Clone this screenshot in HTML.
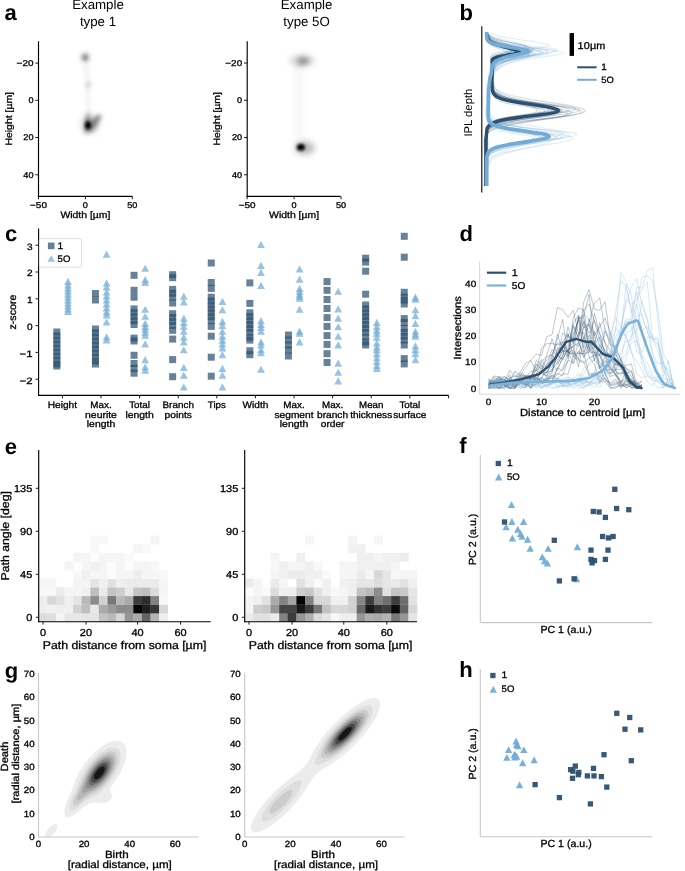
<!DOCTYPE html><html><head><meta charset="utf-8"><title>figure</title><style>html,body{margin:0;padding:0;background:#fff;}svg{display:block;will-change:transform;}text{font-family:"Liberation Sans",sans-serif;text-rendering:geometricPrecision;}</style></head><body>
<svg width="685" height="871" viewBox="0 0 685 871">
<defs><filter id="b1" x="-50%" y="-50%" width="200%" height="200%"><feGaussianBlur stdDeviation="1.4"/></filter><filter id="b2" x="-50%" y="-50%" width="200%" height="200%"><feGaussianBlur stdDeviation="2.0"/></filter><filter id="b3" x="-50%" y="-50%" width="200%" height="200%"><feGaussianBlur stdDeviation="3.0"/></filter></defs>
<rect width="685" height="871" fill="#fff"/>
<text x="4.50" y="20.20" font-size="22.00" text-anchor="start" font-weight="bold" fill="#000">a</text>
<text x="98.00" y="9.30" font-size="13.30" text-anchor="middle" font-weight="normal" fill="#000">Example</text>
<text x="98.00" y="25.80" font-size="13.30" text-anchor="middle" font-weight="normal" fill="#000">type 1</text>
<text x="306.60" y="9.30" font-size="13.30" text-anchor="middle" font-weight="normal" fill="#000">Example</text>
<text x="306.60" y="25.80" font-size="13.30" text-anchor="middle" font-weight="normal" fill="#000">type 5O</text>
<line x1="38.50" y1="41.20" x2="38.50" y2="196.90" stroke="#000" stroke-width="1.15"/>
<line x1="37.93" y1="196.30" x2="132.40" y2="196.30" stroke="#000" stroke-width="1.15"/>
<line x1="35.30" y1="63.06" x2="38.50" y2="63.06" stroke="#000" stroke-width="0.9"/>
<text x="33.50" y="65.96" font-size="8.40" text-anchor="end" fill="#000" textLength="16.88" lengthAdjust="spacingAndGlyphs" stroke="#000" stroke-width="0.3">−20</text>
<line x1="35.30" y1="100.30" x2="38.50" y2="100.30" stroke="#000" stroke-width="0.9"/>
<text x="33.50" y="103.20" font-size="8.40" text-anchor="end" fill="#000" textLength="5.09" lengthAdjust="spacingAndGlyphs" stroke="#000" stroke-width="0.3">0</text>
<line x1="35.30" y1="137.54" x2="38.50" y2="137.54" stroke="#000" stroke-width="0.9"/>
<text x="33.50" y="140.44" font-size="8.40" text-anchor="end" fill="#000" textLength="10.18" lengthAdjust="spacingAndGlyphs" stroke="#000" stroke-width="0.3">20</text>
<line x1="35.30" y1="174.78" x2="38.50" y2="174.78" stroke="#000" stroke-width="0.9"/>
<text x="33.50" y="177.68" font-size="8.40" text-anchor="end" fill="#000" textLength="10.18" lengthAdjust="spacingAndGlyphs" stroke="#000" stroke-width="0.3">40</text>
<line x1="38.50" y1="196.30" x2="38.50" y2="199.20" stroke="#000" stroke-width="0.9"/>
<text x="38.50" y="207.70" font-size="8.40" text-anchor="middle" fill="#000" textLength="16.88" lengthAdjust="spacingAndGlyphs" stroke="#000" stroke-width="0.3">−50</text>
<line x1="85.40" y1="196.30" x2="85.40" y2="199.20" stroke="#000" stroke-width="0.9"/>
<text x="85.40" y="207.70" font-size="8.40" text-anchor="middle" fill="#000" textLength="5.09" lengthAdjust="spacingAndGlyphs" stroke="#000" stroke-width="0.3">0</text>
<line x1="132.30" y1="196.30" x2="132.30" y2="199.20" stroke="#000" stroke-width="0.9"/>
<text x="132.30" y="207.70" font-size="8.40" text-anchor="middle" fill="#000" textLength="10.18" lengthAdjust="spacingAndGlyphs" stroke="#000" stroke-width="0.3">50</text>
<text x="85.40" y="218.00" font-size="9.35" text-anchor="middle" fill="#000" textLength="49.96" lengthAdjust="spacingAndGlyphs" stroke="#000" stroke-width="0.3">Width [µm]</text>
<text x="11.60" y="118.80" font-size="9.35" text-anchor="middle" fill="#000" textLength="53.53" lengthAdjust="spacingAndGlyphs" transform="rotate(-90 11.60 118.80)" stroke="#000" stroke-width="0.3">Height [µm]</text>
<line x1="247.20" y1="41.20" x2="247.20" y2="196.90" stroke="#000" stroke-width="1.15"/>
<line x1="246.63" y1="196.30" x2="340.60" y2="196.30" stroke="#000" stroke-width="1.15"/>
<line x1="244.00" y1="63.06" x2="247.20" y2="63.06" stroke="#000" stroke-width="0.9"/>
<text x="242.20" y="65.96" font-size="8.40" text-anchor="end" fill="#000" textLength="16.88" lengthAdjust="spacingAndGlyphs" stroke="#000" stroke-width="0.3">−20</text>
<line x1="244.00" y1="100.30" x2="247.20" y2="100.30" stroke="#000" stroke-width="0.9"/>
<text x="242.20" y="103.20" font-size="8.40" text-anchor="end" fill="#000" textLength="5.09" lengthAdjust="spacingAndGlyphs" stroke="#000" stroke-width="0.3">0</text>
<line x1="244.00" y1="137.54" x2="247.20" y2="137.54" stroke="#000" stroke-width="0.9"/>
<text x="242.20" y="140.44" font-size="8.40" text-anchor="end" fill="#000" textLength="10.18" lengthAdjust="spacingAndGlyphs" stroke="#000" stroke-width="0.3">20</text>
<line x1="244.00" y1="174.78" x2="247.20" y2="174.78" stroke="#000" stroke-width="0.9"/>
<text x="242.20" y="177.68" font-size="8.40" text-anchor="end" fill="#000" textLength="10.18" lengthAdjust="spacingAndGlyphs" stroke="#000" stroke-width="0.3">40</text>
<line x1="247.20" y1="196.30" x2="247.20" y2="199.20" stroke="#000" stroke-width="0.9"/>
<text x="247.20" y="207.70" font-size="8.40" text-anchor="middle" fill="#000" textLength="16.88" lengthAdjust="spacingAndGlyphs" stroke="#000" stroke-width="0.3">−50</text>
<line x1="294.10" y1="196.30" x2="294.10" y2="199.20" stroke="#000" stroke-width="0.9"/>
<text x="294.10" y="207.70" font-size="8.40" text-anchor="middle" fill="#000" textLength="5.09" lengthAdjust="spacingAndGlyphs" stroke="#000" stroke-width="0.3">0</text>
<line x1="341.00" y1="196.30" x2="341.00" y2="199.20" stroke="#000" stroke-width="0.9"/>
<text x="341.00" y="207.70" font-size="8.40" text-anchor="middle" fill="#000" textLength="10.18" lengthAdjust="spacingAndGlyphs" stroke="#000" stroke-width="0.3">50</text>
<text x="294.10" y="218.00" font-size="9.35" text-anchor="middle" fill="#000" textLength="49.96" lengthAdjust="spacingAndGlyphs" stroke="#000" stroke-width="0.3">Width [µm]</text>
<text x="220.30" y="118.80" font-size="9.35" text-anchor="middle" fill="#000" textLength="53.53" lengthAdjust="spacingAndGlyphs" transform="rotate(-90 220.30 118.80)" stroke="#000" stroke-width="0.3">Height [µm]</text>
<g filter="url(#b2)">
<path d="M85.5,58 L87,80 L88,100 L88.5,120" stroke="#000" stroke-opacity="0.08" stroke-width="3" fill="none"/>
<ellipse cx="85.2" cy="57.3" rx="3.0" ry="3.0" fill="#000" fill-opacity="0.55"/>
<ellipse cx="88.4" cy="84.4" rx="2.4" ry="2.6" fill="#000" fill-opacity="0.2"/>
<path d="M84,132 L85,120 L88,112 L90.5,121 L98.5,114 L102,116.5 L95,128.5 L89.5,133 Z" fill="#000" fill-opacity="0.42"/>
</g>
<g filter="url(#b3)">
<ellipse cx="90" cy="124" rx="9" ry="10" fill="#000" fill-opacity="0.14"/>
<ellipse cx="85.5" cy="57.5" rx="5" ry="5" fill="#000" fill-opacity="0.1"/>
</g>
<g filter="url(#b1)">
<ellipse cx="88.0" cy="125.3" rx="3.0" ry="4.0" fill="#000" fill-opacity="1"/>
</g>
<g filter="url(#b3)">
<ellipse cx="302" cy="60.5" rx="13" ry="5.5" fill="#000" fill-opacity="0.14"/>
<path d="M298.5,64 L298.5,142" stroke="#000" stroke-opacity="0.05" stroke-width="5" fill="none"/>
<ellipse cx="303" cy="61" rx="6" ry="3" fill="#000" fill-opacity="0.55"/>
<ellipse cx="305" cy="148" rx="10" ry="6.5" fill="#000" fill-opacity="0.28"/>
</g>
<g filter="url(#b1)">
<ellipse cx="300.9" cy="147.3" rx="4.1" ry="3.5" fill="#000" fill-opacity="1"/>
</g>
<text x="459.50" y="19.80" font-size="22.00" text-anchor="start" font-weight="bold" fill="#000">b</text>
<line x1="481.80" y1="26.20" x2="481.80" y2="192.40" stroke="#000" stroke-width="1.1"/>
<text x="472.00" y="112.60" font-size="11.30" text-anchor="middle" font-weight="normal" fill="#000" transform="rotate(-90 472.00 112.60)">IPL depth</text>
<path d="M488.4,35.0L488.9,36.0L489.6,37.0L490.4,38.0L491.6,39.1L493.0,40.1L494.8,41.1L496.9,42.1L499.2,43.1L501.7,44.1L504.4,45.1L506.9,46.1L509.1,47.2L510.9,48.2L511.9,49.2L512.2,50.2L510.4,51.2L506.9,52.2L502.6,53.2L498.6,54.3L495.6,55.3L493.7,56.3L492.6,57.3L492.1,58.3L491.8,59.3L491.6,60.3L491.5,61.3L491.5,62.4L491.4,63.4L491.3,64.4L491.3,65.4L491.3,66.4L491.3,67.4L491.3,68.4L491.3,69.5L491.3,70.5L491.3,71.5L491.2,72.5L491.2,73.5L491.2,74.5L491.4,75.5L491.6,76.6L491.9,77.6L492.1,78.6L492.3,79.6L492.6,80.6L492.8,81.6L493.1,82.6L493.3,83.6L493.4,84.7L493.3,85.7L493.3,86.7L493.2,87.7L493.2,88.7L493.3,89.7L493.3,90.7L493.5,91.8L493.8,92.8L494.2,93.8L494.8,94.8L495.7,95.8L496.8,96.8L498.4,97.8L500.4,98.8L502.9,99.9L506.0,100.9L509.5,101.9L513.4,102.9L517.7,103.9L522.0,104.9L526.2,105.9L530.1,107.0L533.3,108.0L535.8,109.0L537.2,110.0L537.5,111.0L536.0,112.0L532.6,113.0L527.6,114.0L521.7,115.1L515.4,116.1L509.3,117.1L503.9,118.1L499.3,119.1L495.7,120.1L493.0,121.1L491.1,122.2L489.7,123.2L488.7,124.2L488.1,125.2L487.6,126.2L487.2,127.2L486.9,128.2L486.7,129.2L486.5,130.3L486.4,131.3L486.2,132.3L486.0,133.3L485.8,134.3L485.6,135.3L485.5,136.3L485.3,137.4L485.1,138.4L484.9,139.4L484.8,140.4L484.9,141.4L484.9,142.4L484.9,143.4L484.9,144.4L484.9,145.5L484.9,146.5L484.9,147.5L484.9,148.5L484.9,149.5L485.0,150.5L485.0,151.5L485.0,152.6L485.0,153.6L485.0,154.6L485.0,155.6L485.0,156.6L485.0,157.6L485.1,158.6L485.1,159.7L485.1,160.7L485.1,161.7L485.1,162.7L485.1,163.7L485.1,164.7L485.1,165.7L485.1,166.7L485.2,167.8L485.2,168.8L485.2,169.8L485.2,170.8L485.2,171.8L485.2,172.8L485.2,173.8L485.2,174.9L485.3,175.9L485.3,176.9L485.3,177.9L485.3,178.9L485.3,179.9L485.3,180.9L485.3,181.9L485.3,183.0L485.3,184.0L485.4,185.0L485.4,186.0" fill="none" stroke="#2c5070" stroke-width="1.1" stroke-opacity="0.2" stroke-linejoin="round" stroke-linecap="butt"/>
<path d="M486.8,35.0L486.9,36.0L487.1,37.0L487.3,38.0L487.7,39.1L488.3,40.1L489.3,41.1L490.6,42.1L492.5,43.1L494.9,44.1L497.8,45.1L500.9,46.1L504.0,47.2L506.9,48.2L509.3,49.2L510.8,50.2L511.4,51.2L510.8,52.2L508.9,53.2L506.3,54.3L503.3,55.3L500.4,56.3L497.8,57.3L495.7,58.3L494.0,59.3L492.9,60.3L492.1,61.3L491.7,62.4L491.5,63.4L491.3,64.4L491.3,65.4L491.4,66.4L491.5,67.4L491.6,68.4L491.7,69.5L491.8,70.5L491.9,71.5L492.0,72.5L492.1,73.5L492.2,74.5L492.2,75.5L492.1,76.6L492.1,77.6L492.0,78.6L492.0,79.6L492.0,80.6L491.9,81.6L491.9,82.6L491.9,83.6L492.0,84.7L492.1,85.7L492.3,86.7L492.5,87.7L492.8,88.7L493.2,89.7L493.8,90.7L494.5,91.8L495.4,92.8L496.5,93.8L497.9,94.8L499.5,95.8L501.4,96.8L503.7,97.8L506.3,98.8L509.2,99.9L512.5,100.9L516.0,101.9L519.7,102.9L523.5,103.9L527.2,104.9L530.7,105.9L533.8,107.0L536.5,108.0L538.6,109.0L540.0,110.0L540.6,111.0L540.3,112.0L538.3,113.0L534.8,114.0L530.0,115.1L524.5,116.1L518.7,117.1L512.9,118.1L507.6,119.1L502.9,120.1L499.0,121.1L495.9,122.2L493.2,123.2L491.2,124.2L489.6,125.2L488.5,126.2L487.6,127.2L487.0,128.2L486.6,129.2L486.4,130.3L486.2,131.3L486.0,132.3L485.9,133.3L485.7,134.3L485.6,135.3L485.4,136.3L485.3,137.4L485.1,138.4L485.0,139.4L484.9,140.4L484.9,141.4L484.9,142.4L484.9,143.4L484.9,144.4L484.9,145.5L484.9,146.5L484.9,147.5L484.9,148.5L484.9,149.5L484.8,150.5L484.8,151.5L484.8,152.6L484.8,153.6L484.8,154.6L484.8,155.6L484.8,156.6L484.8,157.6L484.8,158.6L484.8,159.7L484.8,160.7L484.8,161.7L484.8,162.7L484.8,163.7L484.8,164.7L484.8,165.7L484.8,166.7L484.7,167.8L484.7,168.8L484.7,169.8L484.7,170.8L484.7,171.8L484.7,172.8L484.7,173.8L484.7,174.9L484.7,175.9L484.7,176.9L484.7,177.9L484.7,178.9L484.7,179.9L484.7,180.9L484.7,181.9L484.7,183.0L484.7,184.0L484.7,185.0L484.6,186.0" fill="none" stroke="#2c5070" stroke-width="1.1" stroke-opacity="0.2" stroke-linejoin="round" stroke-linecap="butt"/>
<path d="M487.2,35.0L487.3,36.0L487.5,37.0L487.9,38.0L488.5,39.1L489.5,40.1L490.8,41.1L492.6,42.1L495.2,43.1L498.1,44.1L501.2,45.1L504.4,46.1L507.3,47.2L509.7,48.2L511.4,49.2L512.3,50.2L512.0,51.2L510.3,52.2L507.5,53.2L504.2,54.3L501.0,55.3L498.1,56.3L495.9,57.3L494.2,58.3L493.1,59.3L492.5,60.3L492.2,61.3L492.1,62.4L492.1,63.4L492.2,64.4L492.3,65.4L492.4,66.4L492.5,67.4L492.6,68.4L492.7,69.5L492.7,70.5L492.8,71.5L492.9,72.5L493.0,73.5L493.1,74.5L493.0,75.5L492.7,76.6L492.4,77.6L492.2,78.6L491.9,79.6L491.6,80.6L491.3,81.6L491.1,82.6L490.8,83.6L490.9,84.7L491.3,85.7L491.6,86.7L492.0,87.7L492.5,88.7L493.1,89.7L493.9,90.7L494.8,91.8L495.9,92.8L497.3,93.8L499.0,94.8L500.6,95.8L502.6,96.8L505.0,97.8L507.8,98.8L511.0,99.9L514.5,100.9L518.4,101.9L522.4,102.9L526.5,103.9L530.6,104.9L534.4,105.9L537.8,107.0L540.6,108.0L542.8,109.0L544.1,110.0L544.6,111.0L544.0,112.0L542.1,113.0L539.0,114.0L534.9,115.1L530.1,116.1L524.9,117.1L519.6,118.1L514.4,119.1L509.5,120.1L505.1,121.1L501.2,122.2L497.8,123.2L494.9,124.2L492.6,125.2L490.7,126.2L489.3,127.2L488.2,128.2L487.5,129.2L487.0,130.3L486.6,131.3L486.4,132.3L486.1,133.3L486.0,134.3L485.8,135.3L485.6,136.3L485.5,137.4L485.4,138.4L485.2,139.4L485.2,140.4L485.2,141.4L485.3,142.4L485.3,143.4L485.4,144.4L485.4,145.5L485.5,146.5L485.5,147.5L485.6,148.5L485.6,149.5L485.7,150.5L485.7,151.5L485.8,152.6L485.8,153.6L485.9,154.6L485.9,155.6L486.0,156.6L486.0,157.6L486.1,158.6L486.1,159.7L486.2,160.7L486.2,161.7L486.3,162.7L486.3,163.7L486.4,164.7L486.4,165.7L486.5,166.7L486.5,167.8L486.6,168.8L486.6,169.8L486.7,170.8L486.7,171.8L486.8,172.8L486.8,173.8L486.9,174.9L486.9,175.9L487.0,176.9L487.0,177.9L487.1,178.9L487.1,179.9L487.2,180.9L487.2,181.9L487.3,183.0L487.3,184.0L487.4,185.0L487.4,186.0" fill="none" stroke="#2c5070" stroke-width="1.1" stroke-opacity="0.2" stroke-linejoin="round" stroke-linecap="butt"/>
<path d="M486.8,35.0L487.0,36.0L487.3,37.0L487.5,38.0L487.8,39.1L488.2,40.1L488.6,41.1L489.2,42.1L489.9,43.1L490.9,44.1L492.1,45.1L493.6,46.1L495.5,47.2L497.8,48.2L500.3,49.2L503.1,50.2L506.1,51.2L508.9,52.2L511.6,53.2L513.8,54.3L515.4,55.3L516.4,56.3L516.3,57.3L514.5,58.3L511.4,59.3L507.6,60.3L503.7,61.3L500.3,62.4L497.7,63.4L495.9,64.4L494.6,65.4L493.7,66.4L493.2,67.4L492.8,68.4L492.6,69.5L492.4,70.5L492.3,71.5L492.2,72.5L492.0,73.5L491.9,74.5L491.8,75.5L491.8,76.6L491.8,77.6L491.8,78.6L491.7,79.6L491.7,80.6L491.7,81.6L491.7,82.6L491.7,83.6L491.9,84.7L492.1,85.7L492.3,86.7L492.6,87.7L493.0,88.7L493.5,89.7L494.2,90.7L495.1,91.8L496.3,92.8L497.9,93.8L499.8,94.8L502.0,95.8L504.6,96.8L507.7,97.8L511.4,98.8L515.5,99.9L519.9,100.9L524.6,101.9L529.4,102.9L534.1,103.9L538.5,104.9L542.3,105.9L545.4,107.0L547.6,108.0L548.8,109.0L548.7,110.0L546.6,111.0L542.3,112.0L536.4,113.0L529.5,114.0L522.3,115.1L515.4,116.1L509.1,117.1L503.8,118.1L499.6,119.1L496.4,120.1L494.1,121.1L492.4,122.2L490.7,123.2L489.4,124.2L488.4,125.2L487.5,126.2L486.8,127.2L486.2,128.2L486.2,129.2L486.3,130.3L486.3,131.3L486.4,132.3L486.5,133.3L486.5,134.3L486.6,135.3L486.7,136.3L486.7,137.4L486.8,138.4L486.9,139.4L486.9,140.4L486.8,141.4L486.8,142.4L486.7,143.4L486.7,144.4L486.6,145.5L486.6,146.5L486.5,147.5L486.5,148.5L486.4,149.5L486.4,150.5L486.3,151.5L486.3,152.6L486.2,153.6L486.2,154.6L486.2,155.6L486.1,156.6L486.1,157.6L486.0,158.6L486.0,159.7L485.9,160.7L485.9,161.7L485.8,162.7L485.8,163.7L485.7,164.7L485.7,165.7L485.6,166.7L485.6,167.8L485.5,168.8L485.5,169.8L485.4,170.8L485.4,171.8L485.3,172.8L485.3,173.8L485.2,174.9L485.2,175.9L485.1,176.9L485.1,177.9L485.0,178.9L485.0,179.9L484.9,180.9L484.9,181.9L484.8,183.0L484.8,184.0L484.7,185.0L484.7,186.0" fill="none" stroke="#2c5070" stroke-width="1.1" stroke-opacity="0.2" stroke-linejoin="round" stroke-linecap="butt"/>
<path d="M487.4,35.0L488.4,36.0L489.6,37.0L491.1,38.0L493.0,39.1L495.2,40.1L497.7,41.1L500.5,42.1L503.4,43.1L506.3,44.1L509.2,45.1L511.9,46.1L514.2,47.2L516.0,48.2L517.1,49.2L517.4,50.2L514.9,51.2L509.6,52.2L503.4,53.2L498.0,54.3L494.2,55.3L492.0,56.3L491.0,57.3L490.6,58.3L490.7,59.3L490.9,60.3L491.2,61.3L491.5,62.4L491.7,63.4L492.0,64.4L492.2,65.4L492.2,66.4L492.2,67.4L492.2,68.4L492.2,69.5L492.2,70.5L492.2,71.5L492.2,72.5L492.2,73.5L492.2,74.5L492.1,75.5L492.0,76.6L492.0,77.6L491.9,78.6L491.8,79.6L491.7,80.6L491.6,81.6L491.5,82.6L491.4,83.6L491.5,84.7L491.6,85.7L491.8,86.7L492.0,87.7L492.3,88.7L492.7,89.7L493.3,90.7L494.1,91.8L495.1,92.8L496.6,93.8L498.5,94.8L500.8,95.8L503.7,96.8L507.2,97.8L511.5,98.8L516.4,99.9L521.7,100.9L527.5,101.9L533.3,102.9L538.9,103.9L543.9,104.9L548.1,105.9L551.2,107.0L552.9,108.0L553.2,109.0L551.9,110.0L549.3,111.0L545.5,112.0L540.8,113.0L535.4,114.0L529.7,115.1L523.9,116.1L518.4,117.1L513.2,118.1L508.6,119.1L504.7,120.1L501.4,121.1L498.6,122.2L495.7,123.2L493.3,124.2L491.3,125.2L489.6,126.2L488.2,127.2L487.2,128.2L486.7,129.2L486.4,130.3L486.2,131.3L486.0,132.3L485.8,133.3L485.6,134.3L485.4,135.3L485.3,136.3L485.1,137.4L485.0,138.4L484.8,139.4L484.7,140.4L484.7,141.4L484.7,142.4L484.7,143.4L484.7,144.4L484.7,145.5L484.7,146.5L484.6,147.5L484.6,148.5L484.6,149.5L484.6,150.5L484.6,151.5L484.6,152.6L484.6,153.6L484.6,154.6L484.5,155.6L484.5,156.6L484.5,157.6L484.5,158.6L484.5,159.7L484.5,160.7L484.5,161.7L484.5,162.7L484.4,163.7L484.4,164.7L484.4,165.7L484.4,166.7L484.4,167.8L484.4,168.8L484.4,169.8L484.4,170.8L484.3,171.8L484.3,172.8L484.3,173.8L484.3,174.9L484.3,175.9L484.3,176.9L484.3,177.9L484.3,178.9L484.2,179.9L484.2,180.9L484.2,181.9L484.2,183.0L484.2,184.0L484.2,185.0L484.2,186.0" fill="none" stroke="#2c5070" stroke-width="1.1" stroke-opacity="0.2" stroke-linejoin="round" stroke-linecap="butt"/>
<path d="M486.8,35.0L487.0,36.0L487.3,37.0L487.6,38.0L488.0,39.1L488.6,40.1L489.4,41.1L490.7,42.1L492.6,43.1L495.2,44.1L498.4,45.1L502.2,46.1L506.4,47.2L510.7,48.2L514.6,49.2L517.6,50.2L519.3,51.2L519.3,52.2L516.8,53.2L512.5,54.3L507.4,55.3L502.7,56.3L499.1,57.3L496.6,58.3L494.9,59.3L493.9,60.3L493.5,61.3L493.2,62.4L493.1,63.4L493.0,64.4L492.9,65.4L492.6,66.4L492.4,67.4L492.2,68.4L491.9,69.5L491.7,70.5L491.5,71.5L491.2,72.5L491.0,73.5L490.7,74.5L490.8,75.5L491.1,76.6L491.5,77.6L491.8,78.6L492.2,79.6L492.5,80.6L492.9,81.6L493.3,82.6L493.7,83.6L493.9,84.7L494.1,85.7L494.3,86.7L494.7,87.7L495.2,88.7L495.9,89.7L496.8,90.7L498.0,91.8L499.6,92.8L501.5,93.8L503.9,94.8L506.7,95.8L509.9,96.8L513.5,97.8L517.6,98.8L522.0,99.9L526.6,100.9L531.4,101.9L536.0,102.9L540.5,103.9L544.5,104.9L548.0,105.9L550.7,107.0L552.4,108.0L553.2,109.0L552.8,110.0L550.0,111.0L545.1,112.0L538.7,113.0L531.3,114.0L523.6,115.1L516.3,116.1L509.6,117.1L504.0,118.1L499.5,119.1L496.0,120.1L493.5,121.1L491.7,122.2L490.4,123.2L489.5,124.2L488.9,125.2L488.5,126.2L488.2,127.2L487.9,128.2L487.7,129.2L487.6,130.3L487.4,131.3L487.2,132.3L487.1,133.3L486.9,134.3L486.8,135.3L486.6,136.3L486.4,137.4L486.3,138.4L486.1,139.4L486.0,140.4L486.0,141.4L486.0,142.4L486.0,143.4L486.0,144.4L485.9,145.5L485.9,146.5L485.9,147.5L485.9,148.5L485.9,149.5L485.9,150.5L485.9,151.5L485.8,152.6L485.8,153.6L485.8,154.6L485.8,155.6L485.8,156.6L485.8,157.6L485.8,158.6L485.7,159.7L485.7,160.7L485.7,161.7L485.7,162.7L485.7,163.7L485.7,164.7L485.7,165.7L485.6,166.7L485.6,167.8L485.6,168.8L485.6,169.8L485.6,170.8L485.6,171.8L485.6,172.8L485.6,173.8L485.5,174.9L485.5,175.9L485.5,176.9L485.5,177.9L485.5,178.9L485.5,179.9L485.5,180.9L485.4,181.9L485.4,183.0L485.4,184.0L485.4,185.0L485.4,186.0" fill="none" stroke="#2c5070" stroke-width="1.1" stroke-opacity="0.2" stroke-linejoin="round" stroke-linecap="butt"/>
<path d="M488.7,35.0L489.4,36.0L490.4,37.0L491.6,38.0L493.1,39.1L495.0,40.1L497.3,41.1L499.9,42.1L502.8,43.1L505.9,44.1L509.0,45.1L512.0,46.1L514.6,47.2L516.8,48.2L518.3,49.2L519.1,50.2L518.7,51.2L515.8,52.2L511.1,53.2L505.7,54.3L500.8,55.3L496.8,56.3L494.1,57.3L492.4,58.3L491.5,59.3L491.2,60.3L491.1,61.3L491.1,62.4L491.3,63.4L491.4,64.4L491.5,65.4L491.6,66.4L491.6,67.4L491.7,68.4L491.8,69.5L491.9,70.5L491.9,71.5L492.0,72.5L492.1,73.5L492.2,74.5L492.2,75.5L492.2,76.6L492.2,77.6L492.2,78.6L492.2,79.6L492.3,80.6L492.3,81.6L492.3,82.6L492.4,83.6L492.4,84.7L492.5,85.7L492.7,86.7L492.9,87.7L493.2,88.7L493.7,89.7L494.3,90.7L495.1,91.8L496.2,92.8L497.6,93.8L499.4,94.8L501.5,95.8L504.0,96.8L507.1,97.8L510.6,98.8L514.6,99.9L519.0,100.9L523.7,101.9L528.7,102.9L533.8,103.9L538.8,104.9L543.5,105.9L547.8,107.0L551.5,108.0L554.4,109.0L556.4,110.0L557.3,111.0L557.0,112.0L554.8,113.0L550.9,114.0L545.4,115.1L538.9,116.1L531.9,117.1L524.8,118.1L518.0,119.1L511.8,120.1L506.5,121.1L502.0,122.2L498.2,123.2L495.1,124.2L492.8,125.2L491.0,126.2L489.6,127.2L488.7,128.2L488.2,129.2L487.8,130.3L487.5,131.3L487.3,132.3L487.1,133.3L487.0,134.3L486.9,135.3L486.7,136.3L486.6,137.4L486.5,138.4L486.4,139.4L486.3,140.4L486.3,141.4L486.3,142.4L486.3,143.4L486.4,144.4L486.4,145.5L486.4,146.5L486.4,147.5L486.4,148.5L486.4,149.5L486.4,150.5L486.4,151.5L486.5,152.6L486.5,153.6L486.5,154.6L486.5,155.6L486.5,156.6L486.5,157.6L486.5,158.6L486.5,159.7L486.6,160.7L486.6,161.7L486.6,162.7L486.6,163.7L486.6,164.7L486.6,165.7L486.6,166.7L486.6,167.8L486.7,168.8L486.7,169.8L486.7,170.8L486.7,171.8L486.7,172.8L486.7,173.8L486.7,174.9L486.7,175.9L486.8,176.9L486.8,177.9L486.8,178.9L486.8,179.9L486.8,180.9L486.8,181.9L486.8,183.0L486.8,184.0L486.9,185.0L486.9,186.0" fill="none" stroke="#2c5070" stroke-width="1.1" stroke-opacity="0.2" stroke-linejoin="round" stroke-linecap="butt"/>
<path d="M487.9,35.0L488.0,36.0L488.2,37.0L488.3,38.0L488.6,39.1L488.9,40.1L489.4,41.1L490.2,42.1L491.6,43.1L493.4,44.1L496.0,45.1L499.2,46.1L503.0,47.2L507.4,48.2L511.9,49.2L516.2,50.2L519.8,51.2L522.2,52.2L523.1,53.2L522.0,54.3L518.7,55.3L514.0,56.3L508.9,57.3L504.1,58.3L500.0,59.3L497.0,60.3L495.0,61.3L493.8,62.4L493.1,63.4L492.8,64.4L492.5,65.4L492.3,66.4L492.1,67.4L491.9,68.4L491.7,69.5L491.5,70.5L491.4,71.5L491.2,72.5L491.0,73.5L490.8,74.5L490.9,75.5L491.3,76.6L491.6,77.6L491.9,78.6L492.3,79.6L492.6,80.6L493.0,81.6L493.3,82.6L493.6,83.6L493.7,84.7L493.7,85.7L493.7,86.7L493.7,87.7L493.8,88.7L493.8,89.7L493.9,90.7L494.1,91.8L494.3,92.8L494.7,93.8L495.4,94.8L496.1,95.8L497.3,96.8L498.9,97.8L501.1,98.8L504.0,99.9L507.7,100.9L512.2,101.9L517.5,102.9L523.5,103.9L529.9,104.9L536.6,105.9L543.2,107.0L549.3,108.0L554.5,109.0L558.5,110.0L560.9,111.0L561.5,112.0L560.3,113.0L557.2,114.0L552.4,115.1L546.4,116.1L539.5,117.1L532.2,118.1L524.9,119.1L518.0,120.1L511.7,121.1L506.3,122.2L501.8,123.2L498.1,124.2L495.2,125.2L493.1,126.2L491.5,127.2L490.3,128.2L489.4,129.2L488.7,130.3L488.2,131.3L487.8,132.3L487.5,133.3L487.2,134.3L487.0,135.3L486.8,136.3L486.6,137.4L486.4,138.4L486.2,139.4L486.0,140.4L486.0,141.4L485.9,142.4L485.9,143.4L485.9,144.4L485.8,145.5L485.8,146.5L485.7,147.5L485.7,148.5L485.7,149.5L485.6,150.5L485.6,151.5L485.5,152.6L485.5,153.6L485.4,154.6L485.4,155.6L485.4,156.6L485.3,157.6L485.3,158.6L485.2,159.7L485.2,160.7L485.2,161.7L485.1,162.7L485.1,163.7L485.0,164.7L485.0,165.7L485.0,166.7L484.9,167.8L484.9,168.8L484.8,169.8L484.8,170.8L484.8,171.8L484.7,172.8L484.7,173.8L484.6,174.9L484.6,175.9L484.6,176.9L484.5,177.9L484.5,178.9L484.4,179.9L484.4,180.9L484.3,181.9L484.3,183.0L484.3,184.0L484.2,185.0L484.2,186.0" fill="none" stroke="#2c5070" stroke-width="1.1" stroke-opacity="0.2" stroke-linejoin="round" stroke-linecap="butt"/>
<path d="M487.7,35.0L488.1,36.0L488.7,37.0L489.5,38.0L490.5,39.1L491.9,40.1L493.7,41.1L496.0,42.1L498.9,43.1L502.3,44.1L506.1,45.1L510.2,46.1L514.2,47.2L518.0,48.2L521.1,49.2L523.2,50.2L524.3,51.2L522.6,52.2L516.7,53.2L508.8,54.3L501.7,55.3L496.8,56.3L494.1,57.3L492.9,58.3L492.2,59.3L492.0,60.3L491.9,61.3L491.8,62.4L491.7,63.4L491.6,64.4L491.6,65.4L491.5,66.4L491.4,67.4L491.4,68.4L491.3,69.5L491.3,70.5L491.2,71.5L491.2,72.5L491.1,73.5L491.1,74.5L491.1,75.5L491.2,76.6L491.3,77.6L491.4,78.6L491.5,79.6L491.6,80.6L491.7,81.6L491.8,82.6L491.9,83.6L492.0,84.7L492.0,85.7L492.0,86.7L492.1,87.7L492.3,88.7L492.5,89.7L492.9,90.7L493.4,91.8L494.2,92.8L495.3,93.8L496.8,94.8L498.7,95.8L501.3,96.8L504.4,97.8L508.3,98.8L512.9,99.9L518.2,100.9L524.1,101.9L530.4,102.9L536.8,103.9L543.2,104.9L549.0,105.9L554.1,107.0L558.1,108.0L560.7,109.0L561.8,110.0L561.3,111.0L559.6,112.0L556.7,113.0L552.8,114.0L548.0,115.1L542.6,116.1L536.9,117.1L531.0,118.1L525.2,119.1L519.6,120.1L514.4,121.1L509.6,122.2L504.9,123.2L500.8,124.2L497.2,125.2L494.1,126.2L491.5,127.2L489.5,128.2L488.6,129.2L487.9,130.3L487.5,131.3L487.3,132.3L487.1,133.3L487.1,134.3L487.2,135.3L487.3,136.3L487.5,137.4L487.7,138.4L487.9,139.4L488.0,140.4L487.9,141.4L487.9,142.4L487.9,143.4L487.9,144.4L487.8,145.5L487.8,146.5L487.8,147.5L487.8,148.5L487.7,149.5L487.7,150.5L487.7,151.5L487.7,152.6L487.6,153.6L487.6,154.6L487.6,155.6L487.6,156.6L487.6,157.6L487.5,158.6L487.5,159.7L487.5,160.7L487.5,161.7L487.4,162.7L487.4,163.7L487.4,164.7L487.4,165.7L487.3,166.7L487.3,167.8L487.3,168.8L487.3,169.8L487.3,170.8L487.2,171.8L487.2,172.8L487.2,173.8L487.2,174.9L487.1,175.9L487.1,176.9L487.1,177.9L487.1,178.9L487.1,179.9L487.0,180.9L487.0,181.9L487.0,183.0L487.0,184.0L486.9,185.0L486.9,186.0" fill="none" stroke="#2c5070" stroke-width="1.1" stroke-opacity="0.2" stroke-linejoin="round" stroke-linecap="butt"/>
<path d="M487.4,35.0L487.9,36.0L488.4,37.0L489.1,38.0L490.1,39.1L491.3,40.1L492.8,41.1L494.7,42.1L497.1,43.1L500.0,44.1L503.1,45.1L506.6,46.1L510.2,47.2L513.8,48.2L517.4,49.2L520.6,50.2L523.3,51.2L525.4,52.2L526.7,53.2L527.2,54.3L525.6,55.3L521.9,56.3L517.0,57.3L511.7,58.3L506.6,59.3L502.5,60.3L499.3,61.3L497.3,62.4L496.0,63.4L495.4,64.4L494.9,65.4L494.4,66.4L494.0,67.4L493.7,68.4L493.3,69.5L493.0,70.5L492.7,71.5L492.4,72.5L492.1,73.5L491.8,74.5L491.6,75.5L491.5,76.6L491.4,77.6L491.4,78.6L491.3,79.6L491.2,80.6L491.1,81.6L491.0,82.6L490.9,83.6L491.2,84.7L491.6,85.7L492.1,86.7L492.6,87.7L493.1,88.7L493.8,89.7L494.6,90.7L495.6,91.8L496.8,92.8L498.4,93.8L500.4,94.8L502.5,95.8L505.1,96.8L508.4,97.8L512.6,98.8L517.5,99.9L523.2,100.9L529.6,101.9L536.4,102.9L543.3,103.9L550.1,104.9L556.4,105.9L561.7,107.0L565.7,108.0L568.1,109.0L568.8,110.0L567.3,111.0L563.4,112.0L557.3,113.0L549.7,114.0L541.2,115.1L532.4,116.1L523.9,117.1L516.1,118.1L509.3,119.1L503.7,120.1L499.2,121.1L495.7,122.2L493.0,123.2L490.9,124.2L489.4,125.2L488.2,126.2L487.4,127.2L486.7,128.2L486.6,129.2L486.4,130.3L486.4,131.3L486.3,132.3L486.3,133.3L486.2,134.3L486.2,135.3L486.2,136.3L486.1,137.4L486.1,138.4L486.1,139.4L486.0,140.4L486.1,141.4L486.1,142.4L486.1,143.4L486.1,144.4L486.1,145.5L486.1,146.5L486.1,147.5L486.1,148.5L486.1,149.5L486.1,150.5L486.1,151.5L486.2,152.6L486.2,153.6L486.2,154.6L486.2,155.6L486.2,156.6L486.2,157.6L486.2,158.6L486.2,159.7L486.2,160.7L486.2,161.7L486.3,162.7L486.3,163.7L486.3,164.7L486.3,165.7L486.3,166.7L486.3,167.8L486.3,168.8L486.3,169.8L486.3,170.8L486.3,171.8L486.4,172.8L486.4,173.8L486.4,174.9L486.4,175.9L486.4,176.9L486.4,177.9L486.4,178.9L486.4,179.9L486.4,180.9L486.4,181.9L486.5,183.0L486.5,184.0L486.5,185.0L486.5,186.0" fill="none" stroke="#2c5070" stroke-width="1.1" stroke-opacity="0.2" stroke-linejoin="round" stroke-linecap="butt"/>
<path d="M486.5,35.0L487.0,36.0L487.6,37.0L488.3,38.0L489.2,39.1L490.3,40.1L491.7,41.1L493.6,42.1L495.6,43.1L498.2,44.1L501.4,45.1L505.2,46.1L509.4,47.2L513.8,48.2L518.0,49.2L521.7,50.2L524.6,51.2L526.4,52.2L526.9,53.2L525.4,54.3L522.1,55.3L517.5,56.3L512.2,57.3L507.0,58.3L502.3,59.3L498.4,60.3L495.5,61.3L493.5,62.4L492.1,63.4L491.3,64.4L490.9,65.4L490.8,66.4L490.8,67.4L490.9,68.4L491.0,69.5L491.1,70.5L491.2,71.5L491.3,72.5L491.4,73.5L491.6,74.5L491.6,75.5L491.7,76.6L491.7,77.6L491.7,78.6L491.7,79.6L491.7,80.6L491.8,81.6L491.8,82.6L491.8,83.6L491.9,84.7L492.1,85.7L492.3,86.7L492.4,87.7L492.6,88.7L492.8,89.7L493.0,90.7L493.2,91.8L493.4,92.8L493.7,93.8L494.1,94.8L494.2,95.8L494.5,96.8L495.0,97.8L495.9,98.8L497.3,99.9L499.2,100.9L501.9,101.9L505.5,102.9L510.1,103.9L515.7,104.9L522.2,105.9L529.5,107.0L537.2,108.0L545.1,109.0L552.5,110.0L559.0,111.0L564.0,112.0L567.2,113.0L568.2,114.0L566.7,115.1L562.4,116.1L556.0,117.1L547.8,118.1L538.8,119.1L529.6,120.1L520.8,121.1L513.0,122.2L506.3,123.2L500.9,124.2L496.7,125.2L493.6,126.2L491.3,127.2L489.8,128.2L488.8,129.2L488.2,130.3L487.8,131.3L487.6,132.3L487.4,133.3L487.3,134.3L487.2,135.3L487.1,136.3L487.0,137.4L486.9,138.4L486.8,139.4L486.8,140.4L486.7,141.4L486.7,142.4L486.7,143.4L486.7,144.4L486.6,145.5L486.6,146.5L486.6,147.5L486.5,148.5L486.5,149.5L486.5,150.5L486.4,151.5L486.4,152.6L486.4,153.6L486.3,154.6L486.3,155.6L486.3,156.6L486.2,157.6L486.2,158.6L486.2,159.7L486.1,160.7L486.1,161.7L486.1,162.7L486.0,163.7L486.0,164.7L486.0,165.7L485.9,166.7L485.9,167.8L485.9,168.8L485.8,169.8L485.8,170.8L485.8,171.8L485.7,172.8L485.7,173.8L485.7,174.9L485.6,175.9L485.6,176.9L485.6,177.9L485.5,178.9L485.5,179.9L485.5,180.9L485.4,181.9L485.4,183.0L485.4,184.0L485.3,185.0L485.3,186.0" fill="none" stroke="#2c5070" stroke-width="1.1" stroke-opacity="0.2" stroke-linejoin="round" stroke-linecap="butt"/>
<path d="M486.4,35.0L486.7,36.0L487.0,37.0L487.4,38.0L487.8,39.1L488.4,40.1L489.1,41.1L490.1,42.1L491.4,43.1L493.2,44.1L495.4,45.1L498.2,46.1L501.6,47.2L505.5,48.2L509.8,49.2L514.2,50.2L518.7,51.2L522.7,52.2L526.0,53.2L528.3,54.3L529.4,55.3L529.0,56.3L526.4,57.3L522.2,58.3L517.3,59.3L512.2,60.3L507.5,61.3L503.6,62.4L500.7,63.4L498.8,64.4L497.4,65.4L496.0,66.4L495.1,67.4L494.4,68.4L494.0,69.5L493.5,70.5L493.2,71.5L492.8,72.5L492.5,73.5L492.2,74.5L492.1,75.5L492.2,76.6L492.3,77.6L492.4,78.6L492.5,79.6L492.7,80.6L492.8,81.6L492.9,82.6L493.0,83.6L493.1,84.7L493.2,85.7L493.3,86.7L493.4,87.7L493.5,88.7L493.6,89.7L493.8,90.7L494.0,91.8L494.3,92.8L494.8,93.8L495.4,94.8L496.2,95.8L497.2,96.8L498.8,97.8L501.0,98.8L503.8,99.9L507.5,100.9L512.0,101.9L517.4,102.9L523.7,103.9L530.6,104.9L538.1,105.9L545.6,107.0L552.9,108.0L559.5,109.0L565.0,110.0L569.0,111.0L571.3,112.0L571.6,113.0L570.3,114.0L567.5,115.1L563.4,116.1L558.2,117.1L552.2,118.1L545.7,119.1L538.8,120.1L532.0,121.1L525.4,122.2L519.1,123.2L513.4,124.2L508.3,125.2L503.8,126.2L500.1,127.2L496.9,128.2L494.3,129.2L492.1,130.3L490.4,131.3L489.0,132.3L487.9,133.3L487.0,134.3L486.3,135.3L485.6,136.3L485.1,137.4L484.6,138.4L484.2,139.4L483.9,140.4L483.9,141.4L484.0,142.4L484.0,143.4L484.1,144.4L484.1,145.5L484.1,146.5L484.2,147.5L484.2,148.5L484.3,149.5L484.3,150.5L484.4,151.5L484.4,152.6L484.5,153.6L484.5,154.6L484.6,155.6L484.6,156.6L484.7,157.6L484.7,158.6L484.8,159.7L484.8,160.7L484.9,161.7L484.9,162.7L485.0,163.7L485.0,164.7L485.1,165.7L485.1,166.7L485.2,167.8L485.2,168.8L485.3,169.8L485.3,170.8L485.4,171.8L485.4,172.8L485.5,173.8L485.5,174.9L485.6,175.9L485.6,176.9L485.7,177.9L485.7,178.9L485.8,179.9L485.8,180.9L485.9,181.9L485.9,183.0L486.0,184.0L486.0,185.0L486.1,186.0" fill="none" stroke="#2c5070" stroke-width="1.1" stroke-opacity="0.2" stroke-linejoin="round" stroke-linecap="butt"/>
<path d="M489.0,35.0L489.9,36.0L491.2,37.0L493.1,38.0L495.6,39.1L498.9,40.1L503.0,41.1L507.6,42.1L512.7,43.1L517.7,44.1L522.3,45.1L525.9,46.1L528.2,47.2L528.8,48.2L524.9,49.2L516.7,50.2L507.5,51.2L499.9,52.2L495.0,53.2L492.4,54.3L491.4,55.3L491.1,56.3L491.1,57.3L491.3,58.3L491.3,59.3L491.4,60.3L491.5,61.3L491.6,62.4L491.7,63.4L491.8,64.4L491.8,65.4L491.9,66.4L491.9,67.4L491.9,68.4L492.0,69.5L492.0,70.5L492.0,71.5L492.1,72.5L492.1,73.5L492.1,74.5L492.2,75.5L492.3,76.6L492.4,77.6L492.5,78.6L492.6,79.6L492.8,80.6L492.9,81.6L493.0,82.6L493.1,83.6L493.1,84.7L493.1,85.7L493.1,86.7L493.1,87.7L493.1,88.7L493.1,89.7L493.2,90.7L493.4,91.8L493.8,92.8L494.5,93.8L495.6,94.8L497.2,95.8L499.5,96.8L502.9,97.8L507.5,98.8L513.4,99.9L520.6,100.9L529.0,101.9L538.3,102.9L547.9,103.9L557.1,104.9L565.2,105.9L571.4,107.0L575.0,108.0L575.7,109.0L574.1,110.0L570.6,111.0L565.4,112.0L558.9,113.0L551.4,114.0L543.5,115.1L535.6,116.1L527.9,117.1L520.8,118.1L514.4,119.1L508.9,120.1L504.3,121.1L500.6,122.2L497.1,123.2L494.3,124.2L492.1,125.2L490.3,126.2L488.8,127.2L487.8,128.2L487.2,129.2L486.8,130.3L486.5,131.3L486.2,132.3L486.0,133.3L485.8,134.3L485.6,135.3L485.4,136.3L485.2,137.4L485.0,138.4L484.8,139.4L484.7,140.4L484.7,141.4L484.7,142.4L484.8,143.4L484.8,144.4L484.8,145.5L484.8,146.5L484.8,147.5L484.8,148.5L484.8,149.5L484.8,150.5L484.9,151.5L484.9,152.6L484.9,153.6L484.9,154.6L484.9,155.6L484.9,156.6L484.9,157.6L484.9,158.6L485.0,159.7L485.0,160.7L485.0,161.7L485.0,162.7L485.0,163.7L485.0,164.7L485.0,165.7L485.0,166.7L485.1,167.8L485.1,168.8L485.1,169.8L485.1,170.8L485.1,171.8L485.1,172.8L485.1,173.8L485.1,174.9L485.2,175.9L485.2,176.9L485.2,177.9L485.2,178.9L485.2,179.9L485.2,180.9L485.2,181.9L485.3,183.0L485.3,184.0L485.3,185.0L485.3,186.0" fill="none" stroke="#2c5070" stroke-width="1.1" stroke-opacity="0.2" stroke-linejoin="round" stroke-linecap="butt"/>
<path d="M487.6,35.0L487.8,36.0L488.2,37.0L488.7,38.0L489.4,39.1L490.4,40.1L491.9,41.1L493.9,42.1L496.7,43.1L500.2,44.1L504.3,45.1L509.1,46.1L514.1,47.2L519.2,48.2L524.0,49.2L528.0,50.2L530.9,51.2L532.3,52.2L531.2,53.2L525.8,54.3L517.8,55.3L509.4,56.3L502.6,57.3L497.9,58.3L495.1,59.3L493.8,60.3L493.3,61.3L493.2,62.4L493.2,63.4L493.4,64.4L493.4,65.4L493.4,66.4L493.5,67.4L493.5,68.4L493.5,69.5L493.5,70.5L493.5,71.5L493.5,72.5L493.5,73.5L493.5,74.5L493.5,75.5L493.4,76.6L493.3,77.6L493.2,78.6L493.1,79.6L493.0,80.6L492.9,81.6L492.7,82.6L492.6,83.6L492.6,84.7L492.5,85.7L492.5,86.7L492.5,87.7L492.4,88.7L492.4,89.7L492.5,90.7L492.5,91.8L492.7,92.8L493.1,93.8L493.6,94.8L494.6,95.8L496.1,96.8L498.3,97.8L501.6,98.8L506.0,99.9L511.8,100.9L519.0,101.9L527.5,102.9L537.0,103.9L547.1,104.9L557.0,105.9L566.0,107.0L573.2,108.0L578.0,109.0L579.8,110.0L578.8,111.0L575.7,112.0L570.7,113.0L564.2,114.0L556.5,115.1L548.2,116.1L539.7,117.1L531.3,118.1L523.6,119.1L516.6,120.1L510.5,121.1L505.3,122.2L500.8,123.2L497.2,124.2L494.4,125.2L492.1,126.2L490.4,127.2L489.2,128.2L488.4,129.2L487.8,130.3L487.4,131.3L487.1,132.3L486.8,133.3L486.6,134.3L486.4,135.3L486.3,136.3L486.1,137.4L485.9,138.4L485.8,139.4L485.7,140.4L485.7,141.4L485.7,142.4L485.8,143.4L485.8,144.4L485.8,145.5L485.8,146.5L485.8,147.5L485.8,148.5L485.9,149.5L485.9,150.5L485.9,151.5L485.9,152.6L485.9,153.6L486.0,154.6L486.0,155.6L486.0,156.6L486.0,157.6L486.0,158.6L486.1,159.7L486.1,160.7L486.1,161.7L486.1,162.7L486.1,163.7L486.2,164.7L486.2,165.7L486.2,166.7L486.2,167.8L486.2,168.8L486.2,169.8L486.3,170.8L486.3,171.8L486.3,172.8L486.3,173.8L486.3,174.9L486.4,175.9L486.4,176.9L486.4,177.9L486.4,178.9L486.4,179.9L486.5,180.9L486.5,181.9L486.5,183.0L486.5,184.0L486.5,185.0L486.5,186.0" fill="none" stroke="#2c5070" stroke-width="1.1" stroke-opacity="0.2" stroke-linejoin="round" stroke-linecap="butt"/>
<path d="M488.0,35.0L488.2,36.0L488.6,37.0L489.2,38.0L490.2,39.1L491.6,40.1L493.7,41.1L496.5,42.1L500.3,43.1L504.9,44.1L510.1,45.1L515.6,46.1L521.0,47.2L525.8,48.2L529.5,49.2L531.7,50.2L532.2,51.2L530.3,52.2L526.4,53.2L521.1,54.3L515.1,55.3L509.3,56.3L504.1,57.3L500.0,58.3L497.0,59.3L495.0,60.3L493.7,61.3L493.1,62.4L492.8,63.4L492.7,64.4L492.7,65.4L492.6,66.4L492.5,67.4L492.4,68.4L492.4,69.5L492.3,70.5L492.2,71.5L492.2,72.5L492.1,73.5L492.1,74.5L492.0,75.5L491.9,76.6L491.9,77.6L491.8,78.6L491.8,79.6L491.7,80.6L491.7,81.6L491.6,82.6L491.6,83.6L491.6,84.7L491.6,85.7L491.6,86.7L491.7,87.7L491.9,88.7L492.1,89.7L492.5,90.7L493.0,91.8L493.8,92.8L494.8,93.8L496.3,94.8L498.2,95.8L500.7,96.8L503.9,97.8L507.9,98.8L512.6,99.9L518.2,100.9L524.5,101.9L531.5,102.9L539.0,103.9L546.8,104.9L554.6,105.9L562.0,107.0L568.7,108.0L574.3,109.0L578.5,110.0L581.2,111.0L582.0,112.0L580.8,113.0L577.6,114.0L572.6,115.1L566.1,116.1L558.5,117.1L550.3,118.1L541.8,119.1L533.6,120.1L525.9,121.1L518.8,122.2L512.0,123.2L506.1,124.2L501.2,125.2L497.1,126.2L493.8,127.2L491.3,128.2L489.8,129.2L488.8,130.3L488.0,131.3L487.4,132.3L487.1,133.3L486.8,134.3L486.6,135.3L486.4,136.3L486.3,137.4L486.2,138.4L486.1,139.4L486.1,140.4L486.1,141.4L486.1,142.4L486.1,143.4L486.1,144.4L486.1,145.5L486.1,146.5L486.1,147.5L486.1,148.5L486.1,149.5L486.1,150.5L486.1,151.5L486.1,152.6L486.1,153.6L486.1,154.6L486.1,155.6L486.1,156.6L486.1,157.6L486.1,158.6L486.1,159.7L486.1,160.7L486.1,161.7L486.1,162.7L486.1,163.7L486.1,164.7L486.1,165.7L486.1,166.7L486.1,167.8L486.1,168.8L486.1,169.8L486.1,170.8L486.1,171.8L486.1,172.8L486.1,173.8L486.1,174.9L486.1,175.9L486.1,176.9L486.1,177.9L486.1,178.9L486.1,179.9L486.1,180.9L486.1,181.9L486.1,183.0L486.1,184.0L486.1,185.0L486.1,186.0" fill="none" stroke="#2c5070" stroke-width="1.1" stroke-opacity="0.2" stroke-linejoin="round" stroke-linecap="butt"/>
<path d="M488.8,35.0L490.3,36.0L492.2,37.0L494.5,38.0L497.4,39.1L500.8,40.1L504.8,41.1L509.1,42.1L513.6,43.1L518.1,44.1L522.6,45.1L526.5,46.1L529.8,47.2L532.2,48.2L533.4,49.2L532.9,50.2L528.5,51.2L521.3,52.2L513.0,53.2L505.3,54.3L499.4,55.3L495.4,56.3L493.0,57.3L491.9,58.3L491.4,59.3L491.2,60.3L491.2,61.3L491.3,62.4L491.4,63.4L491.5,64.4L491.6,65.4L491.6,66.4L491.5,67.4L491.5,68.4L491.5,69.5L491.5,70.5L491.4,71.5L491.4,72.5L491.4,73.5L491.4,74.5L491.4,75.5L491.5,76.6L491.6,77.6L491.6,78.6L491.8,79.6L491.9,80.6L492.0,81.6L492.2,82.6L492.4,83.6L492.8,84.7L493.2,85.7L493.8,86.7L494.6,87.7L495.5,88.7L496.7,89.7L498.2,90.7L500.1,91.8L502.4,92.8L505.2,93.8L508.6,94.8L512.3,95.8L516.6,96.8L521.5,97.8L527.0,98.8L533.0,99.9L539.4,100.9L546.0,101.9L552.8,102.9L559.4,103.9L565.8,104.9L571.5,105.9L576.6,107.0L580.6,108.0L583.5,109.0L585.2,110.0L585.5,111.0L584.3,112.0L581.7,113.0L577.7,114.0L572.5,115.1L566.4,116.1L559.6,117.1L552.4,118.1L545.0,119.1L537.6,120.1L530.6,121.1L523.9,122.2L517.3,123.2L511.3,124.2L506.1,125.2L501.5,126.2L497.5,127.2L494.3,128.2L492.3,129.2L490.7,130.3L489.5,131.3L488.6,132.3L488.0,133.3L487.6,134.3L487.3,135.3L487.2,136.3L487.1,137.4L487.1,138.4L487.1,139.4L487.1,140.4L487.1,141.4L487.0,142.4L486.9,143.4L486.9,144.4L486.8,145.5L486.8,146.5L486.7,147.5L486.7,148.5L486.6,149.5L486.6,150.5L486.5,151.5L486.5,152.6L486.4,153.6L486.4,154.6L486.3,155.6L486.3,156.6L486.2,157.6L486.2,158.6L486.2,159.7L486.1,160.7L486.1,161.7L486.0,162.7L486.0,163.7L485.9,164.7L485.9,165.7L485.8,166.7L485.8,167.8L485.7,168.8L485.7,169.8L485.6,170.8L485.6,171.8L485.5,172.8L485.5,173.8L485.5,174.9L485.4,175.9L485.4,176.9L485.3,177.9L485.3,178.9L485.2,179.9L485.2,180.9L485.1,181.9L485.1,183.0L485.0,184.0L485.0,185.0L484.9,186.0" fill="none" stroke="#2c5070" stroke-width="1.1" stroke-opacity="0.2" stroke-linejoin="round" stroke-linecap="butt"/>
<path d="M488.4,33.0L488.2,34.0L487.9,35.1L487.6,36.1L487.4,37.1L487.1,38.1L486.9,39.2L486.8,40.2L487.2,41.2L487.8,42.2L488.9,43.3L490.8,44.3L493.6,45.3L497.5,46.3L502.3,47.4L507.6,48.4L512.5,49.4L516.1,50.5L517.7,51.5L515.7,52.5L512.0,53.5L508.2,54.6L504.5,55.6L501.3,56.6L498.5,57.6L496.3,58.7L494.5,59.7L493.1,60.7L492.1,61.8L491.3,62.8L491.0,63.8L490.8,64.8L490.8,65.9L490.9,66.9L491.0,67.9L490.9,68.9L490.8,70.0L490.7,71.0L490.7,72.0L490.6,73.0L490.2,74.1L489.8,75.1L489.4,76.1L489.0,77.2L488.7,78.2L488.7,79.2L488.7,80.2L488.8,81.3L488.8,82.3L488.8,83.3L488.9,84.3L488.9,85.4L488.9,86.4L489.0,87.4L489.0,88.4L489.0,89.5L489.0,90.5L488.8,91.5L488.7,92.6L488.5,93.6L488.4,94.6L488.3,95.6L488.1,96.7L488.0,97.7L487.8,98.7L487.7,99.7L487.5,100.8L487.4,101.8L487.3,102.8L487.1,103.9L487.0,104.9L486.8,105.9L486.7,106.9L486.6,108.0L486.4,109.0L486.3,110.0L486.1,111.0L486.0,112.1L485.9,113.1L485.7,114.1L485.6,115.1L485.8,116.2L486.0,117.2L486.2,118.2L486.3,119.3L486.5,120.3L486.7,121.3L487.0,122.3L487.3,123.4L487.6,124.4L488.1,125.4L488.9,126.4L490.2,127.5L492.1,128.5L495.0,129.5L498.8,130.6L503.7,131.6L509.6,132.6L515.9,133.6L522.3,134.7L527.8,135.7L531.8,136.7L533.7,137.7L533.7,138.8L533.0,139.8L531.7,140.8L529.9,141.8L527.6,142.9L525.0,143.9L522.0,144.9L518.9,146.0L515.8,147.0L512.6,148.0L509.6,149.0L506.7,150.1L503.8,151.1L501.1,152.1L498.7,153.1L496.6,154.2L494.8,155.2L493.2,156.2L491.9,157.2L490.8,158.3L490.0,159.3L489.4,160.3L489.0,161.4L488.6,162.4L488.3,163.4L488.1,164.4L487.9,165.5L487.8,166.5L487.7,167.5L487.7,168.5L487.6,169.6L487.6,170.6L487.5,171.6L487.5,172.7L487.4,173.7L487.4,174.7L487.4,175.7L487.4,176.8L487.3,177.8L487.3,178.8L487.3,179.8L487.3,180.9L487.2,181.9L487.2,182.9L487.2,183.9L487.1,185.0L487.1,186.0" fill="none" stroke="#72acd6" stroke-width="1.1" stroke-opacity="0.2" stroke-linejoin="round" stroke-linecap="butt"/>
<path d="M486.0,33.0L486.1,34.0L486.2,35.1L486.4,36.1L486.5,37.1L486.7,38.1L486.9,39.2L487.2,40.2L487.6,41.2L488.3,42.2L489.3,43.3L490.6,44.3L492.5,45.3L495.0,46.3L498.1,47.4L501.7,48.4L505.8,49.4L510.1,50.5L514.3,51.5L518.0,52.5L520.6,53.5L522.1,54.6L521.0,55.6L518.0,56.6L514.5,57.6L510.7,58.7L507.0,59.7L503.6,60.7L500.6,61.8L498.1,62.8L496.4,63.8L495.2,64.8L494.4,65.9L493.8,66.9L493.4,67.9L493.2,68.9L493.2,70.0L493.3,71.0L493.4,72.0L493.6,73.0L492.8,74.1L492.1,75.1L491.4,76.1L490.7,77.2L490.1,78.2L490.1,79.2L490.0,80.2L490.0,81.3L489.9,82.3L489.9,83.3L489.9,84.3L489.8,85.4L489.8,86.4L489.8,87.4L489.7,88.4L489.7,89.5L489.7,90.5L489.7,91.5L489.7,92.6L489.6,93.6L489.6,94.6L489.6,95.6L489.6,96.7L489.6,97.7L489.6,98.7L489.6,99.7L489.5,100.8L489.5,101.8L489.5,102.8L489.5,103.9L489.5,104.9L489.5,105.9L489.5,106.9L489.4,108.0L489.4,109.0L489.4,110.0L489.4,111.0L489.4,112.1L489.4,113.1L489.3,114.1L489.3,115.1L489.4,116.2L489.5,117.2L489.5,118.2L489.6,119.3L489.7,120.3L489.9,121.3L490.2,122.3L490.7,123.4L491.4,124.4L492.5,125.4L494.3,126.4L497.0,127.5L500.6,128.5L505.2,129.5L510.7,130.6L516.9,131.6L523.0,132.6L528.6,133.6L532.8,134.7L535.2,135.7L535.4,136.7L534.5,137.7L532.7,138.8L530.2,139.8L527.1,140.8L523.5,141.8L519.6,142.9L515.6,143.9L511.6,144.9L507.9,146.0L504.4,147.0L501.2,148.0L498.5,149.0L496.1,150.1L493.9,151.1L492.0,152.1L490.4,153.1L489.1,154.2L488.1,155.2L487.2,156.2L486.5,157.2L485.9,158.3L485.8,159.3L485.7,160.3L485.7,161.4L485.6,162.4L485.6,163.4L485.7,164.4L485.7,165.5L485.7,166.5L485.7,167.5L485.8,168.5L485.8,169.6L485.8,170.6L485.9,171.6L485.9,172.7L485.9,173.7L486.0,174.7L486.0,175.7L486.0,176.8L486.1,177.8L486.1,178.8L486.1,179.8L486.2,180.9L486.2,181.9L486.2,182.9L486.3,183.9L486.3,185.0L486.3,186.0" fill="none" stroke="#72acd6" stroke-width="1.1" stroke-opacity="0.2" stroke-linejoin="round" stroke-linecap="butt"/>
<path d="M485.7,33.0L485.8,34.0L485.9,35.1L486.0,36.1L486.2,37.1L486.6,38.1L487.2,39.2L488.3,40.2L490.3,41.2L493.3,42.2L497.5,43.3L502.9,44.3L508.9,45.3L514.9,46.3L519.8,47.4L522.6,48.4L522.0,49.4L518.6,50.5L514.6,51.5L510.6,52.5L506.8,53.5L503.5,54.6L500.6,55.6L498.2,56.6L496.3,57.6L494.8,58.7L493.8,59.7L493.0,60.7L492.4,61.8L492.1,62.8L491.8,63.8L491.5,64.8L491.3,65.9L491.2,66.9L491.2,67.9L491.2,68.9L491.3,70.0L491.5,71.0L491.6,72.0L491.7,73.0L491.5,74.1L491.2,75.1L491.0,76.1L490.7,77.2L490.5,78.2L490.4,79.2L490.2,80.2L490.1,81.3L489.9,82.3L489.8,83.3L489.6,84.3L489.5,85.4L489.4,86.4L489.2,87.4L489.1,88.4L488.9,89.5L488.8,90.5L488.8,91.5L488.7,92.6L488.7,93.6L488.6,94.6L488.6,95.6L488.5,96.7L488.5,97.7L488.4,98.7L488.3,99.7L488.3,100.8L488.2,101.8L488.2,102.8L488.1,103.9L488.1,104.9L488.0,105.9L488.0,106.9L487.9,108.0L487.9,109.0L487.8,110.0L487.7,111.0L487.7,112.1L487.6,113.1L487.6,114.1L487.5,115.1L487.6,116.2L487.7,117.2L487.7,118.2L487.8,119.3L488.0,120.3L488.3,121.3L488.8,122.3L489.5,123.4L490.6,124.4L492.2,125.4L494.5,126.4L497.7,127.5L501.7,128.5L506.6,129.5L512.3,130.6L518.4,131.6L524.6,132.6L530.3,133.6L534.9,134.7L538.0,135.7L539.1,136.7L538.3,137.7L535.7,138.8L531.5,139.8L526.3,140.8L520.4,141.8L514.4,142.9L508.8,143.9L503.7,144.9L499.4,146.0L496.0,147.0L493.4,148.0L491.5,149.0L490.2,150.1L489.1,151.1L488.4,152.1L487.9,153.1L487.5,154.2L487.2,155.2L487.0,156.2L486.8,157.2L486.6,158.3L486.6,159.3L486.6,160.3L486.6,161.4L486.6,162.4L486.6,163.4L486.6,164.4L486.6,165.5L486.6,166.5L486.6,167.5L486.6,168.5L486.6,169.6L486.6,170.6L486.6,171.6L486.6,172.7L486.6,173.7L486.6,174.7L486.6,175.7L486.6,176.8L486.6,177.8L486.6,178.8L486.6,179.8L486.6,180.9L486.6,181.9L486.6,182.9L486.6,183.9L486.6,185.0L486.6,186.0" fill="none" stroke="#72acd6" stroke-width="1.1" stroke-opacity="0.2" stroke-linejoin="round" stroke-linecap="butt"/>
<path d="M487.1,33.0L488.4,34.0L490.1,35.1L492.2,36.1L494.9,37.1L498.2,38.1L502.1,39.2L506.4,40.2L510.7,41.2L515.0,42.2L519.1,43.3L522.5,44.3L525.0,45.3L526.3,46.3L525.4,47.4L522.2,48.4L518.4,49.4L514.6,50.5L511.1,51.5L507.8,52.5L504.9,53.5L502.3,54.6L500.2,55.6L498.4,56.6L496.9,57.6L495.7,58.7L494.6,59.7L493.8,60.7L493.2,61.8L492.7,62.8L492.4,63.8L492.2,64.8L492.1,65.9L492.0,66.9L492.1,67.9L492.1,68.9L492.1,70.0L492.1,71.0L492.2,72.0L492.3,73.0L491.7,74.1L491.1,75.1L490.6,76.1L490.0,77.2L489.5,78.2L489.4,79.2L489.3,80.2L489.1,81.3L489.0,82.3L488.9,83.3L488.8,84.3L488.7,85.4L488.5,86.4L488.4,87.4L488.3,88.4L488.2,89.5L488.1,90.5L488.1,91.5L488.0,92.6L488.0,93.6L488.0,94.6L487.9,95.6L487.9,96.7L487.9,97.7L487.8,98.7L487.8,99.7L487.8,100.8L487.8,101.8L487.7,102.8L487.7,103.9L487.7,104.9L487.6,105.9L487.6,106.9L487.6,108.0L487.5,109.0L487.5,110.0L487.5,111.0L487.5,112.1L487.5,113.1L487.5,114.1L487.6,115.1L487.8,116.2L488.2,117.2L488.6,118.2L489.2,119.3L489.9,120.3L491.0,121.3L492.3,122.3L494.1,123.4L496.2,124.4L498.8,125.4L501.9,126.4L505.6,127.5L509.6,128.5L514.1,129.5L518.8,130.6L523.5,131.6L528.0,132.6L532.2,133.6L535.7,134.7L538.4,135.7L540.1,136.7L540.6,137.7L539.7,138.8L537.1,139.8L533.1,140.8L528.0,141.8L522.4,142.9L516.6,143.9L511.0,144.9L506.0,146.0L501.7,147.0L498.2,148.0L495.5,149.0L493.4,150.1L491.5,151.1L490.2,152.1L489.1,153.1L488.4,154.2L487.7,155.2L487.2,156.2L486.8,157.2L486.5,158.3L486.5,159.3L486.6,160.3L486.6,161.4L486.7,162.4L486.7,163.4L486.7,164.4L486.8,165.5L486.8,166.5L486.9,167.5L486.9,168.5L487.0,169.6L487.0,170.6L487.1,171.6L487.1,172.7L487.2,173.7L487.2,174.7L487.3,175.7L487.3,176.8L487.4,177.8L487.4,178.8L487.5,179.8L487.5,180.9L487.6,181.9L487.6,182.9L487.7,183.9L487.7,185.0L487.8,186.0" fill="none" stroke="#72acd6" stroke-width="1.1" stroke-opacity="0.2" stroke-linejoin="round" stroke-linecap="butt"/>
<path d="M486.0,33.0L486.1,34.0L486.2,35.1L486.3,36.1L486.5,37.1L486.6,38.1L486.7,39.2L486.9,40.2L487.2,41.2L487.7,42.2L488.5,43.3L490.0,44.3L492.5,45.3L496.1,46.3L501.2,47.4L507.4,48.4L514.4,49.4L521.3,50.5L526.9,51.5L530.1,52.5L529.7,53.5L526.2,54.6L521.9,55.6L517.6,56.6L513.5,57.6L509.5,58.7L505.9,59.7L502.7,60.7L500.0,61.8L497.7,62.8L496.4,63.8L495.7,64.8L495.3,65.9L495.1,66.9L495.1,67.9L494.2,68.9L493.4,70.0L492.6,71.0L492.0,72.0L491.4,73.0L490.7,74.1L490.1,75.1L489.6,76.1L489.0,77.2L488.6,78.2L488.7,79.2L488.8,80.2L489.0,81.3L489.1,82.3L489.3,83.3L489.4,84.3L489.6,85.4L489.7,86.4L489.9,87.4L490.1,88.4L490.2,89.5L490.3,90.5L490.2,91.5L490.2,92.6L490.1,93.6L490.1,94.6L490.0,95.6L490.0,96.7L489.9,97.7L489.9,98.7L489.9,99.7L489.8,100.8L489.8,101.8L489.7,102.8L489.7,103.9L489.6,104.9L489.6,105.9L489.5,106.9L489.5,108.0L489.4,109.0L489.4,110.0L489.3,111.0L489.3,112.1L489.3,113.1L489.2,114.1L489.2,115.1L489.2,116.2L489.2,117.2L489.3,118.2L489.5,119.3L489.8,120.3L490.4,121.3L491.4,122.3L492.9,123.4L495.2,124.4L498.4,125.4L502.6,126.4L507.9,127.5L514.2,128.5L521.0,129.5L527.9,130.6L534.3,131.6L539.4,132.6L542.7,133.6L543.7,134.7L543.1,135.7L541.6,136.7L539.2,137.7L536.1,138.8L532.4,139.8L528.3,140.8L524.0,141.8L519.5,142.9L515.2,143.9L511.0,144.9L507.1,146.0L503.6,147.0L500.6,148.0L497.9,149.0L495.7,150.1L493.6,151.1L492.0,152.1L490.6,153.1L489.5,154.2L488.7,155.2L488.0,156.2L487.4,157.2L487.0,158.3L486.8,159.3L486.7,160.3L486.6,161.4L486.5,162.4L486.5,163.4L486.5,164.4L486.4,165.5L486.4,166.5L486.4,167.5L486.4,168.5L486.4,169.6L486.4,170.6L486.4,171.6L486.4,172.7L486.4,173.7L486.4,174.7L486.4,175.7L486.4,176.8L486.4,177.8L486.4,178.8L486.4,179.8L486.4,180.9L486.4,181.9L486.4,182.9L486.4,183.9L486.4,185.0L486.4,186.0" fill="none" stroke="#72acd6" stroke-width="1.1" stroke-opacity="0.2" stroke-linejoin="round" stroke-linecap="butt"/>
<path d="M486.3,33.0L486.3,34.0L486.4,35.1L486.5,36.1L486.8,37.1L487.1,38.1L487.7,39.2L488.6,40.2L490.2,41.2L492.3,42.2L495.1,43.3L498.6,44.3L502.8,45.3L507.6,46.3L513.0,47.4L518.5,48.4L523.9,49.4L528.6,50.5L532.1,51.5L534.3,52.5L534.7,53.5L531.4,54.6L527.0,55.6L522.3,56.6L517.8,57.6L513.6,58.7L509.8,59.7L506.6,60.7L503.8,61.8L501.4,62.8L499.2,63.8L497.2,64.8L495.5,65.9L494.1,66.9L493.0,67.9L492.4,68.9L492.1,70.0L491.8,71.0L491.7,72.0L491.6,73.0L491.1,74.1L490.7,75.1L490.3,76.1L489.9,77.2L489.6,78.2L489.5,79.2L489.4,80.2L489.3,81.3L489.2,82.3L489.2,83.3L489.1,84.3L489.0,85.4L488.9,86.4L488.9,87.4L488.8,88.4L488.7,89.5L488.7,90.5L488.6,91.5L488.5,92.6L488.4,93.6L488.3,94.6L488.2,95.6L488.1,96.7L488.0,97.7L487.9,98.7L487.9,99.7L487.8,100.8L487.7,101.8L487.6,102.8L487.5,103.9L487.4,104.9L487.3,105.9L487.2,106.9L487.1,108.0L487.0,109.0L487.0,110.0L486.9,111.0L486.8,112.1L486.7,113.1L486.6,114.1L486.6,115.1L487.1,116.2L487.6,117.2L488.1,118.2L488.8,119.3L489.7,120.3L490.9,121.3L492.4,122.3L494.5,123.4L497.0,124.4L500.0,125.4L503.8,126.4L508.5,127.5L513.9,128.5L520.0,129.5L526.4,130.6L532.7,131.6L538.4,132.6L543.1,133.6L546.5,134.7L548.0,135.7L547.6,136.7L545.2,137.7L541.0,138.8L535.4,139.8L528.9,140.8L522.1,141.8L515.4,142.9L509.2,143.9L503.9,144.9L499.4,146.0L495.9,147.0L493.3,148.0L491.3,149.0L490.0,150.1L489.0,151.1L488.4,152.1L488.0,153.1L487.7,154.2L487.6,155.2L487.4,156.2L487.3,157.2L487.2,158.3L487.2,159.3L487.1,160.3L487.0,161.4L487.0,162.4L486.9,163.4L486.8,164.4L486.8,165.5L486.7,166.5L486.6,167.5L486.5,168.5L486.5,169.6L486.4,170.6L486.3,171.6L486.3,172.7L486.2,173.7L486.1,174.7L486.1,175.7L486.0,176.8L485.9,177.8L485.9,178.8L485.8,179.8L485.7,180.9L485.7,181.9L485.6,182.9L485.5,183.9L485.5,185.0L485.4,186.0" fill="none" stroke="#72acd6" stroke-width="1.1" stroke-opacity="0.2" stroke-linejoin="round" stroke-linecap="butt"/>
<path d="M487.8,33.0L487.7,34.0L487.6,35.1L487.6,36.1L487.5,37.1L487.5,38.1L487.4,39.2L487.5,40.2L487.7,41.2L488.2,42.2L488.9,43.3L490.2,44.3L492.2,45.3L495.3,46.3L499.6,47.4L505.2,48.4L512.0,49.4L519.4,50.5L526.5,51.5L532.3,52.5L535.7,53.5L535.7,54.6L532.5,55.6L528.5,56.6L524.3,57.6L519.9,58.7L515.7,59.7L511.8,60.7L508.4,61.8L505.3,62.8L503.0,63.8L501.1,64.8L499.5,65.9L498.2,66.9L497.3,67.9L495.8,68.9L494.5,70.0L493.3,71.0L492.3,72.0L491.4,73.0L490.9,74.1L490.5,75.1L490.2,76.1L489.9,77.2L489.7,78.2L489.6,79.2L489.5,80.2L489.5,81.3L489.4,82.3L489.4,83.3L489.4,84.3L489.4,85.4L489.4,86.4L489.4,87.4L489.4,88.4L489.3,89.5L489.3,90.5L489.3,91.5L489.3,92.6L489.3,93.6L489.3,94.6L489.3,95.6L489.3,96.7L489.3,97.7L489.3,98.7L489.2,99.7L489.2,100.8L489.2,101.8L489.2,102.8L489.2,103.9L489.2,104.9L489.2,105.9L489.2,106.9L489.2,108.0L489.2,109.0L489.2,110.0L489.3,111.0L489.3,112.1L489.4,113.1L489.6,114.1L489.9,115.1L490.3,116.2L490.8,117.2L491.7,118.2L492.8,119.3L494.4,120.3L496.4,121.3L499.1,122.3L502.3,123.4L506.2,124.4L510.8,125.4L515.9,126.4L521.4,127.5L527.1,128.5L532.8,129.5L538.2,130.6L543.0,131.6L546.8,132.6L549.5,133.6L550.9,134.7L550.9,135.7L549.9,136.7L547.9,137.7L545.1,138.8L541.5,139.8L537.3,140.8L532.7,141.8L528.0,142.9L523.1,143.9L518.4,144.9L513.8,146.0L509.7,147.0L505.9,148.0L502.5,149.0L499.6,150.1L496.8,151.1L494.5,152.1L492.5,153.1L490.8,154.2L489.5,155.2L488.4,156.2L487.4,157.2L486.8,158.3L486.5,159.3L486.3,160.3L486.2,161.4L486.1,162.4L486.1,163.4L486.1,164.4L486.1,165.5L486.1,166.5L486.1,167.5L486.2,168.5L486.2,169.6L486.2,170.6L486.3,171.6L486.3,172.7L486.3,173.7L486.4,174.7L486.4,175.7L486.5,176.8L486.5,177.8L486.5,178.8L486.6,179.8L486.6,180.9L486.7,181.9L486.7,182.9L486.7,183.9L486.8,185.0L486.8,186.0" fill="none" stroke="#72acd6" stroke-width="1.1" stroke-opacity="0.2" stroke-linejoin="round" stroke-linecap="butt"/>
<path d="M487.5,33.0L487.3,34.0L487.2,35.1L487.0,36.1L486.8,37.1L486.7,38.1L486.6,39.2L486.6,40.2L487.2,41.2L488.2,42.2L489.7,43.3L492.1,44.3L495.8,45.3L501.3,46.3L508.6,47.4L517.3,48.4L526.4,49.4L534.2,50.5L539.2,51.5L540.2,52.5L536.7,53.5L532.0,54.6L527.1,55.6L522.1,56.6L517.4,57.6L513.2,58.7L509.5,59.7L506.3,60.7L503.6,61.8L501.3,62.8L499.4,63.8L497.9,64.8L496.7,65.9L495.7,66.9L495.0,67.9L494.5,68.9L494.2,70.0L494.0,71.0L493.9,72.0L493.9,73.0L493.2,74.1L492.5,75.1L491.9,76.1L491.3,77.2L490.8,78.2L490.6,79.2L490.5,80.2L490.3,81.3L490.1,82.3L490.0,83.3L489.8,84.3L489.7,85.4L489.5,86.4L489.4,87.4L489.2,88.4L489.1,89.5L489.0,90.5L489.0,91.5L489.0,92.6L488.9,93.6L488.9,94.6L488.9,95.6L488.9,96.7L488.8,97.7L488.8,98.7L488.8,99.7L488.8,100.8L488.8,101.8L488.7,102.8L488.7,103.9L488.7,104.9L488.7,105.9L488.6,106.9L488.6,108.0L488.6,109.0L488.6,110.0L488.5,111.0L488.5,112.1L488.5,113.1L488.5,114.1L488.4,115.1L488.3,116.2L488.1,117.2L488.0,118.2L487.9,119.3L487.8,120.3L487.8,121.3L487.9,122.3L488.2,123.4L488.8,124.4L489.9,125.4L491.5,126.4L493.7,127.5L496.7,128.5L500.5,129.5L505.2,130.6L510.8,131.6L517.2,132.6L524.0,133.6L530.9,134.7L537.5,135.7L543.3,136.7L547.7,137.7L550.5,138.8L551.3,139.8L550.7,140.8L549.3,141.8L547.0,142.9L544.0,143.9L540.5,144.9L536.4,146.0L532.0,147.0L527.5,148.0L522.9,149.0L518.3,150.1L514.2,151.1L510.3,152.1L506.8,153.1L503.7,154.2L500.9,155.2L498.5,156.2L496.6,157.2L494.9,158.3L493.3,159.3L492.1,160.3L491.1,161.4L490.3,162.4L489.7,163.4L489.2,164.4L488.9,165.5L488.6,166.5L488.4,167.5L488.2,168.5L488.1,169.6L488.0,170.6L487.9,171.6L487.9,172.7L487.8,173.7L487.8,174.7L487.8,175.7L487.7,176.8L487.7,177.8L487.6,178.8L487.6,179.8L487.6,180.9L487.5,181.9L487.5,182.9L487.5,183.9L487.5,185.0L487.4,186.0" fill="none" stroke="#72acd6" stroke-width="1.1" stroke-opacity="0.2" stroke-linejoin="round" stroke-linecap="butt"/>
<path d="M487.1,33.0L487.1,34.0L487.2,35.1L487.4,36.1L487.7,37.1L488.3,38.1L489.3,39.2L490.7,40.2L493.0,41.2L496.0,42.2L499.7,43.3L504.2,44.3L509.5,45.3L515.3,46.3L521.4,47.4L527.5,48.4L533.1,49.4L537.7,50.5L540.9,51.5L542.5,52.5L540.7,53.5L536.0,54.6L530.5,55.6L525.0,56.6L519.8,57.6L515.0,58.7L510.8,59.7L507.1,60.7L504.1,61.8L501.5,62.8L499.6,63.8L498.1,64.8L497.0,65.9L496.2,66.9L495.6,67.9L494.4,68.9L493.2,70.0L492.2,71.0L491.3,72.0L490.5,73.0L490.0,74.1L489.6,75.1L489.2,76.1L488.8,77.2L488.6,78.2L488.6,79.2L488.6,80.2L488.6,81.3L488.7,82.3L488.7,83.3L488.8,84.3L488.9,85.4L488.9,86.4L489.0,87.4L489.0,88.4L489.1,89.5L489.1,90.5L489.1,91.5L489.1,92.6L489.1,93.6L489.1,94.6L489.1,95.6L489.1,96.7L489.1,97.7L489.1,98.7L489.1,99.7L489.1,100.8L489.1,101.8L489.1,102.8L489.1,103.9L489.1,104.9L489.1,105.9L489.1,106.9L489.1,108.0L489.1,109.0L489.1,110.0L489.1,111.0L489.1,112.1L489.1,113.1L489.1,114.1L489.2,115.1L489.4,116.2L489.5,117.2L489.8,118.2L490.0,119.3L490.4,120.3L491.0,121.3L491.8,122.3L492.9,123.4L494.5,124.4L496.6,125.4L499.6,126.4L503.6,127.5L508.7,128.5L514.9,129.5L522.0,130.6L529.7,131.6L537.5,132.6L544.7,133.6L550.8,134.7L555.1,135.7L557.2,136.7L556.8,137.7L554.2,138.8L549.7,139.8L543.6,140.8L536.4,141.8L528.8,142.9L521.3,143.9L514.3,144.9L508.1,146.0L502.8,147.0L498.6,148.0L495.3,149.0L492.9,150.1L491.2,151.1L490.0,152.1L489.1,153.1L488.6,154.2L488.2,155.2L488.0,156.2L487.8,157.2L487.7,158.3L487.6,159.3L487.5,160.3L487.4,161.4L487.3,162.4L487.3,163.4L487.2,164.4L487.1,165.5L487.1,166.5L487.0,167.5L486.9,168.5L486.8,169.6L486.8,170.6L486.7,171.6L486.6,172.7L486.6,173.7L486.5,174.7L486.4,175.7L486.3,176.8L486.3,177.8L486.2,178.8L486.1,179.8L486.1,180.9L486.0,181.9L485.9,182.9L485.9,183.9L485.8,185.0L485.7,186.0" fill="none" stroke="#72acd6" stroke-width="1.1" stroke-opacity="0.2" stroke-linejoin="round" stroke-linecap="butt"/>
<path d="M486.8,33.0L486.8,34.0L486.8,35.1L486.7,36.1L486.7,37.1L486.8,38.1L486.9,39.2L487.2,40.2L487.9,41.2L489.1,42.2L491.1,43.3L494.0,44.3L498.1,45.3L503.8,46.3L510.8,47.4L518.8,48.4L527.1,49.4L534.7,50.5L540.4,51.5L543.5,52.5L541.8,53.5L536.2,54.6L529.8,55.6L523.5,56.6L517.6,57.6L512.2,58.7L507.5,59.7L503.6,60.7L500.3,61.8L497.7,62.8L496.0,63.8L494.9,64.8L494.1,65.9L493.7,66.9L493.5,67.9L492.9,68.9L492.4,70.0L492.0,71.0L491.6,72.0L491.3,73.0L490.8,74.1L490.4,75.1L489.9,76.1L489.5,77.2L489.1,78.2L489.0,79.2L489.0,80.2L489.0,81.3L488.9,82.3L488.9,83.3L488.9,84.3L488.8,85.4L488.8,86.4L488.8,87.4L488.8,88.4L488.7,89.5L488.7,90.5L488.8,91.5L488.8,92.6L488.8,93.6L488.9,94.6L488.9,95.6L489.0,96.7L489.0,97.7L489.1,98.7L489.1,99.7L489.1,100.8L489.2,101.8L489.2,102.8L489.3,103.9L489.3,104.9L489.3,105.9L489.4,106.9L489.4,108.0L489.5,109.0L489.5,110.0L489.5,111.0L489.6,112.1L489.6,113.1L489.7,114.1L489.8,115.1L489.6,116.2L489.4,117.2L489.4,118.2L489.5,119.3L489.9,120.3L490.6,121.3L491.6,122.3L493.3,123.4L495.6,124.4L498.9,125.4L503.1,126.4L508.1,127.5L513.9,128.5L520.4,129.5L527.3,130.6L534.3,131.6L540.9,132.6L546.8,133.6L551.5,134.7L554.6,135.7L555.9,136.7L555.4,137.7L553.2,138.8L549.5,139.8L544.6,140.8L538.8,141.8L532.4,142.9L525.8,143.9L519.3,144.9L513.2,146.0L507.6,147.0L502.8,148.0L498.7,149.0L495.3,150.1L492.6,151.1L490.5,152.1L488.9,153.1L487.7,154.2L486.9,155.2L486.3,156.2L485.8,157.2L485.5,158.3L485.5,159.3L485.6,160.3L485.6,161.4L485.7,162.4L485.8,163.4L485.9,164.4L486.1,165.5L486.2,166.5L486.3,167.5L486.4,168.5L486.6,169.6L486.7,170.6L486.8,171.6L486.9,172.7L487.1,173.7L487.2,174.7L487.3,175.7L487.4,176.8L487.6,177.8L487.7,178.8L487.8,179.8L487.9,180.9L488.1,181.9L488.2,182.9L488.3,183.9L488.5,185.0L488.6,186.0" fill="none" stroke="#72acd6" stroke-width="1.1" stroke-opacity="0.2" stroke-linejoin="round" stroke-linecap="butt"/>
<path d="M485.7,33.0L485.9,34.0L486.1,35.1L486.4,36.1L487.0,37.1L487.8,38.1L489.2,39.2L491.1,40.2L494.0,41.2L497.8,42.2L502.7,43.3L508.6,44.3L515.3,45.3L522.6,46.3L530.0,47.4L536.8,48.4L542.4,49.4L546.2,50.5L547.8,51.5L544.8,52.5L539.4,53.5L533.5,54.6L527.5,55.6L521.8,56.6L516.7,57.6L512.3,58.7L508.5,59.7L505.4,60.7L502.8,61.8L500.8,62.8L499.0,63.8L497.6,64.8L496.6,65.9L495.8,66.9L495.2,67.9L494.5,68.9L494.0,70.0L493.6,71.0L493.2,72.0L492.9,73.0L492.6,74.1L492.2,75.1L491.9,76.1L491.7,77.2L491.4,78.2L491.0,79.2L490.7,80.2L490.3,81.3L489.9,82.3L489.6,83.3L489.2,84.3L488.9,85.4L488.5,86.4L488.2,87.4L487.9,88.4L487.5,89.5L487.3,90.5L487.4,91.5L487.4,92.6L487.4,93.6L487.4,94.6L487.4,95.6L487.4,96.7L487.4,97.7L487.4,98.7L487.5,99.7L487.5,100.8L487.5,101.8L487.5,102.8L487.5,103.9L487.5,104.9L487.5,105.9L487.5,106.9L487.6,108.0L487.6,109.0L487.6,110.0L487.6,111.0L487.6,112.1L487.6,113.1L487.6,114.1L487.7,115.1L487.9,116.2L488.1,117.2L488.4,118.2L488.6,119.3L488.9,120.3L489.2,121.3L489.7,122.3L490.3,123.4L491.2,124.4L492.4,125.4L494.5,126.4L497.7,127.5L502.4,128.5L508.8,129.5L516.9,130.6L526.4,131.6L536.4,132.6L546.1,133.6L554.2,134.7L559.6,135.7L561.4,136.7L560.6,137.7L558.2,138.8L554.4,139.8L549.5,140.8L543.7,141.8L537.3,142.9L530.7,143.9L524.2,144.9L518.0,146.0L512.3,147.0L507.3,148.0L502.9,149.0L499.2,150.1L496.2,151.1L493.7,152.1L491.8,153.1L490.4,154.2L489.3,155.2L488.4,156.2L487.8,157.2L487.4,158.3L487.1,159.3L486.9,160.3L486.7,161.4L486.6,162.4L486.4,163.4L486.3,164.4L486.2,165.5L486.2,166.5L486.1,167.5L486.0,168.5L485.9,169.6L485.8,170.6L485.7,171.6L485.7,172.7L485.6,173.7L485.5,174.7L485.4,175.7L485.3,176.8L485.3,177.8L485.2,178.8L485.1,179.8L485.0,180.9L484.9,181.9L484.9,182.9L484.8,183.9L484.7,185.0L484.6,186.0" fill="none" stroke="#72acd6" stroke-width="1.1" stroke-opacity="0.2" stroke-linejoin="round" stroke-linecap="butt"/>
<path d="M488.1,33.0L487.9,34.0L487.8,35.1L487.6,36.1L487.6,37.1L487.6,38.1L487.9,39.2L488.5,40.2L489.8,41.2L491.8,42.2L494.8,43.3L498.8,44.3L504.0,45.3L510.5,46.3L518.0,47.4L526.1,48.4L534.0,49.4L540.9,50.5L546.1,51.5L548.9,52.5L548.1,53.5L544.1,54.6L539.3,55.6L534.1,56.6L528.9,57.6L524.4,58.7L520.3,59.7L516.7,60.7L513.5,61.8L510.7,62.8L508.0,63.8L505.6,64.8L503.5,65.9L501.8,66.9L500.5,67.9L498.7,68.9L497.0,70.0L495.6,71.0L494.3,72.0L493.2,73.0L492.6,74.1L492.1,75.1L491.7,76.1L491.3,77.2L491.0,78.2L490.7,79.2L490.4,80.2L490.2,81.3L490.0,82.3L489.7,83.3L489.6,84.3L489.4,85.4L489.2,86.4L489.0,87.4L488.9,88.4L488.7,89.5L488.6,90.5L488.6,91.5L488.5,92.6L488.5,93.6L488.4,94.6L488.4,95.6L488.3,96.7L488.3,97.7L488.3,98.7L488.2,99.7L488.2,100.8L488.1,101.8L488.1,102.8L488.1,103.9L488.0,104.9L488.0,105.9L488.0,106.9L488.0,108.0L488.1,109.0L488.2,110.0L488.4,111.0L488.7,112.1L489.1,113.1L489.8,114.1L490.7,115.1L491.8,116.2L493.4,117.2L495.4,118.2L498.1,119.3L501.4,120.3L505.3,121.3L510.0,122.3L515.3,123.4L521.3,124.4L527.7,125.4L534.4,126.4L540.9,127.5L547.1,128.5L552.5,129.5L557.0,130.6L560.3,131.6L562.2,132.6L562.5,133.6L561.2,134.7L558.6,135.7L554.6,136.7L549.5,137.7L543.7,138.8L537.4,139.8L530.9,140.8L524.4,141.8L518.3,142.9L512.6,143.9L507.6,144.9L503.2,146.0L499.5,147.0L496.5,148.0L494.1,149.0L492.2,150.1L490.8,151.1L489.7,152.1L489.0,153.1L488.4,154.2L488.1,155.2L487.8,156.2L487.7,157.2L487.6,158.3L487.4,159.3L487.3,160.3L487.2,161.4L487.1,162.4L487.0,163.4L486.9,164.4L486.8,165.5L486.7,166.5L486.6,167.5L486.6,168.5L486.5,169.6L486.4,170.6L486.3,171.6L486.2,172.7L486.1,173.7L486.1,174.7L486.0,175.7L485.9,176.8L485.8,177.8L485.7,178.8L485.7,179.8L485.6,180.9L485.5,181.9L485.4,182.9L485.3,183.9L485.2,185.0L485.2,186.0" fill="none" stroke="#72acd6" stroke-width="1.1" stroke-opacity="0.2" stroke-linejoin="round" stroke-linecap="butt"/>
<path d="M490.1,33.0L492.2,34.0L495.1,35.1L498.9,36.1L503.7,37.1L509.5,38.1L516.1,39.2L523.2,40.2L530.6,41.2L537.5,42.2L543.4,43.3L547.7,44.3L550.0,45.3L547.9,46.3L540.6,47.4L532.2,48.4L524.2,49.4L516.9,50.5L510.7,51.5L505.6,52.5L501.5,53.5L498.4,54.6L496.0,55.6L494.2,56.6L493.0,57.6L492.3,58.7L492.1,59.7L492.1,60.7L492.2,61.8L492.5,62.8L492.0,63.8L491.5,64.8L490.9,65.9L490.4,66.9L489.9,67.9L490.2,68.9L490.5,70.0L490.9,71.0L491.2,72.0L491.5,73.0L491.1,74.1L490.6,75.1L490.2,76.1L489.7,77.2L489.3,78.2L489.2,79.2L489.0,80.2L488.8,81.3L488.7,82.3L488.5,83.3L488.3,84.3L488.1,85.4L488.0,86.4L487.8,87.4L487.6,88.4L487.4,89.5L487.3,90.5L487.3,91.5L487.2,92.6L487.1,93.6L487.1,94.6L487.0,95.6L487.0,96.7L486.9,97.7L486.8,98.7L486.8,99.7L486.7,100.8L486.6,101.8L486.6,102.8L486.5,103.9L486.5,104.9L486.4,105.9L486.3,106.9L486.3,108.0L486.2,109.0L486.2,110.0L486.2,111.0L486.1,112.1L486.2,113.1L486.3,114.1L486.5,115.1L487.3,116.2L488.2,117.2L489.4,118.2L490.9,119.3L492.8,120.3L495.3,121.3L498.4,122.3L502.2,123.4L506.6,124.4L511.6,125.4L517.3,126.4L523.6,127.5L530.5,128.5L537.6,129.5L544.6,130.6L551.1,131.6L556.7,132.6L561.2,133.6L564.1,134.7L565.3,135.7L564.5,136.7L561.6,137.7L556.8,138.8L550.4,139.8L543.0,140.8L535.0,141.8L526.9,142.9L519.3,143.9L512.3,144.9L506.2,146.0L501.1,147.0L497.0,148.0L493.8,149.0L491.4,150.1L489.7,151.1L488.5,152.1L487.6,153.1L487.1,154.2L486.7,155.2L486.4,156.2L486.2,157.2L486.1,158.3L486.1,159.3L486.1,160.3L486.2,161.4L486.2,162.4L486.2,163.4L486.3,164.4L486.3,165.5L486.3,166.5L486.4,167.5L486.4,168.5L486.5,169.6L486.5,170.6L486.5,171.6L486.6,172.7L486.6,173.7L486.6,174.7L486.7,175.7L486.7,176.8L486.8,177.8L486.8,178.8L486.8,179.8L486.9,180.9L486.9,181.9L486.9,182.9L487.0,183.9L487.0,185.0L487.1,186.0" fill="none" stroke="#72acd6" stroke-width="1.1" stroke-opacity="0.2" stroke-linejoin="round" stroke-linecap="butt"/>
<path d="M486.7,33.0L486.7,34.0L486.7,35.1L486.7,36.1L486.7,37.1L486.9,38.1L487.1,39.2L487.8,40.2L489.2,41.2L491.5,42.2L495.0,43.3L500.2,44.3L507.1,45.3L515.9,46.3L526.0,47.4L536.4,48.4L545.8,49.4L552.6,50.5L555.6,51.5L552.8,52.5L546.7,53.5L539.9,54.6L532.9,55.6L526.2,56.6L520.1,57.6L515.0,58.7L510.7,59.7L507.2,60.7L504.2,61.8L501.9,62.8L499.9,63.8L498.3,64.8L497.1,65.9L496.3,66.9L495.6,67.9L494.6,68.9L493.7,70.0L493.0,71.0L492.3,72.0L491.8,73.0L491.8,74.1L491.8,75.1L491.9,76.1L492.1,77.2L492.1,78.2L491.7,79.2L491.3,80.2L490.9,81.3L490.5,82.3L490.2,83.3L489.8,84.3L489.4,85.4L489.0,86.4L488.7,87.4L488.3,88.4L487.9,89.5L487.8,90.5L487.8,91.5L487.8,92.6L487.8,93.6L487.9,94.6L487.9,95.6L487.9,96.7L488.0,97.7L488.0,98.7L488.0,99.7L488.0,100.8L488.1,101.8L488.1,102.8L488.1,103.9L488.1,104.9L488.2,105.9L488.2,106.9L488.2,108.0L488.3,109.0L488.3,110.0L488.3,111.0L488.4,112.1L488.5,113.1L488.6,114.1L488.8,115.1L489.0,116.2L489.4,117.2L490.0,118.2L491.0,119.3L492.4,120.3L494.5,121.3L497.3,122.3L501.1,123.4L505.9,124.4L511.7,125.4L518.6,126.4L526.3,127.5L534.6,128.5L543.1,129.5L551.2,130.6L558.4,131.6L564.1,132.6L567.9,133.6L569.5,134.7L569.0,135.7L567.1,136.7L564.1,137.7L559.9,138.8L554.8,139.8L549.1,140.8L542.9,141.8L536.5,142.9L530.1,143.9L523.9,144.9L518.1,146.0L512.7,147.0L507.9,148.0L503.7,149.0L500.1,150.1L497.0,151.1L494.4,152.1L492.3,153.1L490.6,154.2L489.3,155.2L488.2,156.2L487.4,157.2L486.8,158.3L486.4,159.3L486.2,160.3L486.0,161.4L485.9,162.4L485.9,163.4L485.8,164.4L485.8,165.5L485.8,166.5L485.8,167.5L485.8,168.5L485.8,169.6L485.8,170.6L485.9,171.6L485.9,172.7L485.9,173.7L485.9,174.7L485.9,175.7L485.9,176.8L485.9,177.8L486.0,178.8L486.0,179.8L486.0,180.9L486.0,181.9L486.0,182.9L486.0,183.9L486.0,185.0L486.0,186.0" fill="none" stroke="#72acd6" stroke-width="1.1" stroke-opacity="0.2" stroke-linejoin="round" stroke-linecap="butt"/>
<path d="M488.9,33.0L488.8,34.0L488.7,35.1L488.6,36.1L488.7,37.1L488.9,38.1L489.5,39.2L490.8,40.2L493.3,41.2L497.3,42.2L503.2,43.3L511.0,44.3L520.7,45.3L531.6,46.3L542.2,47.4L551.2,48.4L556.9,49.4L558.0,50.5L554.6,51.5L549.9,52.5L544.7,53.5L539.3,54.6L534.0,55.6L529.0,56.6L524.2,57.6L519.6,58.7L515.2,59.7L511.2,60.7L507.7,61.8L504.5,62.8L502.5,63.8L501.1,64.8L500.0,65.9L499.1,66.9L498.5,67.9L497.2,68.9L495.9,70.0L494.8,71.0L493.8,72.0L492.9,73.0L492.4,74.1L491.9,75.1L491.5,76.1L491.2,77.2L490.9,78.2L490.6,79.2L490.4,80.2L490.1,81.3L489.9,82.3L489.7,83.3L489.5,84.3L489.3,85.4L489.2,86.4L489.0,87.4L488.9,88.4L488.7,89.5L488.6,90.5L488.7,91.5L488.7,92.6L488.7,93.6L488.7,94.6L488.7,95.6L488.8,96.7L488.8,97.7L488.8,98.7L488.8,99.7L488.8,100.8L488.9,101.8L488.9,102.8L488.9,103.9L488.9,104.9L489.0,105.9L489.0,106.9L489.0,108.0L489.0,109.0L489.0,110.0L489.1,111.0L489.1,112.1L489.1,113.1L489.2,114.1L489.2,115.1L489.4,116.2L489.7,117.2L490.0,118.2L490.4,119.3L490.9,120.3L491.7,121.3L492.8,122.3L494.4,123.4L496.5,124.4L499.2,125.4L502.9,126.4L507.6,127.5L513.5,128.5L520.5,129.5L528.4,130.6L537.0,131.6L545.7,132.6L554.2,133.6L561.7,134.7L567.7,135.7L571.6,136.7L573.2,137.7L572.6,138.8L570.7,139.8L567.6,140.8L563.4,141.8L558.2,142.9L552.4,143.9L546.2,144.9L539.7,146.0L533.2,147.0L526.8,148.0L520.9,149.0L515.4,150.1L510.5,151.1L506.1,152.1L502.4,153.1L499.3,154.2L496.7,155.2L494.5,156.2L492.9,157.2L491.5,158.3L490.5,159.3L489.7,160.3L489.1,161.4L488.7,162.4L488.3,163.4L488.1,164.4L487.9,165.5L487.7,166.5L487.6,167.5L487.5,168.5L487.4,169.6L487.3,170.6L487.3,171.6L487.2,172.7L487.1,173.7L487.1,174.7L487.0,175.7L486.9,176.8L486.9,177.8L486.8,178.8L486.7,179.8L486.7,180.9L486.6,181.9L486.6,182.9L486.5,183.9L486.4,185.0L486.4,186.0" fill="none" stroke="#72acd6" stroke-width="1.1" stroke-opacity="0.2" stroke-linejoin="round" stroke-linecap="butt"/>
<path d="M485.9,33.0L486.0,34.0L486.0,35.1L486.1,36.1L486.3,37.1L486.5,38.1L486.9,39.2L487.7,40.2L489.4,41.2L491.9,42.2L495.3,43.3L500.2,44.3L506.5,45.3L514.5,46.3L524.0,47.4L534.3,48.4L544.8,49.4L553.9,50.5L560.4,51.5L564.0,52.5L563.1,53.5L557.9,54.6L551.6,55.6L544.8,56.6L538.0,57.6L531.6,58.7L525.5,59.7L519.9,60.7L514.9,61.8L510.5,62.8L507.1,63.8L504.4,64.8L502.1,65.9L500.3,66.9L498.8,67.9L497.8,68.9L497.0,70.0L496.5,71.0L496.1,72.0L495.9,73.0L494.8,74.1L493.8,75.1L492.9,76.1L492.1,77.2L491.4,78.2L491.1,79.2L490.8,80.2L490.6,81.3L490.4,82.3L490.2,83.3L490.1,84.3L489.9,85.4L489.8,86.4L489.6,87.4L489.5,88.4L489.3,89.5L489.3,90.5L489.3,91.5L489.3,92.6L489.3,93.6L489.3,94.6L489.3,95.6L489.3,96.7L489.3,97.7L489.3,98.7L489.3,99.7L489.3,100.8L489.3,101.8L489.3,102.8L489.3,103.9L489.4,104.9L489.4,105.9L489.4,106.9L489.4,108.0L489.4,109.0L489.4,110.0L489.4,111.0L489.4,112.1L489.4,113.1L489.4,114.1L489.4,115.1L489.5,116.2L489.5,117.2L489.6,118.2L489.9,119.3L490.5,120.3L491.4,121.3L493.1,122.3L495.7,123.4L499.6,124.4L505.1,125.4L512.4,126.4L521.6,127.5L532.3,128.5L543.8,129.5L555.1,130.6L565.1,131.6L572.6,132.6L576.4,133.6L576.4,134.7L573.6,135.7L568.6,136.7L561.6,137.7L553.2,138.8L544.1,139.8L534.8,140.8L525.9,141.8L517.8,142.9L510.6,143.9L504.6,144.9L499.8,146.0L496.0,147.0L493.2,148.0L491.1,149.0L489.6,150.1L488.4,151.1L487.6,152.1L486.9,153.1L486.5,154.2L486.1,155.2L485.7,156.2L485.4,157.2L485.2,158.3L485.3,159.3L485.4,160.3L485.4,161.4L485.5,162.4L485.6,163.4L485.6,164.4L485.7,165.5L485.8,166.5L485.8,167.5L485.9,168.5L486.0,169.6L486.0,170.6L486.1,171.6L486.2,172.7L486.2,173.7L486.3,174.7L486.4,175.7L486.4,176.8L486.5,177.8L486.6,178.8L486.6,179.8L486.7,180.9L486.8,181.9L486.8,182.9L486.9,183.9L487.0,185.0L487.0,186.0" fill="none" stroke="#72acd6" stroke-width="1.1" stroke-opacity="0.2" stroke-linejoin="round" stroke-linecap="butt"/>
<path d="M487.0,34.0L487.2,35.0L487.3,36.0L487.5,37.1L487.8,38.1L488.2,39.1L488.7,40.1L489.6,41.1L490.8,42.2L492.6,43.2L494.9,44.2L497.9,45.2L501.4,46.2L505.3,47.3L509.4,48.3L513.2,49.3L516.3,50.3L518.4,51.3L519.3,52.4L517.2,53.4L512.1,54.4L505.7,55.4L500.0,56.4L496.0,57.5L493.6,58.5L492.5,59.5L492.1,60.5L492.1,61.5L492.2,62.6L492.3,63.6L492.4,64.6L492.5,65.6L492.5,66.6L492.4,67.7L492.4,68.7L492.4,69.7L492.3,70.7L492.3,71.7L492.3,72.8L492.2,73.8L492.2,74.8L492.2,75.8L492.1,76.8L492.1,77.9L492.0,78.9L492.0,79.9L491.9,80.9L491.9,81.9L491.8,83.0L491.8,84.0L491.9,85.0L491.9,86.0L492.0,87.0L492.1,88.1L492.2,89.1L492.4,90.1L492.6,91.1L492.9,92.1L493.3,93.2L494.0,94.2L494.9,95.2L496.1,96.2L497.8,97.2L500.1,98.3L503.2,99.3L507.2,100.3L511.9,101.3L517.5,102.3L523.8,103.4L530.5,104.4L537.4,105.4L543.9,106.4L549.7,107.4L554.3,108.5L557.3,109.5L558.5,110.5L557.6,111.5L554.1,112.6L548.4,113.6L541.1,114.6L533.0,115.6L524.7,116.6L517.0,117.7L510.1,118.7L504.4,119.7L499.9,120.7L496.5,121.7L493.7,122.8L491.6,123.8L490.1,124.8L488.9,125.8L488.0,126.8L487.3,127.9L487.0,128.9L486.9,129.9L486.8,130.9L486.7,131.9L486.6,133.0L486.5,134.0L486.4,135.0L486.3,136.0L486.2,137.0L486.2,138.1L486.1,139.1L486.0,140.1L486.0,141.1L486.0,142.1L486.0,143.2L486.0,144.2L486.0,145.2L486.0,146.2L486.0,147.2L486.0,148.3L486.0,149.3L486.0,150.3L486.0,151.3L486.0,152.3L486.0,153.4L486.0,154.4L486.0,155.4L486.0,156.4L486.0,157.4L486.0,158.5L486.0,159.5L486.0,160.5L486.0,161.5L486.0,162.5L486.0,163.6L486.0,164.6L486.0,165.6L486.0,166.6L486.0,167.6L486.0,168.7L486.0,169.7L486.0,170.7L486.0,171.7L486.0,172.7L486.0,173.8L486.0,174.8L486.0,175.8L486.0,176.8L486.0,177.8L486.0,178.9L486.0,179.9L486.0,180.9L486.0,181.9L486.0,182.9L486.0,184.0L486.0,185.0L486.0,186.0" fill="none" stroke="#2c5070" stroke-width="3.4" stroke-opacity="1.0" stroke-linejoin="round" stroke-linecap="butt"/>
<path d="M486.6,32.0L486.6,33.0L486.7,34.1L486.7,35.1L486.7,36.1L486.8,37.2L486.9,38.2L487.2,39.2L487.7,40.3L488.6,41.3L490.1,42.3L492.4,43.4L495.7,44.4L500.1,45.4L505.5,46.5L511.6,47.5L517.8,48.5L523.2,49.6L527.0,50.6L528.5,51.6L525.7,52.7L521.1,53.7L516.2,54.7L511.5,55.8L507.3,56.8L503.7,57.8L500.8,58.9L498.4,59.9L496.5,60.9L495.1,62.0L494.0,63.0L493.2,64.0L492.7,65.1L492.3,66.1L492.1,67.1L492.0,68.2L491.8,69.2L491.6,70.2L491.5,71.3L491.4,72.3L491.3,73.3L491.0,74.4L490.7,75.4L490.4,76.4L490.2,77.5L489.9,78.5L489.8,79.5L489.7,80.6L489.6,81.6L489.4,82.6L489.3,83.7L489.2,84.7L489.0,85.7L488.9,86.8L488.8,87.8L488.6,88.8L488.5,89.9L488.5,90.9L488.5,91.9L488.5,93.0L488.5,94.0L488.4,95.0L488.4,96.1L488.4,97.1L488.4,98.1L488.4,99.2L488.4,100.2L488.4,101.2L488.4,102.3L488.3,103.3L488.3,104.3L488.3,105.4L488.3,106.4L488.3,107.4L488.3,108.5L488.3,109.5L488.3,110.6L488.2,111.6L488.2,112.6L488.2,113.7L488.2,114.7L488.2,115.7L488.3,116.8L488.4,117.8L488.5,118.8L488.7,119.9L489.1,120.9L489.6,121.9L490.5,123.0L491.9,124.0L493.8,125.0L496.6,126.1L500.4,127.1L505.2,128.1L511.1,129.2L517.8,130.2L525.1,131.2L532.4,132.3L539.0,133.3L544.4,134.3L547.8,135.4L549.0,136.4L548.0,137.4L544.9,138.5L540.3,139.5L534.3,140.5L527.7,141.6L520.8,142.6L514.2,143.6L508.2,144.7L503.0,145.7L498.7,146.7L495.3,147.8L492.8,148.8L490.9,149.8L489.6,150.9L488.6,151.9L488.0,152.9L487.6,154.0L487.3,155.0L487.1,156.0L486.9,157.1L486.8,158.1L486.8,159.1L486.8,160.2L486.8,161.2L486.8,162.2L486.8,163.3L486.8,164.3L486.7,165.3L486.7,166.4L486.7,167.4L486.7,168.4L486.7,169.5L486.7,170.5L486.7,171.5L486.7,172.6L486.7,173.6L486.7,174.6L486.7,175.7L486.7,176.7L486.7,177.7L486.7,178.8L486.6,179.8L486.6,180.8L486.6,181.9L486.6,182.9L486.6,183.9L486.6,185.0L486.6,186.0" fill="none" stroke="#72acd6" stroke-width="3.7" stroke-opacity="1.0" stroke-linejoin="round" stroke-linecap="butt"/>
<rect x="569.6" y="33.1" width="4.4" height="22.8" fill="#000"/>
<text x="577.60" y="48.60" font-size="9.97" text-anchor="start" fill="#000" textLength="12.09" lengthAdjust="spacingAndGlyphs" stroke="#000" stroke-width="0.3">10</text>
<text x="590.00" y="48.60" font-size="9.97" text-anchor="start" fill="#000" textLength="15.30" lengthAdjust="spacingAndGlyphs" stroke="#000" stroke-width="0.3">µm</text>
<line x1="577.20" y1="67.30" x2="596.60" y2="67.30" stroke="#2c5070" stroke-width="2.0"/>
<line x1="577.20" y1="79.80" x2="596.60" y2="79.80" stroke="#72acd6" stroke-width="2.0"/>
<text x="601.30" y="70.00" font-size="9.24" text-anchor="start" fill="#000" textLength="5.60" lengthAdjust="spacingAndGlyphs" stroke="#000" stroke-width="0.3">1</text>
<text x="601.30" y="82.70" font-size="9.24" text-anchor="start" fill="#000" textLength="12.53" lengthAdjust="spacingAndGlyphs" stroke="#000" stroke-width="0.3">5O</text>
<text x="5.00" y="241.00" font-size="22.00" text-anchor="start" font-weight="bold" fill="#000">c</text>
<line x1="38.60" y1="228.50" x2="38.60" y2="396.00" stroke="#000" stroke-width="1.1"/>
<line x1="38.05" y1="395.40" x2="448.60" y2="395.40" stroke="#000" stroke-width="1.1"/>
<line x1="448.60" y1="395.40" x2="448.60" y2="398.30" stroke="#000" stroke-width="0.9"/>
<line x1="35.50" y1="245.20" x2="38.60" y2="245.20" stroke="#000" stroke-width="0.9"/>
<text x="32.50" y="249.50" font-size="9.24" text-anchor="end" fill="#000" textLength="5.60" lengthAdjust="spacingAndGlyphs" stroke="#000" stroke-width="0.3">3</text>
<line x1="35.50" y1="272.00" x2="38.60" y2="272.00" stroke="#000" stroke-width="0.9"/>
<text x="32.50" y="276.30" font-size="9.24" text-anchor="end" fill="#000" textLength="5.60" lengthAdjust="spacingAndGlyphs" stroke="#000" stroke-width="0.3">2</text>
<line x1="35.50" y1="298.80" x2="38.60" y2="298.80" stroke="#000" stroke-width="0.9"/>
<text x="32.50" y="303.10" font-size="9.24" text-anchor="end" fill="#000" textLength="5.60" lengthAdjust="spacingAndGlyphs" stroke="#000" stroke-width="0.3">1</text>
<line x1="35.50" y1="325.60" x2="38.60" y2="325.60" stroke="#000" stroke-width="0.9"/>
<text x="32.50" y="329.90" font-size="9.24" text-anchor="end" fill="#000" textLength="5.60" lengthAdjust="spacingAndGlyphs" stroke="#000" stroke-width="0.3">0</text>
<line x1="35.50" y1="352.40" x2="38.60" y2="352.40" stroke="#000" stroke-width="0.9"/>
<text x="32.50" y="356.70" font-size="9.24" text-anchor="end" fill="#000" textLength="12.97" lengthAdjust="spacingAndGlyphs" stroke="#000" stroke-width="0.3">−1</text>
<line x1="35.50" y1="379.20" x2="38.60" y2="379.20" stroke="#000" stroke-width="0.9"/>
<text x="32.50" y="383.50" font-size="9.24" text-anchor="end" fill="#000" textLength="12.97" lengthAdjust="spacingAndGlyphs" stroke="#000" stroke-width="0.3">−2</text>
<text x="15.90" y="312.10" font-size="10.29" text-anchor="middle" fill="#000" textLength="35.01" lengthAdjust="spacingAndGlyphs" transform="rotate(-90 15.90 312.10)" stroke="#000" stroke-width="0.3">z-score</text>
<line x1="62.40" y1="395.40" x2="62.40" y2="398.30" stroke="#000" stroke-width="0.9"/>
<text x="62.40" y="408.10" font-size="9.35" text-anchor="middle" fill="#000" textLength="29.42" lengthAdjust="spacingAndGlyphs" stroke="#000" stroke-width="0.3">Height</text>
<rect x="53.35" y="328.50" width="7.00" height="7.00" fill="#2c5070" fill-opacity="0.72"/>
<rect x="53.35" y="332.50" width="7.00" height="7.00" fill="#2c5070" fill-opacity="0.72"/>
<rect x="53.35" y="336.50" width="7.00" height="7.00" fill="#2c5070" fill-opacity="0.72"/>
<rect x="53.35" y="340.50" width="7.00" height="7.00" fill="#2c5070" fill-opacity="0.72"/>
<rect x="53.35" y="344.50" width="7.00" height="7.00" fill="#2c5070" fill-opacity="0.72"/>
<rect x="53.35" y="348.50" width="7.00" height="7.00" fill="#2c5070" fill-opacity="0.72"/>
<rect x="53.35" y="352.50" width="7.00" height="7.00" fill="#2c5070" fill-opacity="0.72"/>
<rect x="53.35" y="356.50" width="7.00" height="7.00" fill="#2c5070" fill-opacity="0.72"/>
<rect x="53.35" y="360.50" width="7.00" height="7.00" fill="#2c5070" fill-opacity="0.72"/>
<rect x="53.35" y="362.50" width="7.00" height="7.00" fill="#2c5070" fill-opacity="0.72"/>
<path d="M68.00,277.84 L71.90,285.04 L64.10,285.04 Z" fill="#72acd6" fill-opacity="0.72"/>
<path d="M68.00,281.34 L71.90,288.54 L64.10,288.54 Z" fill="#72acd6" fill-opacity="0.72"/>
<path d="M68.00,284.34 L71.90,291.54 L64.10,291.54 Z" fill="#72acd6" fill-opacity="0.72"/>
<path d="M68.00,287.34 L71.90,294.54 L64.10,294.54 Z" fill="#72acd6" fill-opacity="0.72"/>
<path d="M68.00,290.34 L71.90,297.54 L64.10,297.54 Z" fill="#72acd6" fill-opacity="0.72"/>
<path d="M68.00,293.34 L71.90,300.54 L64.10,300.54 Z" fill="#72acd6" fill-opacity="0.72"/>
<path d="M68.00,296.34 L71.90,303.54 L64.10,303.54 Z" fill="#72acd6" fill-opacity="0.72"/>
<path d="M68.00,299.34 L71.90,306.54 L64.10,306.54 Z" fill="#72acd6" fill-opacity="0.72"/>
<path d="M68.00,302.34 L71.90,309.54 L64.10,309.54 Z" fill="#72acd6" fill-opacity="0.72"/>
<path d="M68.00,305.34 L71.90,312.54 L64.10,312.54 Z" fill="#72acd6" fill-opacity="0.72"/>
<path d="M68.00,307.84 L71.90,315.04 L64.10,315.04 Z" fill="#72acd6" fill-opacity="0.72"/>
<line x1="101.00" y1="395.40" x2="101.00" y2="398.30" stroke="#000" stroke-width="0.9"/>
<text x="101.00" y="408.10" font-size="9.35" text-anchor="middle" fill="#000" textLength="21.23" lengthAdjust="spacingAndGlyphs" stroke="#000" stroke-width="0.3">Max.</text>
<text x="101.00" y="417.60" font-size="9.35" text-anchor="middle" fill="#000" textLength="31.85" lengthAdjust="spacingAndGlyphs" stroke="#000" stroke-width="0.3">neurite</text>
<text x="101.00" y="427.10" font-size="9.35" text-anchor="middle" fill="#000" textLength="28.37" lengthAdjust="spacingAndGlyphs" stroke="#000" stroke-width="0.3">length</text>
<rect x="91.95" y="290.00" width="7.00" height="7.00" fill="#2c5070" fill-opacity="0.72"/>
<rect x="91.95" y="296.50" width="7.00" height="7.00" fill="#2c5070" fill-opacity="0.72"/>
<rect x="91.95" y="325.50" width="7.00" height="7.00" fill="#2c5070" fill-opacity="0.72"/>
<rect x="91.95" y="329.50" width="7.00" height="7.00" fill="#2c5070" fill-opacity="0.72"/>
<rect x="91.95" y="333.50" width="7.00" height="7.00" fill="#2c5070" fill-opacity="0.72"/>
<rect x="91.95" y="337.50" width="7.00" height="7.00" fill="#2c5070" fill-opacity="0.72"/>
<rect x="91.95" y="341.50" width="7.00" height="7.00" fill="#2c5070" fill-opacity="0.72"/>
<rect x="91.95" y="345.50" width="7.00" height="7.00" fill="#2c5070" fill-opacity="0.72"/>
<rect x="91.95" y="349.50" width="7.00" height="7.00" fill="#2c5070" fill-opacity="0.72"/>
<rect x="91.95" y="353.50" width="7.00" height="7.00" fill="#2c5070" fill-opacity="0.72"/>
<rect x="91.95" y="357.50" width="7.00" height="7.00" fill="#2c5070" fill-opacity="0.72"/>
<rect x="91.95" y="360.50" width="7.00" height="7.00" fill="#2c5070" fill-opacity="0.72"/>
<path d="M106.60,250.54 L110.50,257.74 L102.70,257.74 Z" fill="#72acd6" fill-opacity="0.72"/>
<path d="M106.60,279.34 L110.50,286.54 L102.70,286.54 Z" fill="#72acd6" fill-opacity="0.72"/>
<path d="M106.60,283.34 L110.50,290.54 L102.70,290.54 Z" fill="#72acd6" fill-opacity="0.72"/>
<path d="M106.60,288.34 L110.50,295.54 L102.70,295.54 Z" fill="#72acd6" fill-opacity="0.72"/>
<path d="M106.60,292.34 L110.50,299.54 L102.70,299.54 Z" fill="#72acd6" fill-opacity="0.72"/>
<path d="M106.60,296.34 L110.50,303.54 L102.70,303.54 Z" fill="#72acd6" fill-opacity="0.72"/>
<path d="M106.60,300.34 L110.50,307.54 L102.70,307.54 Z" fill="#72acd6" fill-opacity="0.72"/>
<path d="M106.60,304.34 L110.50,311.54 L102.70,311.54 Z" fill="#72acd6" fill-opacity="0.72"/>
<path d="M106.60,308.34 L110.50,315.54 L102.70,315.54 Z" fill="#72acd6" fill-opacity="0.72"/>
<path d="M106.60,311.34 L110.50,318.54 L102.70,318.54 Z" fill="#72acd6" fill-opacity="0.72"/>
<path d="M106.60,318.34 L110.50,325.54 L102.70,325.54 Z" fill="#72acd6" fill-opacity="0.72"/>
<path d="M106.60,333.34 L110.50,340.54 L102.70,340.54 Z" fill="#72acd6" fill-opacity="0.72"/>
<path d="M106.60,336.34 L110.50,343.54 L102.70,343.54 Z" fill="#72acd6" fill-opacity="0.72"/>
<line x1="139.60" y1="395.40" x2="139.60" y2="398.30" stroke="#000" stroke-width="0.9"/>
<text x="139.60" y="408.10" font-size="9.35" text-anchor="middle" fill="#000" textLength="20.79" lengthAdjust="spacingAndGlyphs" stroke="#000" stroke-width="0.3">Total</text>
<text x="139.60" y="417.60" font-size="9.35" text-anchor="middle" fill="#000" textLength="28.37" lengthAdjust="spacingAndGlyphs" stroke="#000" stroke-width="0.3">length</text>
<rect x="130.55" y="271.80" width="7.00" height="7.00" fill="#2c5070" fill-opacity="0.72"/>
<rect x="130.55" y="286.80" width="7.00" height="7.00" fill="#2c5070" fill-opacity="0.72"/>
<rect x="130.55" y="293.70" width="7.00" height="7.00" fill="#2c5070" fill-opacity="0.72"/>
<rect x="130.55" y="305.40" width="7.00" height="7.00" fill="#2c5070" fill-opacity="0.72"/>
<rect x="130.55" y="309.30" width="7.00" height="7.00" fill="#2c5070" fill-opacity="0.72"/>
<rect x="130.55" y="313.20" width="7.00" height="7.00" fill="#2c5070" fill-opacity="0.72"/>
<rect x="130.55" y="317.10" width="7.00" height="7.00" fill="#2c5070" fill-opacity="0.72"/>
<rect x="130.55" y="321.00" width="7.00" height="7.00" fill="#2c5070" fill-opacity="0.72"/>
<rect x="130.55" y="334.60" width="7.00" height="7.00" fill="#2c5070" fill-opacity="0.72"/>
<rect x="130.55" y="337.50" width="7.00" height="7.00" fill="#2c5070" fill-opacity="0.72"/>
<rect x="130.55" y="351.80" width="7.00" height="7.00" fill="#2c5070" fill-opacity="0.72"/>
<rect x="130.55" y="360.00" width="7.00" height="7.00" fill="#2c5070" fill-opacity="0.72"/>
<rect x="130.55" y="364.90" width="7.00" height="7.00" fill="#2c5070" fill-opacity="0.72"/>
<rect x="130.55" y="369.70" width="7.00" height="7.00" fill="#2c5070" fill-opacity="0.72"/>
<path d="M145.20,264.64 L149.10,271.84 L141.30,271.84 Z" fill="#72acd6" fill-opacity="0.72"/>
<path d="M145.20,275.94 L149.10,283.14 L141.30,283.14 Z" fill="#72acd6" fill-opacity="0.72"/>
<path d="M145.20,278.84 L149.10,286.04 L141.30,286.04 Z" fill="#72acd6" fill-opacity="0.72"/>
<path d="M145.20,305.64 L149.10,312.84 L141.30,312.84 Z" fill="#72acd6" fill-opacity="0.72"/>
<path d="M145.20,312.64 L149.10,319.84 L141.30,319.84 Z" fill="#72acd6" fill-opacity="0.72"/>
<path d="M145.20,319.84 L149.10,327.04 L141.30,327.04 Z" fill="#72acd6" fill-opacity="0.72"/>
<path d="M145.20,322.74 L149.10,329.94 L141.30,329.94 Z" fill="#72acd6" fill-opacity="0.72"/>
<path d="M145.20,325.64 L149.10,332.84 L141.30,332.84 Z" fill="#72acd6" fill-opacity="0.72"/>
<path d="M145.20,328.64 L149.10,335.84 L141.30,335.84 Z" fill="#72acd6" fill-opacity="0.72"/>
<path d="M145.20,331.54 L149.10,338.74 L141.30,338.74 Z" fill="#72acd6" fill-opacity="0.72"/>
<path d="M145.20,340.34 L149.10,347.54 L141.30,347.54 Z" fill="#72acd6" fill-opacity="0.72"/>
<path d="M145.20,355.94 L149.10,363.14 L141.30,363.14 Z" fill="#72acd6" fill-opacity="0.72"/>
<path d="M145.20,363.34 L149.10,370.54 L141.30,370.54 Z" fill="#72acd6" fill-opacity="0.72"/>
<path d="M145.20,366.64 L149.10,373.84 L141.30,373.84 Z" fill="#72acd6" fill-opacity="0.72"/>
<line x1="178.20" y1="395.40" x2="178.20" y2="398.30" stroke="#000" stroke-width="0.9"/>
<text x="178.20" y="408.10" font-size="9.35" text-anchor="middle" fill="#000" textLength="31.39" lengthAdjust="spacingAndGlyphs" stroke="#000" stroke-width="0.3">Branch</text>
<text x="178.20" y="417.60" font-size="9.35" text-anchor="middle" fill="#000" textLength="27.33" lengthAdjust="spacingAndGlyphs" stroke="#000" stroke-width="0.3">points</text>
<rect x="169.15" y="271.20" width="7.00" height="7.00" fill="#2c5070" fill-opacity="0.72"/>
<rect x="169.15" y="274.20" width="7.00" height="7.00" fill="#2c5070" fill-opacity="0.72"/>
<rect x="169.15" y="285.90" width="7.00" height="7.00" fill="#2c5070" fill-opacity="0.72"/>
<rect x="169.15" y="289.80" width="7.00" height="7.00" fill="#2c5070" fill-opacity="0.72"/>
<rect x="169.15" y="293.70" width="7.00" height="7.00" fill="#2c5070" fill-opacity="0.72"/>
<rect x="169.15" y="299.50" width="7.00" height="7.00" fill="#2c5070" fill-opacity="0.72"/>
<rect x="169.15" y="310.20" width="7.00" height="7.00" fill="#2c5070" fill-opacity="0.72"/>
<rect x="169.15" y="314.10" width="7.00" height="7.00" fill="#2c5070" fill-opacity="0.72"/>
<rect x="169.15" y="318.00" width="7.00" height="7.00" fill="#2c5070" fill-opacity="0.72"/>
<rect x="169.15" y="321.90" width="7.00" height="7.00" fill="#2c5070" fill-opacity="0.72"/>
<rect x="169.15" y="326.80" width="7.00" height="7.00" fill="#2c5070" fill-opacity="0.72"/>
<rect x="169.15" y="335.60" width="7.00" height="7.00" fill="#2c5070" fill-opacity="0.72"/>
<rect x="169.15" y="356.10" width="7.00" height="7.00" fill="#2c5070" fill-opacity="0.72"/>
<rect x="169.15" y="373.20" width="7.00" height="7.00" fill="#2c5070" fill-opacity="0.72"/>
<path d="M183.80,292.54 L187.70,299.74 L179.90,299.74 Z" fill="#72acd6" fill-opacity="0.72"/>
<path d="M183.80,298.34 L187.70,305.54 L179.90,305.54 Z" fill="#72acd6" fill-opacity="0.72"/>
<path d="M183.80,314.54 L187.70,321.74 L179.90,321.74 Z" fill="#72acd6" fill-opacity="0.72"/>
<path d="M183.80,318.84 L187.70,326.04 L179.90,326.04 Z" fill="#72acd6" fill-opacity="0.72"/>
<path d="M183.80,322.74 L187.70,329.94 L179.90,329.94 Z" fill="#72acd6" fill-opacity="0.72"/>
<path d="M183.80,327.64 L187.70,334.84 L179.90,334.84 Z" fill="#72acd6" fill-opacity="0.72"/>
<path d="M183.80,333.54 L187.70,340.74 L179.90,340.74 Z" fill="#72acd6" fill-opacity="0.72"/>
<path d="M183.80,338.34 L187.70,345.54 L179.90,345.54 Z" fill="#72acd6" fill-opacity="0.72"/>
<path d="M183.80,346.14 L187.70,353.34 L179.90,353.34 Z" fill="#72acd6" fill-opacity="0.72"/>
<path d="M183.80,363.74 L187.70,370.94 L179.90,370.94 Z" fill="#72acd6" fill-opacity="0.72"/>
<path d="M183.80,371.54 L187.70,378.74 L179.90,378.74 Z" fill="#72acd6" fill-opacity="0.72"/>
<path d="M183.80,383.24 L187.70,390.44 L179.90,390.44 Z" fill="#72acd6" fill-opacity="0.72"/>
<line x1="216.80" y1="395.40" x2="216.80" y2="398.30" stroke="#000" stroke-width="0.9"/>
<text x="216.80" y="408.10" font-size="9.35" text-anchor="middle" fill="#000" textLength="17.92" lengthAdjust="spacingAndGlyphs" stroke="#000" stroke-width="0.3">Tips</text>
<rect x="207.75" y="259.50" width="7.00" height="7.00" fill="#2c5070" fill-opacity="0.72"/>
<rect x="207.75" y="279.00" width="7.00" height="7.00" fill="#2c5070" fill-opacity="0.72"/>
<rect x="207.75" y="284.90" width="7.00" height="7.00" fill="#2c5070" fill-opacity="0.72"/>
<rect x="207.75" y="293.70" width="7.00" height="7.00" fill="#2c5070" fill-opacity="0.72"/>
<rect x="207.75" y="297.60" width="7.00" height="7.00" fill="#2c5070" fill-opacity="0.72"/>
<rect x="207.75" y="301.50" width="7.00" height="7.00" fill="#2c5070" fill-opacity="0.72"/>
<rect x="207.75" y="305.40" width="7.00" height="7.00" fill="#2c5070" fill-opacity="0.72"/>
<rect x="207.75" y="309.30" width="7.00" height="7.00" fill="#2c5070" fill-opacity="0.72"/>
<rect x="207.75" y="313.20" width="7.00" height="7.00" fill="#2c5070" fill-opacity="0.72"/>
<rect x="207.75" y="317.10" width="7.00" height="7.00" fill="#2c5070" fill-opacity="0.72"/>
<rect x="207.75" y="322.90" width="7.00" height="7.00" fill="#2c5070" fill-opacity="0.72"/>
<rect x="207.75" y="332.70" width="7.00" height="7.00" fill="#2c5070" fill-opacity="0.72"/>
<rect x="207.75" y="353.70" width="7.00" height="7.00" fill="#2c5070" fill-opacity="0.72"/>
<rect x="207.75" y="372.70" width="7.00" height="7.00" fill="#2c5070" fill-opacity="0.72"/>
<path d="M222.40,297.84 L226.30,305.04 L218.50,305.04 Z" fill="#72acd6" fill-opacity="0.72"/>
<path d="M222.40,306.14 L226.30,313.34 L218.50,313.34 Z" fill="#72acd6" fill-opacity="0.72"/>
<path d="M222.40,317.84 L226.30,325.04 L218.50,325.04 Z" fill="#72acd6" fill-opacity="0.72"/>
<path d="M222.40,321.74 L226.30,328.94 L218.50,328.94 Z" fill="#72acd6" fill-opacity="0.72"/>
<path d="M222.40,327.64 L226.30,334.84 L218.50,334.84 Z" fill="#72acd6" fill-opacity="0.72"/>
<path d="M222.40,332.54 L226.30,339.74 L218.50,339.74 Z" fill="#72acd6" fill-opacity="0.72"/>
<path d="M222.40,336.44 L226.30,343.64 L218.50,343.64 Z" fill="#72acd6" fill-opacity="0.72"/>
<path d="M222.40,340.34 L226.30,347.54 L218.50,347.54 Z" fill="#72acd6" fill-opacity="0.72"/>
<path d="M222.40,344.24 L226.30,351.44 L218.50,351.44 Z" fill="#72acd6" fill-opacity="0.72"/>
<path d="M222.40,351.04 L226.30,358.24 L218.50,358.24 Z" fill="#72acd6" fill-opacity="0.72"/>
<path d="M222.40,364.74 L226.30,371.94 L218.50,371.94 Z" fill="#72acd6" fill-opacity="0.72"/>
<path d="M222.40,371.54 L226.30,378.74 L218.50,378.74 Z" fill="#72acd6" fill-opacity="0.72"/>
<path d="M222.40,383.24 L226.30,390.44 L218.50,390.44 Z" fill="#72acd6" fill-opacity="0.72"/>
<line x1="255.40" y1="395.40" x2="255.40" y2="398.30" stroke="#000" stroke-width="0.9"/>
<text x="255.40" y="408.10" font-size="9.35" text-anchor="middle" fill="#000" textLength="25.86" lengthAdjust="spacingAndGlyphs" stroke="#000" stroke-width="0.3">Width</text>
<rect x="246.35" y="279.40" width="7.00" height="7.00" fill="#2c5070" fill-opacity="0.72"/>
<rect x="246.35" y="299.90" width="7.00" height="7.00" fill="#2c5070" fill-opacity="0.72"/>
<rect x="246.35" y="309.30" width="7.00" height="7.00" fill="#2c5070" fill-opacity="0.72"/>
<rect x="246.35" y="313.20" width="7.00" height="7.00" fill="#2c5070" fill-opacity="0.72"/>
<rect x="246.35" y="317.10" width="7.00" height="7.00" fill="#2c5070" fill-opacity="0.72"/>
<rect x="246.35" y="321.00" width="7.00" height="7.00" fill="#2c5070" fill-opacity="0.72"/>
<rect x="246.35" y="324.90" width="7.00" height="7.00" fill="#2c5070" fill-opacity="0.72"/>
<rect x="246.35" y="328.80" width="7.00" height="7.00" fill="#2c5070" fill-opacity="0.72"/>
<rect x="246.35" y="333.70" width="7.00" height="7.00" fill="#2c5070" fill-opacity="0.72"/>
<rect x="246.35" y="336.60" width="7.00" height="7.00" fill="#2c5070" fill-opacity="0.72"/>
<rect x="246.35" y="347.30" width="7.00" height="7.00" fill="#2c5070" fill-opacity="0.72"/>
<rect x="246.35" y="351.20" width="7.00" height="7.00" fill="#2c5070" fill-opacity="0.72"/>
<path d="M261.00,240.84 L264.90,248.04 L257.10,248.04 Z" fill="#72acd6" fill-opacity="0.72"/>
<path d="M261.00,261.74 L264.90,268.94 L257.10,268.94 Z" fill="#72acd6" fill-opacity="0.72"/>
<path d="M261.00,268.74 L264.90,275.94 L257.10,275.94 Z" fill="#72acd6" fill-opacity="0.72"/>
<path d="M261.00,281.84 L264.90,289.04 L257.10,289.04 Z" fill="#72acd6" fill-opacity="0.72"/>
<path d="M261.00,316.94 L264.90,324.14 L257.10,324.14 Z" fill="#72acd6" fill-opacity="0.72"/>
<path d="M261.00,320.84 L264.90,328.04 L257.10,328.04 Z" fill="#72acd6" fill-opacity="0.72"/>
<path d="M261.00,323.74 L264.90,330.94 L257.10,330.94 Z" fill="#72acd6" fill-opacity="0.72"/>
<path d="M261.00,327.64 L264.90,334.84 L257.10,334.84 Z" fill="#72acd6" fill-opacity="0.72"/>
<path d="M261.00,338.34 L264.90,345.54 L257.10,345.54 Z" fill="#72acd6" fill-opacity="0.72"/>
<path d="M261.00,341.34 L264.90,348.54 L257.10,348.54 Z" fill="#72acd6" fill-opacity="0.72"/>
<path d="M261.00,346.14 L264.90,353.34 L257.10,353.34 Z" fill="#72acd6" fill-opacity="0.72"/>
<path d="M261.00,349.14 L264.90,356.34 L257.10,356.34 Z" fill="#72acd6" fill-opacity="0.72"/>
<path d="M261.00,365.64 L264.90,372.84 L257.10,372.84 Z" fill="#72acd6" fill-opacity="0.72"/>
<line x1="294.00" y1="395.40" x2="294.00" y2="398.30" stroke="#000" stroke-width="0.9"/>
<text x="294.00" y="408.10" font-size="9.35" text-anchor="middle" fill="#000" textLength="21.23" lengthAdjust="spacingAndGlyphs" stroke="#000" stroke-width="0.3">Max.</text>
<text x="294.00" y="417.60" font-size="9.35" text-anchor="middle" fill="#000" textLength="39.04" lengthAdjust="spacingAndGlyphs" stroke="#000" stroke-width="0.3">segment</text>
<text x="294.00" y="427.10" font-size="9.35" text-anchor="middle" fill="#000" textLength="28.37" lengthAdjust="spacingAndGlyphs" stroke="#000" stroke-width="0.3">length</text>
<rect x="284.95" y="331.50" width="7.00" height="7.00" fill="#2c5070" fill-opacity="0.72"/>
<rect x="284.95" y="336.50" width="7.00" height="7.00" fill="#2c5070" fill-opacity="0.72"/>
<rect x="284.95" y="341.50" width="7.00" height="7.00" fill="#2c5070" fill-opacity="0.72"/>
<rect x="284.95" y="346.50" width="7.00" height="7.00" fill="#2c5070" fill-opacity="0.72"/>
<rect x="284.95" y="352.50" width="7.00" height="7.00" fill="#2c5070" fill-opacity="0.72"/>
<path d="M299.60,265.24 L303.50,272.44 L295.70,272.44 Z" fill="#72acd6" fill-opacity="0.72"/>
<path d="M299.60,275.54 L303.50,282.74 L295.70,282.74 Z" fill="#72acd6" fill-opacity="0.72"/>
<path d="M299.60,284.74 L303.50,291.94 L295.70,291.94 Z" fill="#72acd6" fill-opacity="0.72"/>
<path d="M299.60,287.64 L303.50,294.84 L295.70,294.84 Z" fill="#72acd6" fill-opacity="0.72"/>
<path d="M299.60,290.54 L303.50,297.74 L295.70,297.74 Z" fill="#72acd6" fill-opacity="0.72"/>
<path d="M299.60,292.54 L303.50,299.74 L295.70,299.74 Z" fill="#72acd6" fill-opacity="0.72"/>
<path d="M299.60,294.44 L303.50,301.64 L295.70,301.64 Z" fill="#72acd6" fill-opacity="0.72"/>
<path d="M299.60,305.64 L303.50,312.84 L295.70,312.84 Z" fill="#72acd6" fill-opacity="0.72"/>
<path d="M299.60,327.64 L303.50,334.84 L295.70,334.84 Z" fill="#72acd6" fill-opacity="0.72"/>
<path d="M299.60,329.54 L303.50,336.74 L295.70,336.74 Z" fill="#72acd6" fill-opacity="0.72"/>
<path d="M299.60,338.34 L303.50,345.54 L295.70,345.54 Z" fill="#72acd6" fill-opacity="0.72"/>
<line x1="332.60" y1="395.40" x2="332.60" y2="398.30" stroke="#000" stroke-width="0.9"/>
<text x="332.60" y="408.10" font-size="9.35" text-anchor="middle" fill="#000" textLength="21.23" lengthAdjust="spacingAndGlyphs" stroke="#000" stroke-width="0.3">Max.</text>
<text x="332.60" y="417.60" font-size="9.35" text-anchor="middle" fill="#000" textLength="30.94" lengthAdjust="spacingAndGlyphs" stroke="#000" stroke-width="0.3">branch</text>
<text x="332.60" y="427.10" font-size="9.35" text-anchor="middle" fill="#000" textLength="23.73" lengthAdjust="spacingAndGlyphs" stroke="#000" stroke-width="0.3">order</text>
<rect x="323.55" y="278.10" width="7.00" height="7.00" fill="#2c5070" fill-opacity="0.72"/>
<rect x="323.55" y="286.80" width="7.00" height="7.00" fill="#2c5070" fill-opacity="0.72"/>
<rect x="323.55" y="296.00" width="7.00" height="7.00" fill="#2c5070" fill-opacity="0.72"/>
<rect x="323.55" y="305.00" width="7.00" height="7.00" fill="#2c5070" fill-opacity="0.72"/>
<rect x="323.55" y="314.10" width="7.00" height="7.00" fill="#2c5070" fill-opacity="0.72"/>
<rect x="323.55" y="322.90" width="7.00" height="7.00" fill="#2c5070" fill-opacity="0.72"/>
<rect x="323.55" y="332.10" width="7.00" height="7.00" fill="#2c5070" fill-opacity="0.72"/>
<rect x="323.55" y="340.90" width="7.00" height="7.00" fill="#2c5070" fill-opacity="0.72"/>
<rect x="323.55" y="350.20" width="7.00" height="7.00" fill="#2c5070" fill-opacity="0.72"/>
<rect x="323.55" y="359.00" width="7.00" height="7.00" fill="#2c5070" fill-opacity="0.72"/>
<path d="M338.20,287.64 L342.10,294.84 L334.30,294.84 Z" fill="#72acd6" fill-opacity="0.72"/>
<path d="M338.20,305.24 L342.10,312.44 L334.30,312.44 Z" fill="#72acd6" fill-opacity="0.72"/>
<path d="M338.20,314.54 L342.10,321.74 L334.30,321.74 Z" fill="#72acd6" fill-opacity="0.72"/>
<path d="M338.20,323.14 L342.10,330.34 L334.30,330.34 Z" fill="#72acd6" fill-opacity="0.72"/>
<path d="M338.20,332.54 L342.10,339.74 L334.30,339.74 Z" fill="#72acd6" fill-opacity="0.72"/>
<path d="M338.20,341.34 L342.10,348.54 L334.30,348.54 Z" fill="#72acd6" fill-opacity="0.72"/>
<path d="M338.20,359.44 L342.10,366.64 L334.30,366.64 Z" fill="#72acd6" fill-opacity="0.72"/>
<path d="M338.20,368.64 L342.10,375.84 L334.30,375.84 Z" fill="#72acd6" fill-opacity="0.72"/>
<path d="M338.20,377.34 L342.10,384.54 L334.30,384.54 Z" fill="#72acd6" fill-opacity="0.72"/>
<line x1="371.20" y1="395.40" x2="371.20" y2="398.30" stroke="#000" stroke-width="0.9"/>
<text x="371.20" y="408.10" font-size="9.35" text-anchor="middle" fill="#000" textLength="24.25" lengthAdjust="spacingAndGlyphs" stroke="#000" stroke-width="0.3">Mean</text>
<text x="371.20" y="417.60" font-size="9.35" text-anchor="middle" fill="#000" textLength="42.04" lengthAdjust="spacingAndGlyphs" stroke="#000" stroke-width="0.3">thickness</text>
<rect x="362.15" y="254.70" width="7.00" height="7.00" fill="#2c5070" fill-opacity="0.72"/>
<rect x="362.15" y="258.60" width="7.00" height="7.00" fill="#2c5070" fill-opacity="0.72"/>
<rect x="362.15" y="267.70" width="7.00" height="7.00" fill="#2c5070" fill-opacity="0.72"/>
<rect x="362.15" y="290.70" width="7.00" height="7.00" fill="#2c5070" fill-opacity="0.72"/>
<rect x="362.15" y="301.50" width="7.00" height="7.00" fill="#2c5070" fill-opacity="0.72"/>
<rect x="362.15" y="305.40" width="7.00" height="7.00" fill="#2c5070" fill-opacity="0.72"/>
<rect x="362.15" y="309.30" width="7.00" height="7.00" fill="#2c5070" fill-opacity="0.72"/>
<rect x="362.15" y="313.20" width="7.00" height="7.00" fill="#2c5070" fill-opacity="0.72"/>
<rect x="362.15" y="317.10" width="7.00" height="7.00" fill="#2c5070" fill-opacity="0.72"/>
<rect x="362.15" y="321.00" width="7.00" height="7.00" fill="#2c5070" fill-opacity="0.72"/>
<rect x="362.15" y="324.90" width="7.00" height="7.00" fill="#2c5070" fill-opacity="0.72"/>
<rect x="362.15" y="328.80" width="7.00" height="7.00" fill="#2c5070" fill-opacity="0.72"/>
<rect x="362.15" y="333.70" width="7.00" height="7.00" fill="#2c5070" fill-opacity="0.72"/>
<rect x="362.15" y="338.50" width="7.00" height="7.00" fill="#2c5070" fill-opacity="0.72"/>
<rect x="362.15" y="341.50" width="7.00" height="7.00" fill="#2c5070" fill-opacity="0.72"/>
<path d="M376.80,318.84 L380.70,326.04 L372.90,326.04 Z" fill="#72acd6" fill-opacity="0.72"/>
<path d="M376.80,322.74 L380.70,329.94 L372.90,329.94 Z" fill="#72acd6" fill-opacity="0.72"/>
<path d="M376.80,326.64 L380.70,333.84 L372.90,333.84 Z" fill="#72acd6" fill-opacity="0.72"/>
<path d="M376.80,329.54 L380.70,336.74 L372.90,336.74 Z" fill="#72acd6" fill-opacity="0.72"/>
<path d="M376.80,333.54 L380.70,340.74 L372.90,340.74 Z" fill="#72acd6" fill-opacity="0.72"/>
<path d="M376.80,339.34 L380.70,346.54 L372.90,346.54 Z" fill="#72acd6" fill-opacity="0.72"/>
<path d="M376.80,343.24 L380.70,350.44 L372.90,350.44 Z" fill="#72acd6" fill-opacity="0.72"/>
<path d="M376.80,346.14 L380.70,353.34 L372.90,353.34 Z" fill="#72acd6" fill-opacity="0.72"/>
<path d="M376.80,350.04 L380.70,357.24 L372.90,357.24 Z" fill="#72acd6" fill-opacity="0.72"/>
<path d="M376.80,353.94 L380.70,361.14 L372.90,361.14 Z" fill="#72acd6" fill-opacity="0.72"/>
<path d="M376.80,357.84 L380.70,365.04 L372.90,365.04 Z" fill="#72acd6" fill-opacity="0.72"/>
<path d="M376.80,361.74 L380.70,368.94 L372.90,368.94 Z" fill="#72acd6" fill-opacity="0.72"/>
<path d="M376.80,364.74 L380.70,371.94 L372.90,371.94 Z" fill="#72acd6" fill-opacity="0.72"/>
<line x1="409.80" y1="395.40" x2="409.80" y2="398.30" stroke="#000" stroke-width="0.9"/>
<text x="409.80" y="408.10" font-size="9.35" text-anchor="middle" fill="#000" textLength="20.79" lengthAdjust="spacingAndGlyphs" stroke="#000" stroke-width="0.3">Total</text>
<text x="409.80" y="417.60" font-size="9.35" text-anchor="middle" fill="#000" textLength="32.89" lengthAdjust="spacingAndGlyphs" stroke="#000" stroke-width="0.3">surface</text>
<rect x="400.75" y="232.80" width="7.00" height="7.00" fill="#2c5070" fill-opacity="0.72"/>
<rect x="400.75" y="253.70" width="7.00" height="7.00" fill="#2c5070" fill-opacity="0.72"/>
<rect x="400.75" y="288.80" width="7.00" height="7.00" fill="#2c5070" fill-opacity="0.72"/>
<rect x="400.75" y="293.70" width="7.00" height="7.00" fill="#2c5070" fill-opacity="0.72"/>
<rect x="400.75" y="296.60" width="7.00" height="7.00" fill="#2c5070" fill-opacity="0.72"/>
<rect x="400.75" y="300.50" width="7.00" height="7.00" fill="#2c5070" fill-opacity="0.72"/>
<rect x="400.75" y="315.10" width="7.00" height="7.00" fill="#2c5070" fill-opacity="0.72"/>
<rect x="400.75" y="319.00" width="7.00" height="7.00" fill="#2c5070" fill-opacity="0.72"/>
<rect x="400.75" y="324.90" width="7.00" height="7.00" fill="#2c5070" fill-opacity="0.72"/>
<rect x="400.75" y="328.80" width="7.00" height="7.00" fill="#2c5070" fill-opacity="0.72"/>
<rect x="400.75" y="332.70" width="7.00" height="7.00" fill="#2c5070" fill-opacity="0.72"/>
<rect x="400.75" y="336.60" width="7.00" height="7.00" fill="#2c5070" fill-opacity="0.72"/>
<rect x="400.75" y="341.50" width="7.00" height="7.00" fill="#2c5070" fill-opacity="0.72"/>
<rect x="400.75" y="355.10" width="7.00" height="7.00" fill="#2c5070" fill-opacity="0.72"/>
<rect x="400.75" y="360.40" width="7.00" height="7.00" fill="#2c5070" fill-opacity="0.72"/>
<path d="M415.40,293.54 L419.30,300.74 L411.50,300.74 Z" fill="#72acd6" fill-opacity="0.72"/>
<path d="M415.40,295.44 L419.30,302.64 L411.50,302.64 Z" fill="#72acd6" fill-opacity="0.72"/>
<path d="M415.40,306.14 L419.30,313.34 L411.50,313.34 Z" fill="#72acd6" fill-opacity="0.72"/>
<path d="M415.40,312.04 L419.30,319.24 L411.50,319.24 Z" fill="#72acd6" fill-opacity="0.72"/>
<path d="M415.40,319.84 L419.30,327.04 L411.50,327.04 Z" fill="#72acd6" fill-opacity="0.72"/>
<path d="M415.40,327.64 L419.30,334.84 L411.50,334.84 Z" fill="#72acd6" fill-opacity="0.72"/>
<path d="M415.40,330.54 L419.30,337.74 L411.50,337.74 Z" fill="#72acd6" fill-opacity="0.72"/>
<path d="M415.40,332.54 L419.30,339.74 L411.50,339.74 Z" fill="#72acd6" fill-opacity="0.72"/>
<path d="M415.40,342.34 L419.30,349.54 L411.50,349.54 Z" fill="#72acd6" fill-opacity="0.72"/>
<path d="M415.40,346.14 L419.30,353.34 L411.50,353.34 Z" fill="#72acd6" fill-opacity="0.72"/>
<path d="M415.40,350.04 L419.30,357.24 L411.50,357.24 Z" fill="#72acd6" fill-opacity="0.72"/>
<path d="M415.40,355.94 L419.30,363.14 L411.50,363.14 Z" fill="#72acd6" fill-opacity="0.72"/>
<rect x="39.3" y="238.6" width="42.2" height="28.6" rx="2" ry="2" fill="#fff" fill-opacity="0.85" stroke="#d8d8d8" stroke-width="0.8"/>
<rect x="47.90" y="242.60" width="6.60" height="6.60" fill="#2c5070" fill-opacity="0.72"/>
<path d="M51.20,255.17 L55.00,261.77 L47.40,261.77 Z" fill="#72acd6" fill-opacity="0.72"/>
<text x="57.60" y="249.00" font-size="9.45" text-anchor="start" fill="#000" textLength="5.73" lengthAdjust="spacingAndGlyphs" stroke="#000" stroke-width="0.3">1</text>
<text x="57.60" y="262.00" font-size="9.45" text-anchor="start" fill="#000" textLength="12.81" lengthAdjust="spacingAndGlyphs" stroke="#000" stroke-width="0.3">5O</text>
<text x="459.50" y="240.60" font-size="22.00" text-anchor="start" font-weight="bold" fill="#000">d</text>
<line x1="479.60" y1="261.40" x2="479.60" y2="394.30" stroke="#dadada" stroke-width="1.1"/>
<line x1="479.60" y1="394.30" x2="680.00" y2="394.30" stroke="#dadada" stroke-width="1.1"/>
<text x="476.20" y="391.60" font-size="9.13" text-anchor="end" fill="#000" textLength="5.54" lengthAdjust="spacingAndGlyphs" stroke="#000" stroke-width="0.3">0</text>
<text x="476.20" y="365.40" font-size="9.13" text-anchor="end" fill="#000" textLength="11.07" lengthAdjust="spacingAndGlyphs" stroke="#000" stroke-width="0.3">10</text>
<text x="476.20" y="339.20" font-size="9.13" text-anchor="end" fill="#000" textLength="11.07" lengthAdjust="spacingAndGlyphs" stroke="#000" stroke-width="0.3">20</text>
<text x="476.20" y="313.00" font-size="9.13" text-anchor="end" fill="#000" textLength="11.07" lengthAdjust="spacingAndGlyphs" stroke="#000" stroke-width="0.3">30</text>
<text x="476.20" y="286.80" font-size="9.13" text-anchor="end" fill="#000" textLength="11.07" lengthAdjust="spacingAndGlyphs" stroke="#000" stroke-width="0.3">40</text>
<text x="488.60" y="404.60" font-size="9.13" text-anchor="middle" fill="#000" textLength="5.54" lengthAdjust="spacingAndGlyphs" stroke="#000" stroke-width="0.3">0</text>
<text x="541.50" y="404.60" font-size="9.13" text-anchor="middle" fill="#000" textLength="11.07" lengthAdjust="spacingAndGlyphs" stroke="#000" stroke-width="0.3">10</text>
<text x="594.40" y="404.60" font-size="9.13" text-anchor="middle" fill="#000" textLength="11.07" lengthAdjust="spacingAndGlyphs" stroke="#000" stroke-width="0.3">20</text>
<text x="582.50" y="416.20" font-size="10.24" text-anchor="middle" fill="#000" textLength="125.05" lengthAdjust="spacingAndGlyphs" stroke="#000" stroke-width="0.3">Distance to centroid [µm]</text>
<text x="460.80" y="327.80" font-size="10.29" text-anchor="middle" fill="#000" textLength="63.40" lengthAdjust="spacingAndGlyphs" transform="rotate(-90 460.80 327.80)" stroke="#000" stroke-width="0.3">Intersections</text>
<path d="M488.6,388.1L493.9,384.3L499.2,379.4L504.5,385.5L509.8,385.2L515.1,379.7L520.3,378.4L525.6,376.9L530.9,378.8L536.2,369.7L541.5,359.4L546.8,368.2L552.1,354.7L557.4,362.3L562.7,350.2L568.0,351.7L573.2,326.6L578.5,337.4L583.8,314.6L589.1,319.2L594.4,332.8L599.7,368.8L605.0,361.1L610.3,368.2L615.6,375.2L620.9,386.8L626.1,384.8L631.4,387.6L636.7,388.3L642.0,384.3" fill="none" stroke="#3d5a73" stroke-width="0.9" stroke-opacity="0.38" stroke-linejoin="round" stroke-linecap="butt"/>
<path d="M488.6,384.2L493.9,384.0L499.2,388.2L504.5,382.8L509.8,376.9L515.1,387.2L520.3,375.4L525.6,376.5L530.9,377.8L536.2,360.5L541.5,363.9L546.8,373.2L552.1,361.8L557.4,355.3L562.7,359.1L568.0,350.9L573.2,356.6L578.5,353.4L583.8,353.7L589.1,373.7L594.4,374.4L599.7,381.7L605.0,381.9L610.3,388.2L615.6,386.6L620.9,385.5L626.1,381.9L631.4,381.1L636.7,388.3L642.0,388.3" fill="none" stroke="#3d5a73" stroke-width="0.9" stroke-opacity="0.38" stroke-linejoin="round" stroke-linecap="butt"/>
<path d="M488.6,379.1L493.9,382.6L499.2,382.0L504.5,380.3L509.8,370.1L515.1,376.6L520.3,372.3L525.6,363.2L530.9,360.3L536.2,354.0L541.5,355.5L546.8,336.7L552.1,334.7L557.4,307.5L562.7,309.7L568.0,317.4L573.2,310.4L578.5,333.6L583.8,332.6L589.1,357.0L594.4,364.3L599.7,381.6L605.0,377.8L610.3,388.0L615.6,388.3L620.9,383.5L626.1,385.9L631.4,381.8L636.7,380.8L642.0,388.3" fill="none" stroke="#3d5a73" stroke-width="0.9" stroke-opacity="0.38" stroke-linejoin="round" stroke-linecap="butt"/>
<path d="M488.6,380.1L493.9,380.8L499.2,386.7L504.5,383.0L509.8,382.5L515.1,386.4L520.3,380.9L525.6,384.6L530.9,375.5L536.2,376.4L541.5,373.3L546.8,372.2L552.1,362.9L557.4,370.9L562.7,356.7L568.0,333.6L573.2,356.5L578.5,315.6L583.8,348.0L589.1,319.0L594.4,344.9L599.7,336.8L605.0,353.2L610.3,373.8L615.6,363.1L620.9,368.4L626.1,379.1L631.4,381.9L636.7,388.0L642.0,388.3" fill="none" stroke="#3d5a73" stroke-width="0.9" stroke-opacity="0.38" stroke-linejoin="round" stroke-linecap="butt"/>
<path d="M488.6,386.8L493.9,376.5L499.2,381.8L504.5,376.6L509.8,379.6L515.1,381.5L520.3,378.3L525.6,377.3L530.9,371.5L536.2,370.3L541.5,365.9L546.8,369.6L552.1,360.9L557.4,334.1L562.7,351.2L568.0,351.6L573.2,333.8L578.5,319.9L583.8,352.0L589.1,341.0L594.4,351.3L599.7,368.3L605.0,356.4L610.3,369.0L615.6,373.9L620.9,381.3L626.1,378.1L631.4,383.3L636.7,387.9L642.0,388.3" fill="none" stroke="#3d5a73" stroke-width="0.9" stroke-opacity="0.38" stroke-linejoin="round" stroke-linecap="butt"/>
<path d="M488.6,383.9L493.9,384.0L499.2,379.4L504.5,382.8L509.8,381.8L515.1,380.5L520.3,374.8L525.6,375.6L530.9,375.3L536.2,377.9L541.5,380.1L546.8,364.3L552.1,360.4L557.4,364.1L562.7,355.5L568.0,349.9L573.2,346.1L578.5,342.7L583.8,353.5L589.1,334.8L594.4,360.9L599.7,344.8L605.0,352.3L610.3,354.8L615.6,353.9L620.9,362.0L626.1,380.1L631.4,385.0L636.7,385.1L642.0,388.3" fill="none" stroke="#3d5a73" stroke-width="0.9" stroke-opacity="0.38" stroke-linejoin="round" stroke-linecap="butt"/>
<path d="M488.6,382.5L493.9,383.6L499.2,382.5L504.5,385.9L509.8,388.3L515.1,383.1L520.3,385.9L525.6,388.0L530.9,378.3L536.2,378.7L541.5,373.3L546.8,376.2L552.1,368.6L557.4,364.1L562.7,355.2L568.0,335.2L573.2,338.6L578.5,318.2L583.8,315.8L589.1,294.3L594.4,344.0L599.7,322.8L605.0,342.6L610.3,350.7L615.6,369.9L620.9,369.0L626.1,367.5L631.4,376.1L636.7,387.3L642.0,388.3" fill="none" stroke="#3d5a73" stroke-width="0.9" stroke-opacity="0.38" stroke-linejoin="round" stroke-linecap="butt"/>
<path d="M488.6,388.3L493.9,387.0L499.2,380.7L504.5,385.1L509.8,388.3L515.1,388.3L520.3,381.3L525.6,384.4L530.9,384.4L536.2,384.2L541.5,382.7L546.8,377.9L552.1,376.0L557.4,373.5L562.7,375.8L568.0,360.3L573.2,362.6L578.5,341.2L583.8,357.9L589.1,343.3L594.4,340.7L599.7,356.0L605.0,330.9L610.3,341.8L615.6,364.9L620.9,363.9L626.1,372.5L631.4,388.3L636.7,386.8L642.0,387.7" fill="none" stroke="#3d5a73" stroke-width="0.9" stroke-opacity="0.38" stroke-linejoin="round" stroke-linecap="butt"/>
<path d="M488.6,381.6L493.9,382.9L499.2,377.1L504.5,385.0L509.8,384.3L515.1,388.3L520.3,376.9L525.6,379.0L530.9,378.9L536.2,379.3L541.5,380.6L546.8,378.6L552.1,378.3L557.4,374.7L562.7,368.7L568.0,353.2L573.2,353.4L578.5,352.8L583.8,353.6L589.1,352.3L594.4,331.4L599.7,345.3L605.0,354.5L610.3,363.7L615.6,374.2L620.9,372.8L626.1,372.3L631.4,380.9L636.7,388.2L642.0,388.2" fill="none" stroke="#3d5a73" stroke-width="0.9" stroke-opacity="0.38" stroke-linejoin="round" stroke-linecap="butt"/>
<path d="M488.6,385.5L493.9,380.3L499.2,376.7L504.5,383.7L509.8,384.8L515.1,381.8L520.3,382.5L525.6,386.2L530.9,380.4L536.2,373.8L541.5,381.8L546.8,379.7L552.1,380.5L557.4,367.7L562.7,370.4L568.0,360.6L573.2,324.7L578.5,338.2L583.8,301.8L589.1,289.5L594.4,309.2L599.7,310.3L605.0,301.6L610.3,339.1L615.6,353.2L620.9,368.1L626.1,365.5L631.4,363.9L636.7,384.6L642.0,388.3" fill="none" stroke="#3d5a73" stroke-width="0.9" stroke-opacity="0.38" stroke-linejoin="round" stroke-linecap="butt"/>
<path d="M488.6,382.7L493.9,384.7L499.2,383.6L504.5,382.3L509.8,382.8L515.1,379.7L520.3,372.6L525.6,376.0L530.9,375.9L536.2,382.1L541.5,367.3L546.8,378.2L552.1,371.2L557.4,349.9L562.7,346.8L568.0,351.1L573.2,363.9L578.5,350.9L583.8,356.0L589.1,350.2L594.4,346.7L599.7,368.2L605.0,379.1L610.3,384.2L615.6,381.8L620.9,383.5L626.1,387.7L631.4,383.3L636.7,388.3L642.0,384.2" fill="none" stroke="#3d5a73" stroke-width="0.9" stroke-opacity="0.38" stroke-linejoin="round" stroke-linecap="butt"/>
<path d="M488.6,384.3L493.9,384.1L499.2,387.7L504.5,388.2L509.8,379.8L515.1,383.4L520.3,381.7L525.6,378.3L530.9,388.3L536.2,383.3L541.5,376.9L546.8,372.0L552.1,371.0L557.4,354.4L562.7,351.5L568.0,356.2L573.2,345.9L578.5,318.1L583.8,317.8L589.1,348.8L594.4,313.2L599.7,334.4L605.0,342.0L610.3,367.2L615.6,374.5L620.9,383.1L626.1,370.4L631.4,382.7L636.7,382.7L642.0,388.3" fill="none" stroke="#3d5a73" stroke-width="0.9" stroke-opacity="0.38" stroke-linejoin="round" stroke-linecap="butt"/>
<path d="M488.6,382.2L493.9,384.5L499.2,388.3L504.5,386.6L509.8,385.8L515.1,383.1L520.3,383.1L525.6,381.7L530.9,375.5L536.2,374.8L541.5,371.3L546.8,355.2L552.1,338.6L557.4,355.9L562.7,333.1L568.0,336.8L573.2,339.3L578.5,317.4L583.8,338.8L589.1,324.1L594.4,355.9L599.7,354.6L605.0,367.2L610.3,376.5L615.6,374.7L620.9,381.5L626.1,380.8L631.4,384.6L636.7,388.3L642.0,387.8" fill="none" stroke="#3d5a73" stroke-width="0.9" stroke-opacity="0.38" stroke-linejoin="round" stroke-linecap="butt"/>
<path d="M488.6,379.6L493.9,386.1L499.2,388.3L504.5,381.1L509.8,375.2L515.1,385.3L520.3,381.9L525.6,378.2L530.9,377.7L536.2,365.4L541.5,369.1L546.8,364.4L552.1,349.4L557.4,356.5L562.7,341.3L568.0,352.3L573.2,353.0L578.5,359.1L583.8,321.9L589.1,349.7L594.4,352.0L599.7,362.1L605.0,368.0L610.3,374.1L615.6,369.4L620.9,384.6L626.1,387.7L631.4,386.0L636.7,388.3L642.0,385.3" fill="none" stroke="#3d5a73" stroke-width="0.9" stroke-opacity="0.38" stroke-linejoin="round" stroke-linecap="butt"/>
<path d="M488.6,388.3L493.9,382.3L499.2,388.0L504.5,380.4L509.8,387.9L515.1,385.0L520.3,388.3L525.6,386.9L530.9,377.2L536.2,377.9L541.5,380.9L546.8,380.2L552.1,382.1L557.4,368.3L562.7,358.7L568.0,351.0L573.2,342.5L578.5,346.4L583.8,327.4L589.1,322.6L594.4,303.0L599.7,297.8L605.0,330.0L610.3,345.0L615.6,346.4L620.9,360.1L626.1,368.6L631.4,370.7L636.7,388.3L642.0,385.7" fill="none" stroke="#3d5a73" stroke-width="0.9" stroke-opacity="0.38" stroke-linejoin="round" stroke-linecap="butt"/>
<path d="M488.6,381.6L493.9,382.1L499.2,377.4L504.5,376.6L509.8,381.2L515.1,370.8L520.3,375.8L525.6,367.4L530.9,360.8L536.2,371.2L541.5,348.2L546.8,343.6L552.1,343.6L557.4,344.7L562.7,343.9L568.0,352.5L573.2,350.4L578.5,359.4L583.8,361.5L589.1,375.9L594.4,372.5L599.7,376.7L605.0,380.2L610.3,382.7L615.6,379.4L620.9,388.3L626.1,380.2L631.4,381.1L636.7,386.7L642.0,386.4" fill="none" stroke="#3d5a73" stroke-width="0.9" stroke-opacity="0.38" stroke-linejoin="round" stroke-linecap="butt"/>
<path d="M488.6,388.3L493.9,381.2L499.2,378.9L504.5,379.4L509.8,382.1L515.1,388.3L520.3,378.8L525.6,382.4L530.9,388.3L536.2,377.5L541.5,383.9L546.8,380.4L552.1,373.0L557.4,355.0L562.7,359.9L568.0,347.0L573.2,323.4L578.5,315.2L583.8,328.0L589.1,324.5L594.4,335.7L599.7,327.1L605.0,317.9L610.3,332.3L615.6,351.0L620.9,358.6L626.1,378.2L631.4,379.6L636.7,385.3L642.0,385.8" fill="none" stroke="#3d5a73" stroke-width="0.9" stroke-opacity="0.38" stroke-linejoin="round" stroke-linecap="butt"/>
<path d="M488.6,388.3L493.9,381.0L499.2,383.3L504.5,381.9L509.8,388.3L515.1,383.8L520.3,384.0L525.6,383.7L530.9,387.9L536.2,375.1L541.5,361.7L546.8,356.3L552.1,354.9L557.4,339.0L562.7,319.3L568.0,358.5L573.2,317.9L578.5,308.0L583.8,309.8L589.1,303.9L594.4,321.2L599.7,340.6L605.0,350.5L610.3,355.7L615.6,371.5L620.9,373.7L626.1,373.0L631.4,371.4L636.7,388.0L642.0,387.7" fill="none" stroke="#3d5a73" stroke-width="0.9" stroke-opacity="0.38" stroke-linejoin="round" stroke-linecap="butt"/>
<path d="M488.6,383.8L493.9,383.8L499.2,380.1L504.5,379.1L509.8,388.3L515.1,386.2L520.3,381.0L525.6,384.2L530.9,386.6L536.2,373.4L541.5,372.3L546.8,367.2L552.1,367.0L557.4,347.9L562.7,349.8L568.0,327.1L573.2,342.2L578.5,336.8L583.8,320.6L589.1,333.6L594.4,320.7L599.7,333.4L605.0,354.2L610.3,353.7L615.6,365.0L620.9,364.0L626.1,377.7L631.4,380.0L636.7,383.9L642.0,380.8" fill="none" stroke="#3d5a73" stroke-width="0.9" stroke-opacity="0.38" stroke-linejoin="round" stroke-linecap="butt"/>
<path d="M488.6,386.5L493.9,382.4L499.2,381.1L504.5,385.9L509.8,388.3L515.1,388.1L520.3,380.1L525.6,385.3L530.9,382.6L536.2,380.6L541.5,378.0L546.8,380.6L552.1,374.9L557.4,379.2L562.7,373.6L568.0,374.3L573.2,356.6L578.5,360.7L583.8,363.0L589.1,357.8L594.4,355.7L599.7,348.6L605.0,370.0L610.3,369.6L615.6,370.0L620.9,359.0L626.1,372.1L631.4,379.9L636.7,385.4L642.0,381.3" fill="none" stroke="#3d5a73" stroke-width="0.9" stroke-opacity="0.38" stroke-linejoin="round" stroke-linecap="butt"/>
<path d="M488.6,385.0L493.9,376.0L499.2,376.7L504.5,380.8L509.8,380.0L515.1,388.3L520.3,378.6L525.6,380.5L530.9,375.4L536.2,370.7L541.5,371.9L546.8,375.9L552.1,356.1L557.4,359.4L562.7,351.1L568.0,350.5L573.2,346.5L578.5,367.1L583.8,336.8L589.1,351.9L594.4,352.7L599.7,354.8L605.0,372.5L610.3,385.3L615.6,383.4L620.9,386.1L626.1,384.2L631.4,382.4L636.7,388.3L642.0,386.5" fill="none" stroke="#3d5a73" stroke-width="0.9" stroke-opacity="0.38" stroke-linejoin="round" stroke-linecap="butt"/>
<path d="M488.6,387.3L493.9,387.5L499.2,388.3L504.5,385.1L509.8,378.0L515.1,376.2L520.3,376.8L525.6,376.6L530.9,379.6L536.2,363.8L541.5,366.4L546.8,359.8L552.1,354.4L557.4,343.5L562.7,342.4L568.0,333.5L573.2,342.8L578.5,334.2L583.8,309.7L589.1,346.7L594.4,359.9L599.7,365.5L605.0,373.0L610.3,385.7L615.6,384.5L620.9,381.7L626.1,384.5L631.4,385.1L636.7,382.8L642.0,388.3" fill="none" stroke="#3d5a73" stroke-width="0.9" stroke-opacity="0.38" stroke-linejoin="round" stroke-linecap="butt"/>
<path d="M488.6,385.7L493.9,382.2L499.2,382.4L504.5,380.1L509.8,388.3L515.1,381.9L520.3,385.0L525.6,386.0L530.9,382.6L536.2,386.8L541.5,388.3L546.8,385.2L552.1,388.3L557.4,386.0L562.7,383.0L568.0,383.2L573.2,379.5L578.5,384.7L583.8,388.3L589.1,385.4L594.4,383.5L599.7,378.5L605.0,355.7L610.3,340.4L615.6,331.6L620.9,272.6L626.1,281.5L631.4,295.4L636.7,332.3L642.0,357.1L647.3,375.9L652.6,378.1L657.9,382.4L663.2,382.9L668.5,382.9L673.8,388.3" fill="none" stroke="#78b0d8" stroke-width="0.9" stroke-opacity="0.33" stroke-linejoin="round" stroke-linecap="butt"/>
<path d="M488.6,383.9L493.9,387.7L499.2,388.3L504.5,385.0L509.8,384.4L515.1,386.2L520.3,383.9L525.6,386.0L530.9,382.6L536.2,386.3L541.5,384.3L546.8,381.3L552.1,376.7L557.4,387.0L562.7,385.4L568.0,386.3L573.2,381.1L578.5,386.1L583.8,382.5L589.1,378.0L594.4,377.4L599.7,371.2L605.0,360.3L610.3,363.1L615.6,349.7L620.9,332.3L626.1,321.6L631.4,326.0L636.7,351.6L642.0,355.2L647.3,362.8L652.6,374.6L657.9,381.8L663.2,386.1L668.5,382.1L673.8,388.3" fill="none" stroke="#78b0d8" stroke-width="0.9" stroke-opacity="0.33" stroke-linejoin="round" stroke-linecap="butt"/>
<path d="M488.6,382.9L493.9,378.2L499.2,383.3L504.5,381.8L509.8,373.2L515.1,378.8L520.3,382.9L525.6,381.6L530.9,380.2L536.2,377.4L541.5,382.9L546.8,387.0L552.1,382.2L557.4,381.3L562.7,381.0L568.0,377.0L573.2,380.3L578.5,378.6L583.8,384.9L589.1,378.2L594.4,373.1L599.7,374.7L605.0,370.1L610.3,358.2L615.6,327.2L620.9,335.4L626.1,318.9L631.4,319.7L636.7,337.8L642.0,365.4L647.3,373.3L652.6,380.5L657.9,380.5L663.2,381.7L668.5,385.0L673.8,387.6" fill="none" stroke="#78b0d8" stroke-width="0.9" stroke-opacity="0.33" stroke-linejoin="round" stroke-linecap="butt"/>
<path d="M488.6,384.3L493.9,387.8L499.2,381.7L504.5,378.4L509.8,379.2L515.1,385.5L520.3,382.8L525.6,384.5L530.9,384.6L536.2,380.5L541.5,388.3L546.8,381.9L552.1,385.0L557.4,380.9L562.7,384.3L568.0,386.7L573.2,383.9L578.5,382.3L583.8,383.7L589.1,381.1L594.4,381.9L599.7,384.3L605.0,364.4L610.3,354.1L615.6,343.7L620.9,328.2L626.1,299.6L631.4,304.3L636.7,299.3L642.0,289.3L647.3,282.2L652.6,338.2L657.9,339.6L663.2,370.5L668.5,382.0L673.8,384.4" fill="none" stroke="#78b0d8" stroke-width="0.9" stroke-opacity="0.33" stroke-linejoin="round" stroke-linecap="butt"/>
<path d="M488.6,382.5L493.9,379.7L499.2,378.7L504.5,383.2L509.8,379.9L515.1,381.2L520.3,382.8L525.6,382.7L530.9,380.9L536.2,381.0L541.5,382.9L546.8,382.5L552.1,377.4L557.4,380.4L562.7,378.2L568.0,377.1L573.2,379.1L578.5,373.2L583.8,382.8L589.1,374.5L594.4,373.1L599.7,348.8L605.0,327.3L610.3,341.2L615.6,312.8L620.9,280.6L626.1,286.6L631.4,309.3L636.7,342.1L642.0,358.0L647.3,369.6L652.6,378.3L657.9,376.7L663.2,388.3L668.5,378.9L673.8,388.3" fill="none" stroke="#78b0d8" stroke-width="0.9" stroke-opacity="0.33" stroke-linejoin="round" stroke-linecap="butt"/>
<path d="M488.6,384.1L493.9,386.3L499.2,381.2L504.5,379.5L509.8,377.7L515.1,381.6L520.3,377.7L525.6,381.0L530.9,381.4L536.2,379.2L541.5,377.6L546.8,382.2L552.1,381.9L557.4,381.6L562.7,380.8L568.0,384.1L573.2,377.7L578.5,382.3L583.8,379.3L589.1,383.2L594.4,378.2L599.7,376.1L605.0,375.8L610.3,358.2L615.6,357.0L620.9,333.0L626.1,321.8L631.4,321.8L636.7,302.6L642.0,277.1L647.3,276.2L652.6,280.6L657.9,309.7L663.2,353.5L668.5,362.6L673.8,388.3" fill="none" stroke="#78b0d8" stroke-width="0.9" stroke-opacity="0.33" stroke-linejoin="round" stroke-linecap="butt"/>
<path d="M488.6,388.3L493.9,388.3L499.2,387.9L504.5,388.3L509.8,387.6L515.1,380.5L520.3,387.9L525.6,383.1L530.9,388.3L536.2,384.1L541.5,385.8L546.8,385.0L552.1,383.1L557.4,379.4L562.7,383.3L568.0,382.4L573.2,384.2L578.5,375.7L583.8,374.4L589.1,362.8L594.4,359.4L599.7,337.2L605.0,357.6L610.3,335.1L615.6,317.0L620.9,327.4L626.1,337.7L631.4,350.2L636.7,374.0L642.0,377.9L647.3,375.8L652.6,381.3L657.9,388.0L663.2,387.4L668.5,386.1L673.8,385.0" fill="none" stroke="#78b0d8" stroke-width="0.9" stroke-opacity="0.33" stroke-linejoin="round" stroke-linecap="butt"/>
<path d="M488.6,388.3L493.9,388.3L499.2,387.4L504.5,388.3L509.8,383.5L515.1,387.3L520.3,384.2L525.6,380.5L530.9,382.4L536.2,388.3L541.5,383.2L546.8,382.4L552.1,387.6L557.4,388.1L562.7,385.8L568.0,388.3L573.2,381.2L578.5,388.3L583.8,387.4L589.1,383.6L594.4,381.1L599.7,375.9L605.0,369.6L610.3,364.4L615.6,345.8L620.9,360.6L626.1,332.4L631.4,331.2L636.7,316.2L642.0,313.8L647.3,332.3L652.6,340.8L657.9,344.2L663.2,361.7L668.5,376.7L673.8,382.5" fill="none" stroke="#78b0d8" stroke-width="0.9" stroke-opacity="0.33" stroke-linejoin="round" stroke-linecap="butt"/>
<path d="M488.6,385.4L493.9,380.8L499.2,382.2L504.5,383.3L509.8,382.2L515.1,383.3L520.3,379.2L525.6,382.8L530.9,383.0L536.2,385.4L541.5,381.7L546.8,384.5L552.1,382.1L557.4,378.2L562.7,380.4L568.0,379.9L573.2,380.4L578.5,381.3L583.8,381.8L589.1,382.2L594.4,378.0L599.7,383.2L605.0,372.1L610.3,373.3L615.6,371.2L620.9,361.9L626.1,353.1L631.4,334.2L636.7,331.4L642.0,300.4L647.3,318.9L652.6,339.9L657.9,337.4L663.2,366.8L668.5,369.6L673.8,384.9" fill="none" stroke="#78b0d8" stroke-width="0.9" stroke-opacity="0.33" stroke-linejoin="round" stroke-linecap="butt"/>
<path d="M488.6,384.3L493.9,381.3L499.2,377.3L504.5,380.6L509.8,383.9L515.1,383.3L520.3,382.6L525.6,386.1L530.9,387.4L536.2,384.2L541.5,387.1L546.8,384.5L552.1,384.1L557.4,377.6L562.7,386.8L568.0,384.7L573.2,384.8L578.5,382.9L583.8,380.7L589.1,384.3L594.4,383.3L599.7,382.4L605.0,372.2L610.3,350.7L615.6,336.2L620.9,328.5L626.1,303.7L631.4,286.7L636.7,278.5L642.0,305.8L647.3,319.6L652.6,354.2L657.9,364.1L663.2,362.1L668.5,385.8L673.8,388.3" fill="none" stroke="#78b0d8" stroke-width="0.9" stroke-opacity="0.33" stroke-linejoin="round" stroke-linecap="butt"/>
<path d="M488.6,385.9L493.9,388.3L499.2,386.1L504.5,388.0L509.8,387.2L515.1,385.1L520.3,383.9L525.6,383.3L530.9,387.0L536.2,383.2L541.5,382.5L546.8,382.6L552.1,381.9L557.4,386.1L562.7,386.1L568.0,383.4L573.2,388.3L578.5,384.7L583.8,386.3L589.1,384.8L594.4,387.4L599.7,381.7L605.0,373.0L610.3,359.9L615.6,346.7L620.9,340.1L626.1,325.4L631.4,318.0L636.7,287.4L642.0,287.9L647.3,271.0L652.6,267.9L657.9,322.2L663.2,361.6L668.5,374.6L673.8,388.3" fill="none" stroke="#78b0d8" stroke-width="0.9" stroke-opacity="0.33" stroke-linejoin="round" stroke-linecap="butt"/>
<path d="M488.6,379.4L493.9,384.3L499.2,385.2L504.5,384.2L509.8,382.3L515.1,381.2L520.3,379.6L525.6,379.5L530.9,379.6L536.2,379.0L541.5,381.1L546.8,387.8L552.1,383.4L557.4,381.9L562.7,383.7L568.0,378.8L573.2,381.5L578.5,381.3L583.8,368.0L589.1,365.3L594.4,360.2L599.7,346.5L605.0,335.3L610.3,332.5L615.6,354.1L620.9,333.6L626.1,335.1L631.4,353.4L636.7,361.6L642.0,369.7L647.3,382.1L652.6,386.0L657.9,376.9L663.2,384.5L668.5,386.9L673.8,386.9" fill="none" stroke="#78b0d8" stroke-width="0.9" stroke-opacity="0.33" stroke-linejoin="round" stroke-linecap="butt"/>
<path d="M488.6,380.6L493.9,378.6L499.2,383.2L504.5,380.1L509.8,381.5L515.1,371.9L520.3,383.5L525.6,376.6L530.9,381.3L536.2,381.6L541.5,378.8L546.8,378.2L552.1,377.0L557.4,380.1L562.7,383.1L568.0,382.9L573.2,379.4L578.5,379.0L583.8,375.8L589.1,377.9L594.4,372.8L599.7,364.9L605.0,362.1L610.3,361.0L615.6,345.2L620.9,334.4L626.1,284.7L631.4,312.8L636.7,292.1L642.0,318.0L647.3,329.8L652.6,354.4L657.9,371.8L663.2,378.0L668.5,379.5L673.8,387.1" fill="none" stroke="#78b0d8" stroke-width="0.9" stroke-opacity="0.33" stroke-linejoin="round" stroke-linecap="butt"/>
<path d="M488.6,385.9L493.9,382.6L499.2,380.6L504.5,383.4L509.8,380.8L515.1,388.0L520.3,379.8L525.6,385.0L530.9,381.3L536.2,382.6L541.5,388.3L546.8,385.5L552.1,382.5L557.4,378.5L562.7,382.3L568.0,382.4L573.2,387.4L578.5,378.8L583.8,377.7L589.1,383.0L594.4,383.6L599.7,387.4L605.0,377.9L610.3,367.1L615.6,367.2L620.9,352.0L626.1,341.1L631.4,340.1L636.7,304.2L642.0,330.7L647.3,326.5L652.6,337.9L657.9,351.8L663.2,368.4L668.5,376.5L673.8,388.3" fill="none" stroke="#78b0d8" stroke-width="0.9" stroke-opacity="0.33" stroke-linejoin="round" stroke-linecap="butt"/>
<path d="M488.6,382.6L493.9,387.1L499.2,385.5L504.5,386.4L509.8,380.4L515.1,379.7L520.3,374.4L525.6,386.0L530.9,383.2L536.2,378.0L541.5,381.7L546.8,382.1L552.1,375.3L557.4,382.1L562.7,384.8L568.0,385.4L573.2,379.9L578.5,380.0L583.8,385.5L589.1,384.2L594.4,379.1L599.7,378.7L605.0,382.1L610.3,375.7L615.6,371.6L620.9,376.2L626.1,359.1L631.4,342.5L636.7,341.4L642.0,352.6L647.3,337.3L652.6,337.0L657.9,343.6L663.2,376.6L668.5,360.9L673.8,388.3" fill="none" stroke="#78b0d8" stroke-width="0.9" stroke-opacity="0.33" stroke-linejoin="round" stroke-linecap="butt"/>
<path d="M488.6,384.9L504.5,382.5L521.9,379.1L538.9,374.2L548.9,365.8L555.8,357.4L565.8,342.2L575.9,338.8L585.4,341.7L591.2,341.7L602.9,354.0L612.9,357.4L623.0,367.6L629.3,381.0L636.2,387.0L642.5,388.3" fill="none" stroke="#2c5070" stroke-width="2.4" stroke-opacity="1.0" stroke-linejoin="round" stroke-linecap="butt"/>
<path d="M488.6,385.7L490.2,385.5L491.7,385.3L493.3,385.1L494.9,384.9L496.5,384.7L498.0,384.5L499.6,384.3L501.2,384.1L502.8,383.9L504.3,383.7L505.9,383.5L507.5,383.3L509.1,383.1L510.6,383.0L512.2,382.9L513.8,382.9L515.4,382.8L516.9,382.7L518.5,382.6L520.1,382.5L521.6,382.5L523.2,382.4L524.8,382.3L526.4,382.2L527.9,382.2L529.5,382.1L531.1,382.0L532.7,382.0L534.2,381.9L535.8,381.9L537.4,381.9L539.0,381.8L540.5,381.8L542.1,381.7L543.7,381.7L545.3,381.7L546.8,381.6L548.4,381.6L550.0,381.5L551.5,381.5L553.1,381.4L554.7,381.4L556.3,381.3L557.8,381.3L559.4,381.2L561.0,381.2L562.6,381.1L564.1,381.0L565.7,381.0L567.3,380.9L568.9,380.9L570.4,380.8L572.0,380.7L573.6,380.6L575.2,380.4L576.7,380.1L578.3,379.9L579.9,379.6L581.4,379.3L583.0,379.1L584.6,378.8L586.2,378.6L587.7,378.3L589.3,378.0L590.9,377.1L592.5,376.2L594.0,375.4L595.6,374.5L597.2,373.6L598.8,372.8L600.3,371.9L601.9,371.0L603.5,369.7L605.1,367.6L606.6,365.6L608.2,363.5L609.8,361.5L611.3,359.4L612.9,357.4L614.5,353.0L616.1,348.7L617.6,344.4L619.2,340.0L620.8,335.7L622.4,332.5L623.9,330.0L625.5,327.4L627.1,324.9L628.7,323.5L630.2,322.9L631.8,322.3L633.4,321.6L635.0,321.0L636.5,320.4L638.1,320.9L639.7,325.7L641.2,330.5L642.8,335.2L644.4,340.0L646.0,344.7L647.5,348.9L649.1,353.1L650.7,357.2L652.3,361.4L653.8,365.6L655.4,369.8L657.0,372.7L658.6,375.2L660.1,377.8L661.7,380.3L663.3,382.8L664.9,384.6L666.4,385.1L668.0,385.6L669.6,386.2L671.1,386.7L672.7,387.2L674.3,387.8L675.9,388.3" fill="none" stroke="#7ab2da" stroke-width="2.6" stroke-opacity="1.0" stroke-linejoin="round" stroke-linecap="butt"/>
<line x1="486.90" y1="272.70" x2="506.20" y2="272.70" stroke="#2c5070" stroke-width="2.2"/>
<line x1="486.90" y1="285.50" x2="506.20" y2="285.50" stroke="#7ab2da" stroke-width="2.2"/>
<text x="511.80" y="276.40" font-size="9.97" text-anchor="start" fill="#000" textLength="6.04" lengthAdjust="spacingAndGlyphs" stroke="#000" stroke-width="0.3">1</text>
<text x="511.80" y="289.20" font-size="9.97" text-anchor="start" fill="#000" textLength="13.52" lengthAdjust="spacingAndGlyphs" stroke="#000" stroke-width="0.3">5O</text>
<text x="4.80" y="453.80" font-size="22.00" text-anchor="start" font-weight="bold" fill="#000">e</text>
<rect x="38.70" y="613.00" width="8.90" height="8.90" fill="rgb(220,220,220)"/>
<rect x="47.30" y="613.00" width="8.90" height="8.90" fill="rgb(222,222,222)"/>
<rect x="55.90" y="613.00" width="8.90" height="8.90" fill="rgb(245,245,245)"/>
<rect x="64.50" y="613.00" width="8.90" height="8.90" fill="rgb(230,230,230)"/>
<rect x="73.10" y="613.00" width="8.90" height="8.90" fill="rgb(232,232,232)"/>
<rect x="81.70" y="613.00" width="8.90" height="8.90" fill="rgb(228,228,228)"/>
<rect x="90.30" y="613.00" width="8.90" height="8.90" fill="rgb(230,230,230)"/>
<rect x="98.90" y="613.00" width="8.90" height="8.90" fill="rgb(195,195,195)"/>
<rect x="107.50" y="613.00" width="8.90" height="8.90" fill="rgb(185,185,185)"/>
<rect x="116.10" y="613.00" width="8.90" height="8.90" fill="rgb(215,215,215)"/>
<rect x="124.70" y="613.00" width="8.90" height="8.90" fill="rgb(150,150,150)"/>
<rect x="133.30" y="613.00" width="8.90" height="8.90" fill="rgb(170,170,170)"/>
<rect x="141.90" y="613.00" width="8.90" height="8.90" fill="rgb(100,100,100)"/>
<rect x="150.50" y="613.00" width="8.90" height="8.90" fill="rgb(180,180,180)"/>
<rect x="159.10" y="613.00" width="8.90" height="8.90" fill="rgb(238,238,238)"/>
<rect x="38.70" y="604.40" width="8.90" height="8.90" fill="rgb(238,238,238)"/>
<rect x="47.30" y="604.40" width="8.90" height="8.90" fill="rgb(240,240,240)"/>
<rect x="55.90" y="604.40" width="8.90" height="8.90" fill="rgb(238,238,238)"/>
<rect x="64.50" y="604.40" width="8.90" height="8.90" fill="rgb(240,240,240)"/>
<rect x="73.10" y="604.40" width="8.90" height="8.90" fill="rgb(210,210,210)"/>
<rect x="81.70" y="604.40" width="8.90" height="8.90" fill="rgb(190,190,190)"/>
<rect x="90.30" y="604.40" width="8.90" height="8.90" fill="rgb(232,232,232)"/>
<rect x="98.90" y="604.40" width="8.90" height="8.90" fill="rgb(170,170,170)"/>
<rect x="107.50" y="604.40" width="8.90" height="8.90" fill="rgb(155,155,155)"/>
<rect x="116.10" y="604.40" width="8.90" height="8.90" fill="rgb(140,140,140)"/>
<rect x="124.70" y="604.40" width="8.90" height="8.90" fill="rgb(140,140,140)"/>
<rect x="133.30" y="604.40" width="8.90" height="8.90" fill="rgb(5,5,5)"/>
<rect x="141.90" y="604.40" width="8.90" height="8.90" fill="rgb(30,30,30)"/>
<rect x="150.50" y="604.40" width="8.90" height="8.90" fill="rgb(55,55,55)"/>
<rect x="159.10" y="604.40" width="8.90" height="8.90" fill="rgb(215,215,215)"/>
<rect x="38.70" y="595.80" width="8.90" height="8.90" fill="rgb(238,238,238)"/>
<rect x="47.30" y="595.80" width="8.90" height="8.90" fill="rgb(215,215,215)"/>
<rect x="55.90" y="595.80" width="8.90" height="8.90" fill="rgb(225,225,225)"/>
<rect x="64.50" y="595.80" width="8.90" height="8.90" fill="rgb(240,240,240)"/>
<rect x="73.10" y="595.80" width="8.90" height="8.90" fill="rgb(228,228,228)"/>
<rect x="81.70" y="595.80" width="8.90" height="8.90" fill="rgb(185,185,185)"/>
<rect x="90.30" y="595.80" width="8.90" height="8.90" fill="rgb(140,140,140)"/>
<rect x="98.90" y="595.80" width="8.90" height="8.90" fill="rgb(210,210,210)"/>
<rect x="107.50" y="595.80" width="8.90" height="8.90" fill="rgb(120,120,120)"/>
<rect x="116.10" y="595.80" width="8.90" height="8.90" fill="rgb(185,185,185)"/>
<rect x="124.70" y="595.80" width="8.90" height="8.90" fill="rgb(170,170,170)"/>
<rect x="133.30" y="595.80" width="8.90" height="8.90" fill="rgb(60,60,60)"/>
<rect x="141.90" y="595.80" width="8.90" height="8.90" fill="rgb(45,45,45)"/>
<rect x="150.50" y="595.80" width="8.90" height="8.90" fill="rgb(130,130,130)"/>
<rect x="159.10" y="595.80" width="8.90" height="8.90" fill="rgb(248,248,248)"/>
<rect x="38.70" y="587.20" width="8.90" height="8.90" fill="rgb(248,248,248)"/>
<rect x="47.30" y="587.20" width="8.90" height="8.90" fill="rgb(248,248,248)"/>
<rect x="55.90" y="587.20" width="8.90" height="8.90" fill="rgb(235,235,235)"/>
<rect x="64.50" y="587.20" width="8.90" height="8.90" fill="rgb(245,245,245)"/>
<rect x="73.10" y="587.20" width="8.90" height="8.90" fill="rgb(245,245,245)"/>
<rect x="81.70" y="587.20" width="8.90" height="8.90" fill="rgb(240,240,240)"/>
<rect x="90.30" y="587.20" width="8.90" height="8.90" fill="rgb(190,190,190)"/>
<rect x="98.90" y="587.20" width="8.90" height="8.90" fill="rgb(235,235,235)"/>
<rect x="107.50" y="587.20" width="8.90" height="8.90" fill="rgb(195,195,195)"/>
<rect x="116.10" y="587.20" width="8.90" height="8.90" fill="rgb(205,205,205)"/>
<rect x="124.70" y="587.20" width="8.90" height="8.90" fill="rgb(232,232,232)"/>
<rect x="133.30" y="587.20" width="8.90" height="8.90" fill="rgb(195,195,195)"/>
<rect x="141.90" y="587.20" width="8.90" height="8.90" fill="rgb(190,190,190)"/>
<rect x="150.50" y="587.20" width="8.90" height="8.90" fill="rgb(220,220,220)"/>
<rect x="159.10" y="587.20" width="8.90" height="8.90" fill="rgb(245,245,245)"/>
<rect x="38.70" y="578.60" width="8.90" height="8.90" fill="rgb(245,245,245)"/>
<rect x="47.30" y="578.60" width="8.90" height="8.90" fill="rgb(245,245,245)"/>
<rect x="73.10" y="578.60" width="8.90" height="8.90" fill="rgb(245,245,245)"/>
<rect x="81.70" y="578.60" width="8.90" height="8.90" fill="rgb(245,245,245)"/>
<rect x="90.30" y="578.60" width="8.90" height="8.90" fill="rgb(228,228,228)"/>
<rect x="98.90" y="578.60" width="8.90" height="8.90" fill="rgb(240,240,240)"/>
<rect x="107.50" y="578.60" width="8.90" height="8.90" fill="rgb(225,225,225)"/>
<rect x="116.10" y="578.60" width="8.90" height="8.90" fill="rgb(240,240,240)"/>
<rect x="124.70" y="578.60" width="8.90" height="8.90" fill="rgb(235,235,235)"/>
<rect x="133.30" y="578.60" width="8.90" height="8.90" fill="rgb(235,235,235)"/>
<rect x="141.90" y="578.60" width="8.90" height="8.90" fill="rgb(235,235,235)"/>
<rect x="150.50" y="578.60" width="8.90" height="8.90" fill="rgb(235,235,235)"/>
<rect x="159.10" y="578.60" width="8.90" height="8.90" fill="rgb(245,245,245)"/>
<rect x="73.10" y="570.00" width="8.90" height="8.90" fill="rgb(248,248,248)"/>
<rect x="81.70" y="570.00" width="8.90" height="8.90" fill="rgb(240,240,240)"/>
<rect x="90.30" y="570.00" width="8.90" height="8.90" fill="rgb(245,245,245)"/>
<rect x="98.90" y="570.00" width="8.90" height="8.90" fill="rgb(245,245,245)"/>
<rect x="107.50" y="570.00" width="8.90" height="8.90" fill="rgb(252,252,252)"/>
<rect x="116.10" y="570.00" width="8.90" height="8.90" fill="rgb(245,245,245)"/>
<rect x="124.70" y="570.00" width="8.90" height="8.90" fill="rgb(245,245,245)"/>
<rect x="133.30" y="570.00" width="8.90" height="8.90" fill="rgb(238,238,238)"/>
<rect x="141.90" y="570.00" width="8.90" height="8.90" fill="rgb(245,245,245)"/>
<rect x="150.50" y="570.00" width="8.90" height="8.90" fill="rgb(245,245,245)"/>
<rect x="159.10" y="570.00" width="8.90" height="8.90" fill="rgb(248,248,248)"/>
<rect x="64.50" y="561.40" width="8.90" height="8.90" fill="rgb(245,245,245)"/>
<rect x="73.10" y="561.40" width="8.90" height="8.90" fill="rgb(252,252,252)"/>
<rect x="81.70" y="561.40" width="8.90" height="8.90" fill="rgb(245,245,245)"/>
<rect x="90.30" y="561.40" width="8.90" height="8.90" fill="rgb(240,240,240)"/>
<rect x="98.90" y="561.40" width="8.90" height="8.90" fill="rgb(245,245,245)"/>
<rect x="107.50" y="561.40" width="8.90" height="8.90" fill="rgb(252,252,252)"/>
<rect x="116.10" y="561.40" width="8.90" height="8.90" fill="rgb(245,245,245)"/>
<rect x="124.70" y="561.40" width="8.90" height="8.90" fill="rgb(252,252,252)"/>
<rect x="133.30" y="561.40" width="8.90" height="8.90" fill="rgb(245,245,245)"/>
<rect x="141.90" y="561.40" width="8.90" height="8.90" fill="rgb(245,245,245)"/>
<rect x="150.50" y="561.40" width="8.90" height="8.90" fill="rgb(248,248,248)"/>
<rect x="73.10" y="552.80" width="8.90" height="8.90" fill="rgb(245,245,245)"/>
<rect x="81.70" y="552.80" width="8.90" height="8.90" fill="rgb(245,245,245)"/>
<rect x="90.30" y="552.80" width="8.90" height="8.90" fill="rgb(252,252,252)"/>
<rect x="98.90" y="552.80" width="8.90" height="8.90" fill="rgb(245,245,245)"/>
<rect x="107.50" y="552.80" width="8.90" height="8.90" fill="rgb(245,245,245)"/>
<rect x="116.10" y="552.80" width="8.90" height="8.90" fill="rgb(245,245,245)"/>
<rect x="124.70" y="552.80" width="8.90" height="8.90" fill="rgb(250,250,250)"/>
<rect x="90.30" y="544.20" width="8.90" height="8.90" fill="rgb(248,248,248)"/>
<rect x="133.30" y="544.20" width="8.90" height="8.90" fill="rgb(245,245,245)"/>
<rect x="141.90" y="544.20" width="8.90" height="8.90" fill="rgb(248,248,248)"/>
<rect x="90.30" y="535.60" width="8.90" height="8.90" fill="rgb(248,248,248)"/>
<rect x="98.90" y="535.60" width="8.90" height="8.90" fill="rgb(248,248,248)"/>
<rect x="150.50" y="535.60" width="8.90" height="8.90" fill="rgb(245,245,245)"/>
<line x1="38.70" y1="450.00" x2="38.70" y2="622.30" stroke="#000" stroke-width="1.15"/>
<line x1="38.13" y1="621.75" x2="210.70" y2="621.75" stroke="#000" stroke-width="1.15"/>
<line x1="35.90" y1="617.30" x2="38.70" y2="617.30" stroke="#000" stroke-width="0.9"/>
<text x="32.30" y="620.80" font-size="10.08" text-anchor="end" fill="#000" textLength="6.11" lengthAdjust="spacingAndGlyphs" stroke="#000" stroke-width="0.3">0</text>
<line x1="35.90" y1="574.30" x2="38.70" y2="574.30" stroke="#000" stroke-width="0.9"/>
<text x="32.30" y="577.80" font-size="10.08" text-anchor="end" fill="#000" textLength="12.22" lengthAdjust="spacingAndGlyphs" stroke="#000" stroke-width="0.3">45</text>
<line x1="35.90" y1="531.30" x2="38.70" y2="531.30" stroke="#000" stroke-width="0.9"/>
<text x="32.30" y="534.80" font-size="10.08" text-anchor="end" fill="#000" textLength="12.22" lengthAdjust="spacingAndGlyphs" stroke="#000" stroke-width="0.3">90</text>
<line x1="35.90" y1="488.30" x2="38.70" y2="488.30" stroke="#000" stroke-width="0.9"/>
<text x="32.30" y="491.80" font-size="10.08" text-anchor="end" fill="#000" textLength="18.32" lengthAdjust="spacingAndGlyphs" stroke="#000" stroke-width="0.3">135</text>
<line x1="43.00" y1="621.75" x2="43.00" y2="624.60" stroke="#000" stroke-width="0.9"/>
<text x="43.00" y="635.60" font-size="10.08" text-anchor="middle" fill="#000" textLength="6.11" lengthAdjust="spacingAndGlyphs" stroke="#000" stroke-width="0.3">0</text>
<line x1="86.00" y1="621.75" x2="86.00" y2="624.60" stroke="#000" stroke-width="0.9"/>
<text x="86.00" y="635.60" font-size="10.08" text-anchor="middle" fill="#000" textLength="12.22" lengthAdjust="spacingAndGlyphs" stroke="#000" stroke-width="0.3">20</text>
<line x1="137.60" y1="621.75" x2="137.60" y2="624.60" stroke="#000" stroke-width="0.9"/>
<text x="137.60" y="635.60" font-size="10.08" text-anchor="middle" fill="#000" textLength="12.22" lengthAdjust="spacingAndGlyphs" stroke="#000" stroke-width="0.3">40</text>
<line x1="180.60" y1="621.75" x2="180.60" y2="624.60" stroke="#000" stroke-width="0.9"/>
<text x="180.60" y="635.60" font-size="10.08" text-anchor="middle" fill="#000" textLength="12.22" lengthAdjust="spacingAndGlyphs" stroke="#000" stroke-width="0.3">60</text>
<text x="124.60" y="648.60" font-size="11.34" text-anchor="middle" fill="#000" textLength="163.55" lengthAdjust="spacingAndGlyphs" stroke="#000" stroke-width="0.3">Path distance from soma [µm]</text>
<rect x="244.70" y="613.00" width="8.92" height="8.90" fill="rgb(235,235,235)"/>
<rect x="253.31" y="613.00" width="8.92" height="8.90" fill="rgb(225,225,225)"/>
<rect x="261.93" y="613.00" width="8.92" height="8.90" fill="rgb(225,225,225)"/>
<rect x="270.54" y="613.00" width="8.92" height="8.90" fill="rgb(235,235,235)"/>
<rect x="279.16" y="613.00" width="8.92" height="8.90" fill="rgb(130,130,130)"/>
<rect x="287.77" y="613.00" width="8.92" height="8.90" fill="rgb(60,60,60)"/>
<rect x="296.39" y="613.00" width="8.92" height="8.90" fill="rgb(150,150,150)"/>
<rect x="305.00" y="613.00" width="8.92" height="8.90" fill="rgb(175,175,175)"/>
<rect x="313.62" y="613.00" width="8.92" height="8.90" fill="rgb(220,220,220)"/>
<rect x="322.24" y="613.00" width="8.92" height="8.90" fill="rgb(230,230,230)"/>
<rect x="330.85" y="613.00" width="8.92" height="8.90" fill="rgb(248,248,248)"/>
<rect x="339.46" y="613.00" width="8.92" height="8.90" fill="rgb(238,238,238)"/>
<rect x="348.08" y="613.00" width="8.92" height="8.90" fill="rgb(238,238,238)"/>
<rect x="356.69" y="613.00" width="8.92" height="8.90" fill="rgb(150,150,150)"/>
<rect x="365.31" y="613.00" width="8.92" height="8.90" fill="rgb(175,175,175)"/>
<rect x="373.92" y="613.00" width="8.92" height="8.90" fill="rgb(170,170,170)"/>
<rect x="382.54" y="613.00" width="8.92" height="8.90" fill="rgb(180,180,180)"/>
<rect x="391.15" y="613.00" width="8.92" height="8.90" fill="rgb(120,120,120)"/>
<rect x="399.77" y="613.00" width="8.92" height="8.90" fill="rgb(150,150,150)"/>
<rect x="408.38" y="613.00" width="8.92" height="8.90" fill="rgb(230,230,230)"/>
<rect x="244.70" y="604.40" width="8.92" height="8.90" fill="rgb(245,245,245)"/>
<rect x="253.31" y="604.40" width="8.92" height="8.90" fill="rgb(205,205,205)"/>
<rect x="261.93" y="604.40" width="8.92" height="8.90" fill="rgb(200,200,200)"/>
<rect x="270.54" y="604.40" width="8.92" height="8.90" fill="rgb(150,150,150)"/>
<rect x="279.16" y="604.40" width="8.92" height="8.90" fill="rgb(70,70,70)"/>
<rect x="287.77" y="604.40" width="8.92" height="8.90" fill="rgb(70,70,70)"/>
<rect x="296.39" y="604.40" width="8.92" height="8.90" fill="rgb(25,25,25)"/>
<rect x="305.00" y="604.40" width="8.92" height="8.90" fill="rgb(60,60,60)"/>
<rect x="313.62" y="604.40" width="8.92" height="8.90" fill="rgb(120,120,120)"/>
<rect x="322.24" y="604.40" width="8.92" height="8.90" fill="rgb(195,195,195)"/>
<rect x="330.85" y="604.40" width="8.92" height="8.90" fill="rgb(215,215,215)"/>
<rect x="339.46" y="604.40" width="8.92" height="8.90" fill="rgb(215,215,215)"/>
<rect x="348.08" y="604.40" width="8.92" height="8.90" fill="rgb(210,210,210)"/>
<rect x="356.69" y="604.40" width="8.92" height="8.90" fill="rgb(105,105,105)"/>
<rect x="365.31" y="604.40" width="8.92" height="8.90" fill="rgb(25,25,25)"/>
<rect x="373.92" y="604.40" width="8.92" height="8.90" fill="rgb(50,50,50)"/>
<rect x="382.54" y="604.40" width="8.92" height="8.90" fill="rgb(60,60,60)"/>
<rect x="391.15" y="604.40" width="8.92" height="8.90" fill="rgb(10,10,10)"/>
<rect x="399.77" y="604.40" width="8.92" height="8.90" fill="rgb(100,100,100)"/>
<rect x="408.38" y="604.40" width="8.92" height="8.90" fill="rgb(215,215,215)"/>
<rect x="244.70" y="595.80" width="8.92" height="8.90" fill="rgb(245,245,245)"/>
<rect x="253.31" y="595.80" width="8.92" height="8.90" fill="rgb(240,240,240)"/>
<rect x="261.93" y="595.80" width="8.92" height="8.90" fill="rgb(225,225,225)"/>
<rect x="270.54" y="595.80" width="8.92" height="8.90" fill="rgb(170,170,170)"/>
<rect x="279.16" y="595.80" width="8.92" height="8.90" fill="rgb(130,130,130)"/>
<rect x="287.77" y="595.80" width="8.92" height="8.90" fill="rgb(165,165,165)"/>
<rect x="296.39" y="595.80" width="8.92" height="8.90" fill="rgb(5,5,5)"/>
<rect x="305.00" y="595.80" width="8.92" height="8.90" fill="rgb(130,130,130)"/>
<rect x="313.62" y="595.80" width="8.92" height="8.90" fill="rgb(215,215,215)"/>
<rect x="322.24" y="595.80" width="8.92" height="8.90" fill="rgb(215,215,215)"/>
<rect x="330.85" y="595.80" width="8.92" height="8.90" fill="rgb(240,240,240)"/>
<rect x="339.46" y="595.80" width="8.92" height="8.90" fill="rgb(240,240,240)"/>
<rect x="348.08" y="595.80" width="8.92" height="8.90" fill="rgb(210,210,210)"/>
<rect x="356.69" y="595.80" width="8.92" height="8.90" fill="rgb(135,135,135)"/>
<rect x="365.31" y="595.80" width="8.92" height="8.90" fill="rgb(60,60,60)"/>
<rect x="373.92" y="595.80" width="8.92" height="8.90" fill="rgb(130,130,130)"/>
<rect x="382.54" y="595.80" width="8.92" height="8.90" fill="rgb(110,110,110)"/>
<rect x="391.15" y="595.80" width="8.92" height="8.90" fill="rgb(60,60,60)"/>
<rect x="399.77" y="595.80" width="8.92" height="8.90" fill="rgb(110,110,110)"/>
<rect x="408.38" y="595.80" width="8.92" height="8.90" fill="rgb(225,225,225)"/>
<rect x="244.70" y="587.20" width="8.92" height="8.90" fill="rgb(252,252,252)"/>
<rect x="253.31" y="587.20" width="8.92" height="8.90" fill="rgb(245,245,245)"/>
<rect x="261.93" y="587.20" width="8.92" height="8.90" fill="rgb(250,250,250)"/>
<rect x="270.54" y="587.20" width="8.92" height="8.90" fill="rgb(220,220,220)"/>
<rect x="279.16" y="587.20" width="8.92" height="8.90" fill="rgb(240,240,240)"/>
<rect x="287.77" y="587.20" width="8.92" height="8.90" fill="rgb(238,238,238)"/>
<rect x="296.39" y="587.20" width="8.92" height="8.90" fill="rgb(205,205,205)"/>
<rect x="305.00" y="587.20" width="8.92" height="8.90" fill="rgb(200,200,200)"/>
<rect x="313.62" y="587.20" width="8.92" height="8.90" fill="rgb(225,225,225)"/>
<rect x="322.24" y="587.20" width="8.92" height="8.90" fill="rgb(240,240,240)"/>
<rect x="330.85" y="587.20" width="8.92" height="8.90" fill="rgb(248,248,248)"/>
<rect x="339.46" y="587.20" width="8.92" height="8.90" fill="rgb(245,245,245)"/>
<rect x="348.08" y="587.20" width="8.92" height="8.90" fill="rgb(240,240,240)"/>
<rect x="356.69" y="587.20" width="8.92" height="8.90" fill="rgb(195,195,195)"/>
<rect x="365.31" y="587.20" width="8.92" height="8.90" fill="rgb(185,185,185)"/>
<rect x="373.92" y="587.20" width="8.92" height="8.90" fill="rgb(140,140,140)"/>
<rect x="382.54" y="587.20" width="8.92" height="8.90" fill="rgb(225,225,225)"/>
<rect x="391.15" y="587.20" width="8.92" height="8.90" fill="rgb(195,195,195)"/>
<rect x="399.77" y="587.20" width="8.92" height="8.90" fill="rgb(200,200,200)"/>
<rect x="408.38" y="587.20" width="8.92" height="8.90" fill="rgb(230,230,230)"/>
<rect x="244.70" y="578.60" width="8.92" height="8.90" fill="rgb(235,235,235)"/>
<rect x="253.31" y="578.60" width="8.92" height="8.90" fill="rgb(245,245,245)"/>
<rect x="270.54" y="578.60" width="8.92" height="8.90" fill="rgb(235,235,235)"/>
<rect x="279.16" y="578.60" width="8.92" height="8.90" fill="rgb(245,245,245)"/>
<rect x="296.39" y="578.60" width="8.92" height="8.90" fill="rgb(225,225,225)"/>
<rect x="305.00" y="578.60" width="8.92" height="8.90" fill="rgb(240,240,240)"/>
<rect x="313.62" y="578.60" width="8.92" height="8.90" fill="rgb(250,250,250)"/>
<rect x="322.24" y="578.60" width="8.92" height="8.90" fill="rgb(240,240,240)"/>
<rect x="339.46" y="578.60" width="8.92" height="8.90" fill="rgb(240,240,240)"/>
<rect x="348.08" y="578.60" width="8.92" height="8.90" fill="rgb(238,238,238)"/>
<rect x="356.69" y="578.60" width="8.92" height="8.90" fill="rgb(230,230,230)"/>
<rect x="365.31" y="578.60" width="8.92" height="8.90" fill="rgb(230,230,230)"/>
<rect x="373.92" y="578.60" width="8.92" height="8.90" fill="rgb(220,220,220)"/>
<rect x="382.54" y="578.60" width="8.92" height="8.90" fill="rgb(230,230,230)"/>
<rect x="391.15" y="578.60" width="8.92" height="8.90" fill="rgb(235,235,235)"/>
<rect x="399.77" y="578.60" width="8.92" height="8.90" fill="rgb(225,225,225)"/>
<rect x="408.38" y="578.60" width="8.92" height="8.90" fill="rgb(240,240,240)"/>
<rect x="270.54" y="570.00" width="8.92" height="8.90" fill="rgb(245,245,245)"/>
<rect x="279.16" y="570.00" width="8.92" height="8.90" fill="rgb(240,240,240)"/>
<rect x="287.77" y="570.00" width="8.92" height="8.90" fill="rgb(235,235,235)"/>
<rect x="296.39" y="570.00" width="8.92" height="8.90" fill="rgb(235,235,235)"/>
<rect x="305.00" y="570.00" width="8.92" height="8.90" fill="rgb(240,240,240)"/>
<rect x="313.62" y="570.00" width="8.92" height="8.90" fill="rgb(240,240,240)"/>
<rect x="322.24" y="570.00" width="8.92" height="8.90" fill="rgb(250,250,250)"/>
<rect x="339.46" y="570.00" width="8.92" height="8.90" fill="rgb(245,245,245)"/>
<rect x="348.08" y="570.00" width="8.92" height="8.90" fill="rgb(245,245,245)"/>
<rect x="356.69" y="570.00" width="8.92" height="8.90" fill="rgb(235,235,235)"/>
<rect x="365.31" y="570.00" width="8.92" height="8.90" fill="rgb(245,245,245)"/>
<rect x="373.92" y="570.00" width="8.92" height="8.90" fill="rgb(215,215,215)"/>
<rect x="382.54" y="570.00" width="8.92" height="8.90" fill="rgb(230,230,230)"/>
<rect x="391.15" y="570.00" width="8.92" height="8.90" fill="rgb(248,248,248)"/>
<rect x="399.77" y="570.00" width="8.92" height="8.90" fill="rgb(245,245,245)"/>
<rect x="408.38" y="570.00" width="8.92" height="8.90" fill="rgb(245,245,245)"/>
<rect x="270.54" y="561.40" width="8.92" height="8.90" fill="rgb(248,248,248)"/>
<rect x="279.16" y="561.40" width="8.92" height="8.90" fill="rgb(240,240,240)"/>
<rect x="287.77" y="561.40" width="8.92" height="8.90" fill="rgb(245,245,245)"/>
<rect x="296.39" y="561.40" width="8.92" height="8.90" fill="rgb(245,245,245)"/>
<rect x="305.00" y="561.40" width="8.92" height="8.90" fill="rgb(240,240,240)"/>
<rect x="313.62" y="561.40" width="8.92" height="8.90" fill="rgb(248,248,248)"/>
<rect x="339.46" y="561.40" width="8.92" height="8.90" fill="rgb(245,245,245)"/>
<rect x="348.08" y="561.40" width="8.92" height="8.90" fill="rgb(245,245,245)"/>
<rect x="356.69" y="561.40" width="8.92" height="8.90" fill="rgb(240,240,240)"/>
<rect x="365.31" y="561.40" width="8.92" height="8.90" fill="rgb(240,240,240)"/>
<rect x="373.92" y="561.40" width="8.92" height="8.90" fill="rgb(240,240,240)"/>
<rect x="382.54" y="561.40" width="8.92" height="8.90" fill="rgb(240,240,240)"/>
<rect x="391.15" y="561.40" width="8.92" height="8.90" fill="rgb(245,245,245)"/>
<rect x="270.54" y="552.80" width="8.92" height="8.90" fill="rgb(245,245,245)"/>
<rect x="296.39" y="552.80" width="8.92" height="8.90" fill="rgb(240,240,240)"/>
<rect x="356.69" y="552.80" width="8.92" height="8.90" fill="rgb(240,240,240)"/>
<rect x="365.31" y="552.80" width="8.92" height="8.90" fill="rgb(240,240,240)"/>
<rect x="373.92" y="552.80" width="8.92" height="8.90" fill="rgb(245,245,245)"/>
<rect x="382.54" y="552.80" width="8.92" height="8.90" fill="rgb(240,240,240)"/>
<rect x="391.15" y="552.80" width="8.92" height="8.90" fill="rgb(240,240,240)"/>
<rect x="399.77" y="552.80" width="8.92" height="8.90" fill="rgb(235,235,235)"/>
<rect x="348.08" y="544.20" width="8.92" height="8.90" fill="rgb(240,240,240)"/>
<rect x="356.69" y="544.20" width="8.92" height="8.90" fill="rgb(240,240,240)"/>
<rect x="305.00" y="535.60" width="8.92" height="8.90" fill="rgb(245,245,245)"/>
<rect x="348.08" y="535.60" width="8.92" height="8.90" fill="rgb(245,245,245)"/>
<rect x="373.92" y="535.60" width="8.92" height="8.90" fill="rgb(245,245,245)"/>
<line x1="244.70" y1="450.00" x2="244.70" y2="622.30" stroke="#000" stroke-width="1.15"/>
<line x1="244.13" y1="621.75" x2="417.00" y2="621.75" stroke="#000" stroke-width="1.15"/>
<line x1="241.90" y1="617.30" x2="244.70" y2="617.30" stroke="#000" stroke-width="0.9"/>
<text x="238.30" y="620.80" font-size="10.08" text-anchor="end" fill="#000" textLength="6.11" lengthAdjust="spacingAndGlyphs" stroke="#000" stroke-width="0.3">0</text>
<line x1="241.90" y1="574.30" x2="244.70" y2="574.30" stroke="#000" stroke-width="0.9"/>
<text x="238.30" y="577.80" font-size="10.08" text-anchor="end" fill="#000" textLength="12.22" lengthAdjust="spacingAndGlyphs" stroke="#000" stroke-width="0.3">45</text>
<line x1="241.90" y1="531.30" x2="244.70" y2="531.30" stroke="#000" stroke-width="0.9"/>
<text x="238.30" y="534.80" font-size="10.08" text-anchor="end" fill="#000" textLength="12.22" lengthAdjust="spacingAndGlyphs" stroke="#000" stroke-width="0.3">90</text>
<line x1="241.90" y1="488.30" x2="244.70" y2="488.30" stroke="#000" stroke-width="0.9"/>
<text x="238.30" y="491.80" font-size="10.08" text-anchor="end" fill="#000" textLength="18.32" lengthAdjust="spacingAndGlyphs" stroke="#000" stroke-width="0.3">135</text>
<line x1="249.01" y1="621.75" x2="249.01" y2="624.60" stroke="#000" stroke-width="0.9"/>
<text x="249.01" y="635.60" font-size="10.08" text-anchor="middle" fill="#000" textLength="6.11" lengthAdjust="spacingAndGlyphs" stroke="#000" stroke-width="0.3">0</text>
<line x1="292.08" y1="621.75" x2="292.08" y2="624.60" stroke="#000" stroke-width="0.9"/>
<text x="292.08" y="635.60" font-size="10.08" text-anchor="middle" fill="#000" textLength="12.22" lengthAdjust="spacingAndGlyphs" stroke="#000" stroke-width="0.3">20</text>
<line x1="343.77" y1="621.75" x2="343.77" y2="624.60" stroke="#000" stroke-width="0.9"/>
<text x="343.77" y="635.60" font-size="10.08" text-anchor="middle" fill="#000" textLength="12.22" lengthAdjust="spacingAndGlyphs" stroke="#000" stroke-width="0.3">40</text>
<line x1="386.85" y1="621.75" x2="386.85" y2="624.60" stroke="#000" stroke-width="0.9"/>
<text x="386.85" y="635.60" font-size="10.08" text-anchor="middle" fill="#000" textLength="12.22" lengthAdjust="spacingAndGlyphs" stroke="#000" stroke-width="0.3">60</text>
<text x="330.60" y="648.60" font-size="11.34" text-anchor="middle" fill="#000" textLength="163.55" lengthAdjust="spacingAndGlyphs" stroke="#000" stroke-width="0.3">Path distance from soma [µm]</text>
<text x="8.90" y="535.80" font-size="11.34" text-anchor="middle" fill="#000" textLength="89.34" lengthAdjust="spacingAndGlyphs" transform="rotate(-90 8.90 535.80)" stroke="#000" stroke-width="0.3">Path angle [deg]</text>
<text x="459.30" y="453.00" font-size="22.00" text-anchor="start" font-weight="bold" fill="#000">f</text>
<line x1="480.30" y1="454.90" x2="480.30" y2="622.60" stroke="#c8c8c8" stroke-width="1.1"/>
<line x1="480.30" y1="622.60" x2="652.40" y2="622.60" stroke="#c8c8c8" stroke-width="1.1"/>
<text x="566.10" y="632.60" font-size="10.29" text-anchor="middle" fill="#000" textLength="51.31" lengthAdjust="spacingAndGlyphs" stroke="#000" stroke-width="0.3">PC 1 (a.u.)</text>
<text x="475.70" y="539.30" font-size="10.29" text-anchor="middle" fill="#000" textLength="51.31" lengthAdjust="spacingAndGlyphs" transform="rotate(-90 475.70 539.30)" stroke="#000" stroke-width="0.3">PC 2 (a.u.)</text>
<path d="M511.50,501.20 L515.15,508.11 L507.85,508.11 Z" fill="#72acd6" fill-opacity="0.95"/>
<path d="M511.90,518.00 L515.55,524.90 L508.25,524.90 Z" fill="#72acd6" fill-opacity="0.95"/>
<path d="M523.60,518.00 L527.25,524.90 L519.95,524.90 Z" fill="#72acd6" fill-opacity="0.95"/>
<path d="M506.10,523.41 L509.75,530.31 L502.45,530.31 Z" fill="#72acd6" fill-opacity="0.95"/>
<path d="M517.80,525.81 L521.45,532.71 L514.15,532.71 Z" fill="#72acd6" fill-opacity="0.95"/>
<path d="M520.60,530.00 L524.25,536.90 L516.95,536.90 Z" fill="#72acd6" fill-opacity="0.95"/>
<path d="M522.00,532.81 L525.65,539.71 L518.35,539.71 Z" fill="#72acd6" fill-opacity="0.95"/>
<path d="M512.40,534.61 L516.05,541.50 L508.75,541.50 Z" fill="#72acd6" fill-opacity="0.95"/>
<path d="M527.60,535.81 L531.25,542.71 L523.95,542.71 Z" fill="#72acd6" fill-opacity="0.95"/>
<path d="M530.20,544.91 L533.85,551.81 L526.55,551.81 Z" fill="#72acd6" fill-opacity="0.95"/>
<path d="M548.10,544.91 L551.75,551.81 L544.45,551.81 Z" fill="#72acd6" fill-opacity="0.95"/>
<path d="M542.30,553.31 L545.95,560.21 L538.65,560.21 Z" fill="#72acd6" fill-opacity="0.95"/>
<path d="M544.60,557.31 L548.25,564.21 L540.95,564.21 Z" fill="#72acd6" fill-opacity="0.95"/>
<path d="M547.40,559.61 L551.05,566.50 L543.75,566.50 Z" fill="#72acd6" fill-opacity="0.95"/>
<path d="M577.30,543.31 L580.95,550.21 L573.65,550.21 Z" fill="#72acd6" fill-opacity="0.95"/>
<path d="M576.60,575.31 L580.25,582.21 L572.95,582.21 Z" fill="#72acd6" fill-opacity="0.95"/>
<rect x="501.85" y="519.35" width="5.30" height="5.30" fill="#2c5070" fill-opacity="0.95"/>
<rect x="551.65" y="537.65" width="5.30" height="5.30" fill="#2c5070" fill-opacity="0.95"/>
<rect x="556.75" y="578.25" width="5.30" height="5.30" fill="#2c5070" fill-opacity="0.95"/>
<rect x="571.45" y="576.15" width="5.30" height="5.30" fill="#2c5070" fill-opacity="0.95"/>
<rect x="612.15" y="486.65" width="5.30" height="5.30" fill="#2c5070" fill-opacity="0.95"/>
<rect x="590.65" y="508.85" width="5.30" height="5.30" fill="#2c5070" fill-opacity="0.95"/>
<rect x="596.45" y="509.35" width="5.30" height="5.30" fill="#2c5070" fill-opacity="0.95"/>
<rect x="602.75" y="514.75" width="5.30" height="5.30" fill="#2c5070" fill-opacity="0.95"/>
<rect x="613.95" y="505.85" width="5.30" height="5.30" fill="#2c5070" fill-opacity="0.95"/>
<rect x="626.15" y="507.05" width="5.30" height="5.30" fill="#2c5070" fill-opacity="0.95"/>
<rect x="599.95" y="533.85" width="5.30" height="5.30" fill="#2c5070" fill-opacity="0.95"/>
<rect x="605.85" y="535.25" width="5.30" height="5.30" fill="#2c5070" fill-opacity="0.95"/>
<rect x="610.45" y="533.85" width="5.30" height="5.30" fill="#2c5070" fill-opacity="0.95"/>
<rect x="588.35" y="547.45" width="5.30" height="5.30" fill="#2c5070" fill-opacity="0.95"/>
<rect x="605.35" y="547.45" width="5.30" height="5.30" fill="#2c5070" fill-opacity="0.95"/>
<rect x="588.35" y="556.75" width="5.30" height="5.30" fill="#2c5070" fill-opacity="0.95"/>
<rect x="591.85" y="557.95" width="5.30" height="5.30" fill="#2c5070" fill-opacity="0.95"/>
<rect x="589.45" y="560.25" width="5.30" height="5.30" fill="#2c5070" fill-opacity="0.95"/>
<rect x="602.75" y="556.75" width="5.30" height="5.30" fill="#2c5070" fill-opacity="0.95"/>
<rect x="495.65" y="460.85" width="5.30" height="5.30" fill="#2c5070" fill-opacity="0.95"/>
<path d="M498.70,473.50 L502.35,480.41 L495.05,480.41 Z" fill="#72acd6" fill-opacity="0.95"/>
<text x="507.00" y="466.30" font-size="9.45" text-anchor="start" fill="#000" textLength="5.73" lengthAdjust="spacingAndGlyphs" stroke="#000" stroke-width="0.3">1</text>
<text x="507.00" y="479.60" font-size="9.45" text-anchor="start" fill="#000" textLength="12.81" lengthAdjust="spacingAndGlyphs" stroke="#000" stroke-width="0.3">5O</text>
<text x="459.30" y="676.80" font-size="22.00" text-anchor="start" font-weight="bold" fill="#000">h</text>
<line x1="480.30" y1="669.20" x2="480.30" y2="836.80" stroke="#c8c8c8" stroke-width="1.1"/>
<line x1="480.30" y1="836.80" x2="652.40" y2="836.80" stroke="#c8c8c8" stroke-width="1.1"/>
<text x="566.10" y="846.80" font-size="10.29" text-anchor="middle" fill="#000" textLength="51.31" lengthAdjust="spacingAndGlyphs" stroke="#000" stroke-width="0.3">PC 1 (a.u.)</text>
<text x="475.70" y="753.80" font-size="10.29" text-anchor="middle" fill="#000" textLength="51.31" lengthAdjust="spacingAndGlyphs" transform="rotate(-90 475.70 753.80)" stroke="#000" stroke-width="0.3">PC 2 (a.u.)</text>
<path d="M516.10,737.61 L519.75,744.50 L512.45,744.50 Z" fill="#72acd6" fill-opacity="0.95"/>
<path d="M516.60,741.11 L520.25,748.00 L512.95,748.00 Z" fill="#72acd6" fill-opacity="0.95"/>
<path d="M508.60,746.21 L512.25,753.11 L504.95,753.11 Z" fill="#72acd6" fill-opacity="0.95"/>
<path d="M523.80,746.21 L527.45,753.11 L520.15,753.11 Z" fill="#72acd6" fill-opacity="0.95"/>
<path d="M514.90,750.91 L518.55,757.81 L511.25,757.81 Z" fill="#72acd6" fill-opacity="0.95"/>
<path d="M516.60,752.81 L520.25,759.71 L512.95,759.71 Z" fill="#72acd6" fill-opacity="0.95"/>
<path d="M506.80,753.91 L510.45,760.81 L503.15,760.81 Z" fill="#72acd6" fill-opacity="0.95"/>
<path d="M522.60,759.31 L526.25,766.21 L518.95,766.21 Z" fill="#72acd6" fill-opacity="0.95"/>
<path d="M534.10,756.31 L537.75,763.21 L530.45,763.21 Z" fill="#72acd6" fill-opacity="0.95"/>
<path d="M519.60,781.31 L523.25,788.21 L515.95,788.21 Z" fill="#72acd6" fill-opacity="0.95"/>
<path d="M518.00,742.41 L521.65,749.31 L514.35,749.31 Z" fill="#72acd6" fill-opacity="0.95"/>
<path d="M514.20,751.31 L517.85,758.21 L510.55,758.21 Z" fill="#72acd6" fill-opacity="0.95"/>
<path d="M514.90,753.71 L518.55,760.61 L511.25,760.61 Z" fill="#72acd6" fill-opacity="0.95"/>
<rect x="614.15" y="710.65" width="5.30" height="5.30" fill="#2c5070" fill-opacity="0.95"/>
<rect x="627.05" y="714.85" width="5.30" height="5.30" fill="#2c5070" fill-opacity="0.95"/>
<rect x="622.35" y="726.55" width="5.30" height="5.30" fill="#2c5070" fill-opacity="0.95"/>
<rect x="638.05" y="727.25" width="5.30" height="5.30" fill="#2c5070" fill-opacity="0.95"/>
<rect x="601.35" y="752.05" width="5.30" height="5.30" fill="#2c5070" fill-opacity="0.95"/>
<rect x="628.65" y="758.05" width="5.30" height="5.30" fill="#2c5070" fill-opacity="0.95"/>
<rect x="567.95" y="766.95" width="5.30" height="5.30" fill="#2c5070" fill-opacity="0.95"/>
<rect x="572.65" y="763.45" width="5.30" height="5.30" fill="#2c5070" fill-opacity="0.95"/>
<rect x="570.25" y="768.55" width="5.30" height="5.30" fill="#2c5070" fill-opacity="0.95"/>
<rect x="576.15" y="769.75" width="5.30" height="5.30" fill="#2c5070" fill-opacity="0.95"/>
<rect x="575.65" y="772.05" width="5.30" height="5.30" fill="#2c5070" fill-opacity="0.95"/>
<rect x="590.85" y="765.75" width="5.30" height="5.30" fill="#2c5070" fill-opacity="0.95"/>
<rect x="569.85" y="775.65" width="5.30" height="5.30" fill="#2c5070" fill-opacity="0.95"/>
<rect x="584.75" y="773.25" width="5.30" height="5.30" fill="#2c5070" fill-opacity="0.95"/>
<rect x="591.35" y="773.25" width="5.30" height="5.30" fill="#2c5070" fill-opacity="0.95"/>
<rect x="598.75" y="773.95" width="5.30" height="5.30" fill="#2c5070" fill-opacity="0.95"/>
<rect x="604.15" y="784.45" width="5.30" height="5.30" fill="#2c5070" fill-opacity="0.95"/>
<rect x="532.45" y="781.95" width="5.30" height="5.30" fill="#2c5070" fill-opacity="0.95"/>
<rect x="556.75" y="794.95" width="5.30" height="5.30" fill="#2c5070" fill-opacity="0.95"/>
<rect x="587.75" y="801.25" width="5.30" height="5.30" fill="#2c5070" fill-opacity="0.95"/>
<rect x="490.25" y="672.85" width="5.30" height="5.30" fill="#2c5070" fill-opacity="0.95"/>
<path d="M493.30,685.91 L496.95,692.81 L489.65,692.81 Z" fill="#72acd6" fill-opacity="0.95"/>
<text x="501.60" y="678.30" font-size="9.45" text-anchor="start" fill="#000" textLength="5.73" lengthAdjust="spacingAndGlyphs" stroke="#000" stroke-width="0.3">1</text>
<text x="501.60" y="692.00" font-size="9.45" text-anchor="start" fill="#000" textLength="12.81" lengthAdjust="spacingAndGlyphs" stroke="#000" stroke-width="0.3">5O</text>
<text x="4.80" y="677.50" font-size="22.00" text-anchor="start" font-weight="bold" fill="#000">g</text>
<clipPath id="cg38"><rect x="38.5" y="660" width="170" height="177.0"/></clipPath><g clip-path="url(#cg38)">
<path d="M46.7,837.6L46.9,837.7L47.5,837.7L47.8,837.6L48.0,837.6L48.6,837.4L49.2,837.2L49.5,837.0L49.7,836.9L50.3,836.6L50.5,836.5L50.9,836.2L51.3,835.9L51.4,835.8L52.0,835.3L52.0,835.3L52.6,834.8L52.6,834.7L53.1,834.2L53.2,834.2L53.7,833.6L53.7,833.6L54.2,833.0L54.3,833.0L54.7,832.4L54.8,832.2L55.1,831.9L55.4,831.4L55.5,831.3L55.8,830.7L55.9,830.5L56.2,830.1L56.5,829.6L56.5,829.4L56.7,829.0L57.0,828.4L57.1,828.0L57.1,827.8L57.3,827.2L57.4,826.7L57.4,826.1L57.4,825.5L57.2,824.9L57.1,824.7L56.7,824.4L56.5,824.2L55.9,824.1L55.4,824.0L54.8,824.1L54.3,824.3L54.1,824.4L53.7,824.5L53.1,824.8L52.8,824.9L52.6,825.1L52.0,825.4L51.9,825.5L51.4,825.8L51.1,826.1L50.9,826.3L50.4,826.7L50.3,826.8L49.8,827.2L49.7,827.3L49.3,827.8L49.2,827.9L48.7,828.4L48.6,828.5L48.3,829.0L48.0,829.2L47.8,829.6L47.5,830.0L47.4,830.1L47.0,830.7L46.9,830.9L46.7,831.3L46.4,831.9L46.4,831.9L46.1,832.4L45.8,833.0L45.8,833.2L45.6,833.6L45.5,834.2L45.4,834.7L45.3,835.3L45.3,835.9L45.4,836.5L45.7,837.0L45.8,837.1L46.4,837.5ZM66.3,816.9L66.7,817.0L67.2,817.2L67.8,817.3L68.4,817.3L68.9,817.2L69.5,817.1L70.1,816.9L70.2,816.9L70.6,816.7L71.2,816.5L71.6,816.3L71.7,816.2L72.3,816.0L72.7,815.7L72.9,815.6L73.4,815.3L73.7,815.1L74.0,815.0L74.6,814.6L74.6,814.6L75.1,814.2L75.4,814.0L75.7,813.8L76.2,813.4L76.3,813.4L76.8,812.9L77.0,812.8L77.4,812.5L77.7,812.3L78.0,812.0L78.4,811.7L78.5,811.6L79.1,811.1L79.1,811.1L79.6,810.6L79.8,810.5L80.2,810.2L80.5,809.9L80.8,809.7L81.1,809.4L81.3,809.2L81.8,808.8L81.9,808.7L82.5,808.3L82.5,808.2L83.0,807.8L83.3,807.6L83.6,807.4L84.0,807.1L84.2,807.0L84.7,806.5L84.8,806.5L85.3,806.2L85.7,805.9L85.9,805.8L86.4,805.4L86.6,805.3L87.0,805.1L87.5,804.8L87.6,804.8L88.1,804.5L88.7,804.2L88.7,804.2L89.2,804.0L89.8,803.7L90.1,803.6L90.4,803.5L90.9,803.3L91.5,803.1L91.8,803.0L92.1,802.9L92.6,802.8L93.2,802.7L93.8,802.6L94.3,802.5L94.5,802.4L94.9,802.4L95.4,802.4L96.0,802.4L96.6,802.4L97.1,802.4L97.7,802.4L97.7,802.5L98.3,802.5L98.8,802.6L99.4,802.7L100.0,802.8L100.5,802.8L101.1,802.9L101.7,802.9L102.2,802.9L102.8,802.9L103.3,802.9L103.9,802.9L104.5,802.8L105.0,802.7L105.6,802.5L105.9,802.4L106.2,802.4L106.7,802.2L107.3,801.9L107.5,801.9L107.9,801.7L108.4,801.4L108.6,801.3L109.0,801.0L109.4,800.7L109.6,800.6L110.1,800.1L110.1,800.1L110.7,799.6L110.7,799.6L111.2,799.0L111.2,798.9L111.5,798.4L111.8,797.9L111.8,797.8L112.0,797.3L112.2,796.7L112.2,796.1L112.2,795.5L112.1,795.0L111.9,794.4L111.8,794.2L111.6,793.8L111.3,793.2L111.2,793.2L110.9,792.6L110.7,792.3L110.5,792.1L110.2,791.5L110.1,791.2L110.0,790.9L109.9,790.3L110.0,789.8L110.0,789.2L110.1,788.9L110.2,788.6L110.4,788.0L110.7,787.5L110.7,787.5L111.0,786.9L111.2,786.5L111.4,786.3L111.7,785.7L111.8,785.6L112.1,785.1L112.4,784.8L112.5,784.6L112.9,784.0L112.9,784.0L113.3,783.4L113.5,783.2L113.7,782.8L114.1,782.4L114.1,782.3L114.6,781.7L114.6,781.6L115.0,781.1L115.2,780.8L115.4,780.5L115.7,780.0L115.8,779.9L116.1,779.4L116.3,779.1L116.5,778.8L116.9,778.2L116.9,778.2L117.3,777.7L117.5,777.4L117.6,777.1L118.0,776.5L118.0,776.4L118.3,775.9L118.6,775.5L118.7,775.3L119.0,774.8L119.1,774.5L119.4,774.2L119.7,773.6L119.7,773.5L120.0,773.0L120.3,772.5L120.3,772.5L120.6,771.9L120.8,771.4L120.9,771.3L121.2,770.7L121.4,770.3L121.5,770.2L121.8,769.6L122.0,769.1L122.0,769.0L122.3,768.4L122.5,767.9L122.5,767.8L122.8,767.3L123.0,766.7L123.1,766.5L123.3,766.1L123.5,765.5L123.7,765.1L123.7,765.0L123.9,764.4L124.1,763.8L124.2,763.5L124.3,763.2L124.5,762.7L124.7,762.1L124.8,761.8L124.9,761.5L125.1,760.9L125.2,760.4L125.4,759.8L125.4,759.8L125.5,759.2L125.6,758.6L125.8,758.0L125.9,757.5L125.9,757.1L126.0,756.9L126.1,756.3L126.1,755.7L126.2,755.2L126.3,754.6L126.3,754.0L126.4,753.4L126.4,752.9L126.4,752.3L126.4,751.7L126.4,751.1L126.3,750.5L126.3,750.0L126.2,749.4L126.1,748.8L126.0,748.2L125.9,748.1L125.8,747.7L125.6,747.1L125.4,746.5L125.4,746.3L125.2,745.9L124.9,745.4L124.8,745.2L124.6,744.8L124.2,744.3L124.2,744.2L123.7,743.6L123.7,743.6L123.1,743.1L123.1,743.0L122.5,742.5L122.5,742.5L122.0,742.1L121.5,741.9L121.4,741.8L120.8,741.5L120.3,741.3L120.2,741.3L119.7,741.2L119.1,741.0L118.6,740.9L118.0,740.8L117.5,740.8L116.9,740.8L116.3,740.8L115.8,740.8L115.2,740.9L114.6,740.9L114.1,741.0L113.5,741.1L112.9,741.2L112.6,741.3L112.4,741.4L111.8,741.5L111.2,741.7L110.7,741.9L110.7,741.9L110.1,742.1L109.6,742.3L109.2,742.5L109.0,742.6L108.4,742.8L107.9,743.1L107.9,743.1L107.3,743.3L106.7,743.6L106.7,743.6L106.2,743.9L105.6,744.2L105.6,744.2L105.0,744.5L104.6,744.8L104.5,744.9L103.9,745.2L103.7,745.4L103.3,745.5L102.8,745.9L102.7,745.9L102.2,746.3L101.9,746.5L101.7,746.7L101.1,747.1L101.1,747.1L100.5,747.5L100.3,747.7L100.0,747.9L99.5,748.2L99.4,748.3L98.8,748.8L98.8,748.8L98.3,749.2L98.0,749.4L97.7,749.7L97.3,750.0L97.1,750.1L96.7,750.5L96.6,750.6L96.0,751.1L96.0,751.1L95.4,751.6L95.4,751.7L94.9,752.1L94.7,752.3L94.3,752.7L94.1,752.9L93.8,753.2L93.5,753.4L93.2,753.8L92.9,754.0L92.6,754.3L92.4,754.6L92.1,754.9L91.8,755.2L91.5,755.5L91.3,755.7L90.9,756.1L90.7,756.3L90.4,756.7L90.2,756.9L89.8,757.3L89.7,757.5L89.2,758.0L89.2,758.0L88.7,758.6L88.7,758.6L88.2,759.2L88.1,759.3L87.7,759.8L87.5,760.0L87.2,760.4L87.0,760.7L86.8,760.9L86.4,761.4L86.3,761.5L85.9,762.1L85.9,762.1L85.5,762.7L85.3,762.9L85.0,763.2L84.7,763.6L84.6,763.8L84.2,764.4L84.2,764.4L83.8,765.0L83.6,765.2L83.4,765.5L83.0,766.1L83.0,766.1L82.6,766.7L82.5,766.9L82.2,767.3L81.9,767.8L81.9,767.8L81.5,768.4L81.3,768.7L81.1,769.0L80.8,769.6L80.8,769.6L80.4,770.2L80.2,770.6L80.1,770.7L79.8,771.3L79.6,771.6L79.5,771.9L79.1,772.5L79.1,772.6L78.8,773.0L78.5,773.6L78.5,773.6L78.2,774.2L78.0,774.7L77.9,774.8L77.6,775.3L77.4,775.9L77.4,775.9L77.1,776.5L76.8,777.1L76.8,777.1L76.6,777.7L76.3,778.2L76.3,778.4L76.1,778.8L75.8,779.4L75.7,779.7L75.6,780.0L75.3,780.5L75.1,781.1L75.1,781.1L74.9,781.7L74.7,782.3L74.6,782.6L74.5,782.8L74.2,783.4L74.0,784.0L74.0,784.1L73.8,784.6L73.6,785.1L73.4,785.6L73.4,785.7L73.2,786.3L73.0,786.9L72.9,787.2L72.8,787.5L72.6,788.0L72.4,788.6L72.3,788.8L72.1,789.2L71.9,789.8L71.7,790.3L71.7,790.3L71.5,790.9L71.3,791.5L71.2,791.7L71.0,792.1L70.8,792.6L70.6,793.1L70.6,793.2L70.3,793.8L70.1,794.4L70.1,794.4L69.8,795.0L69.6,795.5L69.5,795.8L69.3,796.1L69.1,796.7L68.9,797.1L68.9,797.3L68.6,797.8L68.4,798.4L68.4,798.4L68.1,799.0L67.9,799.6L67.8,799.8L67.6,800.1L67.4,800.7L67.2,801.2L67.2,801.3L67.0,801.9L66.7,802.4L66.7,802.7L66.5,803.0L66.3,803.6L66.1,804.2L66.1,804.2L65.9,804.8L65.7,805.3L65.6,805.9L65.5,806.0L65.4,806.5L65.2,807.1L65.1,807.6L65.0,808.1L64.9,808.2L64.8,808.8L64.7,809.4L64.6,809.9L64.5,810.5L64.5,811.1L64.4,811.7L64.4,812.0L64.4,812.3L64.4,812.8L64.4,812.8L64.4,813.4L64.5,814.0L64.6,814.6L64.8,815.1L65.0,815.5L65.1,815.7L65.5,816.3L65.5,816.3L66.1,816.8Z" fill="rgb(236,236,236)" fill-rule="evenodd"/>
<path d="M70.7,809.9L71.2,810.2L71.7,810.3L72.3,810.3L72.9,810.2L73.4,810.1L73.8,809.9L74.0,809.9L74.6,809.6L75.0,809.4L75.1,809.3L75.7,809.0L76.0,808.8L76.3,808.6L76.8,808.2L76.9,808.2L77.4,807.8L77.7,807.6L78.0,807.4L78.4,807.1L78.5,807.0L79.1,806.5L79.1,806.5L79.6,806.0L79.8,805.9L80.2,805.6L80.5,805.3L80.8,805.1L81.1,804.8L81.3,804.6L81.8,804.2L81.9,804.1L82.4,803.6L82.5,803.6L83.0,803.1L83.1,803.0L83.6,802.6L83.8,802.4L84.2,802.1L84.5,801.9L84.7,801.7L85.2,801.3L85.3,801.2L85.9,800.8L85.9,800.7L86.4,800.4L86.7,800.1L87.0,800.0L87.5,799.6L87.6,799.6L88.1,799.2L88.5,799.0L88.7,798.9L89.2,798.6L89.5,798.4L89.8,798.2L90.4,797.9L90.6,797.8L90.9,797.7L91.5,797.4L91.7,797.3L92.1,797.1L92.6,796.8L92.9,796.7L93.2,796.5L93.8,796.3L94.1,796.1L94.3,796.0L94.9,795.7L95.2,795.5L95.4,795.4L96.0,795.1L96.3,795.0L96.6,794.8L97.1,794.5L97.3,794.4L97.7,794.1L98.2,793.8L98.3,793.7L98.8,793.3L99.0,793.2L99.4,792.9L99.7,792.6L100.0,792.5L100.4,792.1L100.5,792.0L101.1,791.5L101.1,791.5L101.7,791.0L101.7,790.9L102.2,790.4L102.3,790.3L102.8,789.9L102.9,789.8L103.3,789.3L103.4,789.2L103.9,788.7L104.0,788.6L104.5,788.1L104.5,788.0L105.0,787.5L105.1,787.5L105.6,786.9L105.6,786.8L106.1,786.3L106.2,786.2L106.6,785.7L106.7,785.6L107.1,785.1L107.3,784.9L107.6,784.6L107.9,784.2L108.1,784.0L108.4,783.6L108.5,783.4L109.0,782.9L109.0,782.8L109.5,782.3L109.6,782.2L109.9,781.7L110.1,781.4L110.4,781.1L110.7,780.7L110.8,780.5L111.2,780.0L111.2,779.9L111.6,779.4L111.8,779.1L112.1,778.8L112.4,778.3L112.4,778.2L112.8,777.7L112.9,777.5L113.2,777.1L113.5,776.6L113.6,776.5L113.9,775.9L114.1,775.7L114.3,775.3L114.6,774.8L114.6,774.8L115.0,774.2L115.2,773.8L115.3,773.6L115.6,773.0L115.8,772.8L115.9,772.5L116.2,771.9L116.3,771.7L116.5,771.3L116.8,770.7L116.9,770.6L117.1,770.2L117.4,769.6L117.5,769.4L117.6,769.0L117.9,768.4L118.0,768.1L118.1,767.8L118.3,767.3L118.6,766.7L118.6,766.6L118.8,766.1L119.0,765.5L119.1,765.1L119.2,765.0L119.4,764.4L119.5,763.8L119.7,763.2L119.7,763.2L119.9,762.7L120.0,762.1L120.1,761.5L120.2,760.9L120.3,760.8L120.4,760.4L120.4,759.8L120.5,759.2L120.6,758.6L120.6,758.0L120.7,757.5L120.7,756.9L120.7,756.3L120.7,755.7L120.6,755.2L120.6,754.6L120.5,754.0L120.4,753.4L120.3,753.1L120.2,752.9L120.0,752.3L119.8,751.7L119.7,751.5L119.5,751.1L119.2,750.5L119.1,750.5L118.7,750.0L118.6,749.8L118.2,749.4L118.0,749.2L117.5,748.8L117.5,748.8L116.9,748.4L116.5,748.2L116.3,748.2L115.8,747.9L115.2,747.8L114.6,747.7L114.6,747.7L114.1,747.6L113.5,747.5L112.9,747.5L112.4,747.6L111.8,747.6L111.5,747.7L111.2,747.7L110.7,747.8L110.1,747.9L109.6,748.1L109.0,748.2L108.9,748.2L108.4,748.4L107.9,748.6L107.3,748.8L107.3,748.8L106.7,749.1L106.2,749.3L106.0,749.4L105.6,749.6L105.0,749.9L104.9,750.0L104.5,750.2L103.9,750.5L103.8,750.5L103.3,750.8L102.8,751.1L102.8,751.2L102.2,751.5L101.9,751.7L101.7,751.9L101.1,752.3L101.1,752.3L100.5,752.7L100.3,752.9L100.0,753.1L99.5,753.4L99.4,753.5L98.8,754.0L98.8,754.0L98.3,754.4L98.1,754.6L97.7,754.9L97.4,755.2L97.1,755.4L96.7,755.7L96.6,755.9L96.1,756.3L96.0,756.4L95.5,756.9L95.4,756.9L94.9,757.5L94.9,757.5L94.3,758.0L94.3,758.0L93.8,758.6L93.7,758.6L93.2,759.2L93.2,759.2L92.6,759.8L92.6,759.8L92.1,760.4L92.1,760.4L91.6,760.9L91.5,761.0L91.1,761.5L90.9,761.7L90.6,762.1L90.4,762.4L90.1,762.7L89.8,763.1L89.7,763.2L89.2,763.8L89.2,763.8L88.8,764.4L88.7,764.5L88.3,765.0L88.1,765.2L87.9,765.5L87.5,766.0L87.5,766.1L87.1,766.7L87.0,766.8L86.7,767.3L86.4,767.7L86.3,767.8L85.9,768.4L85.9,768.5L85.5,769.0L85.3,769.4L85.2,769.6L84.8,770.2L84.7,770.3L84.5,770.7L84.2,771.3L84.1,771.3L83.8,771.9L83.6,772.3L83.5,772.5L83.2,773.0L83.0,773.3L82.9,773.6L82.6,774.2L82.5,774.4L82.3,774.8L82.0,775.3L81.9,775.5L81.7,775.9L81.4,776.5L81.3,776.7L81.2,777.1L80.9,777.7L80.8,777.9L80.6,778.2L80.4,778.8L80.2,779.3L80.2,779.4L79.9,780.0L79.7,780.5L79.6,780.6L79.4,781.1L79.2,781.7L79.1,782.0L79.0,782.3L78.7,782.8L78.5,783.4L78.5,783.4L78.3,784.0L78.1,784.6L78.0,784.9L77.8,785.1L77.6,785.7L77.4,786.2L77.4,786.3L77.1,786.9L76.9,787.5L76.8,787.6L76.6,788.0L76.4,788.6L76.3,788.9L76.1,789.2L75.9,789.8L75.7,790.2L75.6,790.3L75.4,790.9L75.1,791.4L75.1,791.5L74.8,792.1L74.6,792.6L74.6,792.6L74.3,793.2L74.0,793.8L74.0,793.8L73.7,794.4L73.5,795.0L73.4,795.0L73.2,795.5L72.9,796.1L72.9,796.3L72.7,796.7L72.4,797.3L72.3,797.5L72.2,797.8L71.9,798.4L71.7,798.8L71.7,799.0L71.4,799.6L71.2,800.1L71.2,800.3L71.0,800.7L70.8,801.3L70.6,801.8L70.6,801.9L70.4,802.4L70.2,803.0L70.1,803.6L70.1,803.7L69.9,804.2L69.8,804.8L69.7,805.3L69.6,805.9L69.6,806.5L69.6,807.1L69.6,807.6L69.7,808.2L69.8,808.8L70.1,809.3L70.1,809.4L70.6,809.9Z" fill="rgb(222,222,222)" fill-rule="evenodd"/>
<path d="M74.0,805.3L74.6,805.5L75.1,805.5L75.7,805.4L75.8,805.3L76.3,805.2L76.8,804.9L77.1,804.8L77.4,804.6L78.0,804.2L78.0,804.2L78.5,803.8L78.9,803.6L79.1,803.4L79.6,803.0L79.6,803.0L80.2,802.5L80.3,802.4L80.8,802.1L81.0,801.9L81.3,801.6L81.7,801.3L81.9,801.1L82.3,800.7L82.5,800.6L83.0,800.1L83.0,800.1L83.6,799.6L83.7,799.6L84.2,799.1L84.4,799.0L84.7,798.7L85.1,798.4L85.3,798.2L85.8,797.8L85.9,797.8L86.4,797.4L86.5,797.3L87.0,796.9L87.4,796.7L87.5,796.6L88.1,796.2L88.2,796.1L88.7,795.8L89.2,795.5L89.2,795.5L89.8,795.2L90.2,795.0L90.4,794.8L90.9,794.5L91.2,794.4L91.5,794.2L92.1,793.9L92.3,793.8L92.6,793.6L93.2,793.3L93.4,793.2L93.8,793.0L94.3,792.7L94.5,792.6L94.9,792.4L95.4,792.1L95.5,792.1L96.0,791.8L96.4,791.5L96.6,791.4L97.1,791.0L97.3,790.9L97.7,790.7L98.2,790.3L98.3,790.3L98.8,789.9L99.0,789.8L99.4,789.4L99.7,789.2L100.0,789.0L100.4,788.6L100.5,788.5L101.1,788.0L101.1,788.0L101.7,787.5L101.8,787.5L102.2,787.0L102.4,786.9L102.8,786.5L103.0,786.3L103.3,786.0L103.6,785.7L103.9,785.4L104.2,785.1L104.5,784.8L104.7,784.6L105.0,784.2L105.2,784.0L105.6,783.6L105.8,783.4L106.2,783.0L106.3,782.8L106.7,782.3L106.8,782.3L107.3,781.7L107.3,781.7L107.7,781.1L107.9,781.0L108.2,780.5L108.4,780.3L108.7,780.0L109.0,779.5L109.1,779.4L109.5,778.8L109.6,778.7L109.9,778.2L110.1,778.0L110.3,777.7L110.7,777.1L110.7,777.1L111.1,776.5L111.2,776.3L111.5,775.9L111.8,775.4L111.8,775.3L112.2,774.8L112.4,774.5L112.5,774.2L112.9,773.6L112.9,773.5L113.2,773.0L113.5,772.5L113.5,772.4L113.8,771.9L114.1,771.3L114.1,771.3L114.4,770.7L114.6,770.2L114.6,770.2L114.9,769.6L115.1,769.0L115.2,768.9L115.4,768.4L115.6,767.8L115.8,767.4L115.8,767.3L116.0,766.7L116.2,766.1L116.3,765.8L116.4,765.5L116.6,765.0L116.7,764.4L116.9,763.8L116.9,763.8L117.0,763.2L117.1,762.7L117.2,762.1L117.3,761.5L117.4,760.9L117.5,760.4L117.5,760.4L117.5,759.8L117.5,759.2L117.5,758.6L117.5,758.0L117.5,757.7L117.4,757.5L117.3,756.9L117.2,756.3L117.1,755.7L116.9,755.2L116.9,755.2L116.6,754.6L116.3,754.1L116.3,754.0L115.9,753.4L115.8,753.3L115.3,752.9L115.2,752.7L114.6,752.3L114.6,752.3L114.1,752.0L113.5,751.7L113.4,751.7L112.9,751.6L112.4,751.4L111.8,751.4L111.2,751.3L110.7,751.3L110.1,751.4L109.6,751.5L109.0,751.6L108.4,751.7L108.3,751.7L107.9,751.8L107.3,752.0L106.7,752.2L106.5,752.3L106.2,752.4L105.6,752.6L105.2,752.9L105.0,752.9L104.5,753.2L104.0,753.4L103.9,753.5L103.3,753.8L103.0,754.0L102.8,754.1L102.2,754.5L102.0,754.6L101.7,754.8L101.2,755.2L101.1,755.2L100.5,755.6L100.3,755.7L100.0,756.0L99.6,756.3L99.4,756.4L98.8,756.9L98.8,756.9L98.3,757.3L98.1,757.5L97.7,757.8L97.4,758.0L97.1,758.3L96.8,758.6L96.6,758.8L96.2,759.2L96.0,759.4L95.6,759.8L95.4,759.9L95.0,760.4L94.9,760.5L94.4,760.9L94.3,761.0L93.9,761.5L93.8,761.6L93.3,762.1L93.2,762.3L92.8,762.7L92.6,762.9L92.3,763.2L92.1,763.6L91.8,763.8L91.5,764.2L91.4,764.4L90.9,764.9L90.9,765.0L90.5,765.5L90.4,765.7L90.0,766.1L89.8,766.4L89.6,766.7L89.2,767.2L89.2,767.3L88.8,767.8L88.7,768.0L88.4,768.4L88.1,768.8L88.0,769.0L87.6,769.6L87.5,769.7L87.3,770.2L87.0,770.6L86.9,770.7L86.6,771.3L86.4,771.6L86.2,771.9L85.9,772.5L85.9,772.6L85.6,773.0L85.3,773.6L85.3,773.6L85.0,774.2L84.7,774.7L84.7,774.8L84.4,775.3L84.2,775.8L84.1,775.9L83.8,776.5L83.6,777.0L83.6,777.1L83.3,777.7L83.1,778.2L83.0,778.3L82.8,778.8L82.6,779.4L82.5,779.6L82.3,780.0L82.1,780.5L81.9,781.0L81.9,781.1L81.6,781.7L81.4,782.3L81.3,782.4L81.2,782.8L80.9,783.4L80.8,783.8L80.7,784.0L80.5,784.6L80.2,785.1L80.2,785.2L80.0,785.7L79.7,786.3L79.6,786.5L79.5,786.9L79.2,787.5L79.1,787.8L79.0,788.0L78.7,788.6L78.5,789.1L78.5,789.2L78.2,789.8L78.0,790.3L77.9,790.3L77.7,790.9L77.4,791.5L77.4,791.5L77.1,792.1L76.8,792.6L76.8,792.7L76.6,793.2L76.3,793.8L76.3,793.9L76.0,794.4L75.8,795.0L75.7,795.1L75.5,795.5L75.2,796.1L75.1,796.4L75.0,796.7L74.7,797.3L74.6,797.7L74.5,797.8L74.3,798.4L74.1,799.0L74.0,799.2L73.9,799.6L73.7,800.1L73.5,800.7L73.4,801.1L73.4,801.3L73.3,801.9L73.2,802.4L73.2,803.0L73.2,803.6L73.3,804.2L73.4,804.7L73.5,804.8L74.0,805.3Z" fill="rgb(204,204,204)" fill-rule="evenodd"/>
<path d="M77.3,800.1L77.4,800.3L78.0,800.4L78.5,800.3L79.0,800.1L79.1,800.1L79.6,799.8L80.0,799.6L80.2,799.5L80.8,799.1L80.9,799.0L81.3,798.7L81.7,798.4L81.9,798.2L82.4,797.8L82.5,797.8L83.0,797.3L83.1,797.3L83.6,796.9L83.9,796.7L84.2,796.4L84.6,796.1L84.7,796.0L85.3,795.6L85.4,795.5L85.9,795.2L86.2,795.0L86.4,794.8L87.0,794.4L87.0,794.4L87.5,794.0L87.9,793.8L88.1,793.7L88.7,793.3L88.9,793.2L89.2,793.0L89.8,792.7L89.9,792.6L90.4,792.4L90.9,792.1L91.0,792.1L91.5,791.8L92.1,791.5L92.2,791.5L92.6,791.3L93.2,791.0L93.3,790.9L93.8,790.7L94.3,790.4L94.4,790.3L94.9,790.1L95.4,789.8L95.4,789.7L96.0,789.4L96.4,789.2L96.6,789.1L97.1,788.7L97.3,788.6L97.7,788.3L98.1,788.0L98.3,787.9L98.8,787.5L98.9,787.5L99.4,787.1L99.7,786.9L100.0,786.7L100.4,786.3L100.5,786.2L101.1,785.7L101.1,785.7L101.7,785.2L101.7,785.1L102.2,784.7L102.4,784.6L102.8,784.2L103.0,784.0L103.3,783.6L103.5,783.4L103.9,783.0L104.1,782.8L104.5,782.4L104.6,782.3L105.0,781.8L105.2,781.7L105.6,781.2L105.7,781.1L106.2,780.5L106.2,780.5L106.6,780.0L106.7,779.8L107.1,779.4L107.3,779.1L107.5,778.8L107.9,778.4L108.0,778.2L108.4,777.7L108.4,777.6L108.8,777.1L109.0,776.8L109.2,776.5L109.6,776.0L109.6,775.9L110.0,775.3L110.1,775.1L110.3,774.8L110.7,774.2L110.7,774.1L111.0,773.6L111.2,773.1L111.3,773.0L111.6,772.5L111.8,772.1L111.9,771.9L112.2,771.3L112.4,771.0L112.5,770.7L112.7,770.2L112.9,769.7L113.0,769.6L113.2,769.0L113.5,768.4L113.5,768.3L113.7,767.8L113.9,767.3L114.1,766.7L114.1,766.7L114.2,766.1L114.4,765.5L114.6,765.0L114.6,764.6L114.7,764.4L114.8,763.8L114.9,763.2L115.0,762.7L115.0,762.1L115.1,761.5L115.1,760.9L115.1,760.4L115.0,759.8L115.0,759.2L114.8,758.6L114.7,758.0L114.6,757.8L114.5,757.5L114.2,756.9L114.1,756.6L113.9,756.3L113.5,755.9L113.4,755.7L112.9,755.3L112.7,755.2L112.4,754.9L111.8,754.7L111.6,754.6L111.2,754.5L110.7,754.3L110.1,754.3L109.6,754.2L109.0,754.3L108.4,754.3L107.9,754.4L107.3,754.5L107.1,754.6L106.7,754.7L106.2,754.8L105.6,755.0L105.3,755.2L105.0,755.3L104.5,755.5L104.0,755.7L103.9,755.8L103.3,756.1L102.9,756.3L102.8,756.4L102.2,756.7L101.9,756.9L101.7,757.1L101.1,757.4L101.1,757.5L100.5,757.8L100.2,758.0L100.0,758.2L99.5,758.6L99.4,758.7L98.8,759.1L98.7,759.2L98.3,759.6L98.0,759.8L97.7,760.1L97.4,760.4L97.1,760.6L96.8,760.9L96.6,761.1L96.1,761.5L96.0,761.6L95.6,762.1L95.4,762.2L95.0,762.7L94.9,762.8L94.5,763.2L94.3,763.4L93.9,763.8L93.8,764.0L93.4,764.4L93.2,764.7L92.9,765.0L92.6,765.3L92.5,765.5L92.1,766.1L92.0,766.1L91.6,766.7L91.5,766.8L91.1,767.3L90.9,767.5L90.7,767.8L90.4,768.3L90.3,768.4L89.9,769.0L89.8,769.1L89.5,769.6L89.2,770.0L89.1,770.2L88.8,770.7L88.7,770.9L88.4,771.3L88.1,771.9L88.1,771.9L87.8,772.5L87.5,772.8L87.4,773.0L87.1,773.6L87.0,773.9L86.8,774.2L86.5,774.8L86.4,775.0L86.2,775.3L86.0,775.9L85.9,776.2L85.7,776.5L85.4,777.1L85.3,777.4L85.2,777.7L84.9,778.2L84.7,778.7L84.7,778.8L84.4,779.4L84.2,780.0L84.2,780.1L84.0,780.5L83.8,781.1L83.6,781.5L83.5,781.7L83.3,782.3L83.1,782.8L83.0,783.0L82.9,783.4L82.6,784.0L82.5,784.4L82.4,784.6L82.2,785.1L82.0,785.7L81.9,785.8L81.7,786.3L81.5,786.9L81.3,787.2L81.2,787.5L81.0,788.0L80.8,788.6L80.8,788.6L80.5,789.2L80.3,789.8L80.2,789.9L80.0,790.3L79.7,790.9L79.6,791.1L79.5,791.5L79.2,792.1L79.1,792.4L79.0,792.6L78.7,793.2L78.5,793.7L78.5,793.8L78.2,794.4L78.0,795.0L78.0,795.1L77.8,795.5L77.6,796.1L77.4,796.6L77.4,796.7L77.2,797.3L77.1,797.8L77.0,798.4L76.9,799.0L77.0,799.6Z" fill="rgb(184,184,184)" fill-rule="evenodd"/>
<path d="M82.4,793.2L82.5,793.3L83.0,793.4L83.6,793.3L83.9,793.2L84.2,793.1L84.7,792.9L85.2,792.6L85.3,792.6L85.9,792.3L86.4,792.1L86.4,792.1L87.0,791.8L87.5,791.5L87.6,791.5L88.1,791.2L88.7,791.0L88.8,790.9L89.2,790.7L89.8,790.4L90.0,790.3L90.4,790.2L90.9,789.9L91.3,789.8L91.5,789.7L92.1,789.4L92.6,789.2L92.6,789.2L93.2,788.9L93.8,788.6L93.8,788.6L94.3,788.4L94.9,788.1L94.9,788.0L95.4,787.8L96.0,787.5L96.0,787.4L96.6,787.1L96.9,786.9L97.1,786.7L97.7,786.4L97.8,786.3L98.3,786.0L98.6,785.7L98.8,785.6L99.4,785.2L99.4,785.1L100.0,784.7L100.1,784.6L100.5,784.2L100.8,784.0L101.1,783.8L101.5,783.4L101.7,783.3L102.1,782.8L102.2,782.7L102.7,782.3L102.8,782.2L103.3,781.7L103.3,781.6L103.8,781.1L103.9,781.0L104.3,780.5L104.5,780.4L104.9,780.0L105.0,779.7L105.3,779.4L105.6,779.1L105.8,778.8L106.2,778.4L106.3,778.2L106.7,777.7L106.7,777.6L107.1,777.1L107.3,776.8L107.5,776.5L107.9,776.0L107.9,775.9L108.3,775.3L108.4,775.2L108.7,774.8L109.0,774.3L109.0,774.2L109.4,773.6L109.6,773.3L109.7,773.0L110.0,772.5L110.1,772.2L110.3,771.9L110.6,771.3L110.7,771.1L110.9,770.7L111.1,770.2L111.2,769.8L111.4,769.6L111.6,769.0L111.8,768.4L111.8,768.4L112.0,767.8L112.2,767.3L112.3,766.7L112.4,766.6L112.5,766.1L112.6,765.5L112.7,765.0L112.8,764.4L112.9,763.8L112.9,763.4L113.0,763.2L113.0,762.7L113.0,762.1L112.9,761.6L112.9,761.5L112.9,760.9L112.7,760.4L112.6,759.8L112.4,759.3L112.3,759.2L112.0,758.6L111.8,758.4L111.5,758.0L111.2,757.8L110.8,757.5L110.7,757.4L110.1,757.1L109.6,756.9L109.5,756.9L109.0,756.8L108.4,756.8L107.9,756.8L107.3,756.8L106.7,756.9L106.7,756.9L106.2,757.0L105.6,757.2L105.0,757.3L104.7,757.5L104.5,757.6L103.9,757.8L103.4,758.0L103.3,758.1L102.8,758.4L102.3,758.6L102.2,758.7L101.7,759.0L101.4,759.2L101.1,759.4L100.5,759.8L100.5,759.8L100.0,760.2L99.7,760.4L99.4,760.6L99.0,760.9L98.8,761.0L98.3,761.5L98.3,761.5L97.7,762.0L97.6,762.1L97.1,762.5L97.0,762.7L96.6,763.1L96.4,763.2L96.0,763.6L95.8,763.8L95.4,764.2L95.3,764.4L94.9,764.8L94.7,765.0L94.3,765.5L94.2,765.5L93.8,766.1L93.8,766.1L93.3,766.7L93.2,766.8L92.8,767.3L92.6,767.5L92.4,767.8L92.1,768.3L92.0,768.4L91.5,769.0L91.5,769.1L91.2,769.6L90.9,769.9L90.8,770.2L90.4,770.7L90.4,770.8L90.0,771.3L89.8,771.7L89.7,771.9L89.4,772.5L89.2,772.7L89.0,773.0L88.7,773.6L88.7,773.7L88.4,774.2L88.1,774.8L88.1,774.8L87.8,775.3L87.6,775.9L87.5,776.0L87.3,776.5L87.0,777.1L87.0,777.2L86.8,777.7L86.6,778.2L86.4,778.6L86.3,778.8L86.1,779.4L85.9,780.0L85.9,780.0L85.7,780.5L85.5,781.1L85.3,781.6L85.2,781.7L85.0,782.3L84.8,782.8L84.7,783.2L84.6,783.4L84.5,784.0L84.3,784.6L84.2,784.9L84.1,785.1L83.9,785.7L83.7,786.3L83.6,786.6L83.5,786.9L83.3,787.5L83.1,788.0L83.0,788.4L83.0,788.6L82.8,789.2L82.6,789.8L82.5,790.3L82.5,790.3L82.3,790.9L82.2,791.5L82.1,792.1L82.2,792.6Z" fill="rgb(162,162,162)" fill-rule="evenodd"/>
<path d="M86.9,788.0L87.0,788.1L87.5,788.3L88.1,788.3L88.7,788.3L89.2,788.2L89.8,788.0L89.8,788.0L90.4,787.9L90.9,787.7L91.5,787.5L91.8,787.5L92.1,787.4L92.6,787.1L93.2,786.9L93.3,786.9L93.8,786.7L94.3,786.4L94.6,786.3L94.9,786.2L95.4,785.9L95.8,785.7L96.0,785.6L96.6,785.3L96.8,785.1L97.1,784.9L97.7,784.6L97.7,784.6L98.3,784.2L98.6,784.0L98.8,783.8L99.3,783.4L99.4,783.4L100.0,782.9L100.1,782.8L100.5,782.5L100.7,782.3L101.1,782.0L101.4,781.7L101.7,781.4L102.0,781.1L102.2,780.9L102.6,780.5L102.8,780.3L103.1,780.0L103.3,779.7L103.7,779.4L103.9,779.1L104.2,778.8L104.5,778.5L104.7,778.2L105.0,777.8L105.1,777.7L105.6,777.1L105.6,777.0L106.0,776.5L106.2,776.3L106.4,775.9L106.7,775.4L106.8,775.3L107.2,774.8L107.3,774.6L107.5,774.2L107.9,773.6L107.9,773.6L108.2,773.0L108.4,772.6L108.5,772.5L108.8,771.9L109.0,771.5L109.1,771.3L109.3,770.7L109.6,770.2L109.6,770.2L109.8,769.6L110.0,769.0L110.1,768.8L110.2,768.4L110.4,767.8L110.6,767.3L110.7,766.8L110.7,766.7L110.8,766.1L110.9,765.5L111.0,765.0L111.0,764.4L111.0,763.8L111.0,763.2L110.9,762.7L110.8,762.1L110.7,761.7L110.6,761.5L110.3,760.9L110.1,760.6L109.9,760.4L109.6,760.0L109.3,759.8L109.0,759.6L108.4,759.3L108.0,759.2L107.9,759.2L107.3,759.1L106.7,759.1L106.2,759.1L105.6,759.2L105.6,759.2L105.0,759.3L104.5,759.5L103.9,759.7L103.8,759.8L103.3,759.9L102.8,760.2L102.5,760.4L102.2,760.5L101.7,760.8L101.5,760.9L101.1,761.2L100.6,761.5L100.5,761.6L100.0,762.0L99.8,762.1L99.4,762.4L99.0,762.7L98.8,762.8L98.4,763.2L98.3,763.3L97.7,763.8L97.7,763.8L97.1,764.3L97.1,764.4L96.6,764.9L96.5,765.0L96.0,765.5L96.0,765.5L95.4,766.1L95.4,766.1L94.9,766.7L94.9,766.7L94.4,767.3L94.3,767.4L94.0,767.8L93.8,768.1L93.5,768.4L93.2,768.9L93.1,769.0L92.7,769.6L92.6,769.7L92.3,770.2L92.1,770.5L91.9,770.7L91.5,771.3L91.5,771.4L91.2,771.9L90.9,772.3L90.8,772.5L90.5,773.0L90.4,773.3L90.2,773.6L89.9,774.2L89.8,774.4L89.6,774.8L89.3,775.3L89.2,775.6L89.1,775.9L88.8,776.5L88.7,776.8L88.6,777.1L88.3,777.7L88.1,778.2L88.1,778.2L87.9,778.8L87.7,779.4L87.5,779.8L87.5,780.0L87.3,780.5L87.1,781.1L87.0,781.7L87.0,781.7L86.8,782.3L86.7,782.8L86.5,783.4L86.4,784.0L86.4,784.0L86.3,784.6L86.2,785.1L86.2,785.7L86.2,786.3L86.2,786.9L86.4,787.5L86.4,787.5Z" fill="rgb(138,138,138)" fill-rule="evenodd"/>
<path d="M89.6,784.6L89.8,784.8L90.4,785.0L90.9,785.1L91.5,785.1L92.1,785.1L92.6,785.0L93.2,784.8L93.8,784.7L94.1,784.6L94.3,784.5L94.9,784.3L95.4,784.0L95.5,784.0L96.0,783.8L96.6,783.5L96.7,783.4L97.1,783.2L97.7,782.8L97.7,782.8L98.3,782.4L98.5,782.3L98.8,782.0L99.3,781.7L99.4,781.6L100.0,781.2L100.0,781.1L100.5,780.7L100.7,780.5L101.1,780.2L101.3,780.0L101.7,779.7L101.9,779.4L102.2,779.1L102.5,778.8L102.8,778.5L103.0,778.2L103.3,777.9L103.5,777.7L103.9,777.2L104.0,777.1L104.4,776.5L104.5,776.5L104.9,775.9L105.0,775.7L105.3,775.3L105.6,774.9L105.7,774.8L106.0,774.2L106.2,774.0L106.4,773.6L106.7,773.0L106.7,773.0L107.0,772.5L107.3,771.9L107.3,771.9L107.6,771.3L107.9,770.7L107.9,770.7L108.1,770.2L108.3,769.6L108.4,769.2L108.5,769.0L108.7,768.4L108.8,767.8L108.9,767.3L109.0,766.9L109.0,766.7L109.1,766.1L109.1,765.5L109.1,765.0L109.0,764.4L109.0,764.2L108.9,763.8L108.7,763.2L108.4,762.7L108.4,762.7L107.9,762.1L107.9,762.1L107.3,761.7L106.8,761.5L106.7,761.5L106.2,761.4L105.6,761.4L105.0,761.4L104.5,761.5L104.4,761.5L103.9,761.6L103.3,761.8L102.8,762.1L102.7,762.1L102.2,762.3L101.7,762.6L101.6,762.7L101.1,763.0L100.6,763.2L100.5,763.3L100.0,763.7L99.8,763.8L99.4,764.1L99.1,764.4L98.8,764.6L98.4,765.0L98.3,765.1L97.8,765.5L97.7,765.6L97.2,766.1L97.1,766.1L96.6,766.7L96.6,766.7L96.1,767.3L96.0,767.3L95.6,767.8L95.4,768.0L95.1,768.4L94.9,768.7L94.6,769.0L94.3,769.4L94.2,769.6L93.8,770.2L93.8,770.2L93.4,770.7L93.2,771.0L93.0,771.3L92.6,771.9L92.6,771.9L92.3,772.5L92.1,772.9L92.0,773.0L91.7,773.6L91.5,773.9L91.4,774.2L91.1,774.8L90.9,775.1L90.8,775.3L90.6,775.9L90.4,776.4L90.3,776.5L90.1,777.1L89.9,777.7L89.8,777.9L89.7,778.2L89.5,778.8L89.4,779.4L89.2,779.9L89.2,780.0L89.1,780.5L89.0,781.1L88.9,781.7L88.9,782.3L88.9,782.8L89.0,783.4L89.2,784.0L89.2,784.1Z" fill="rgb(108,108,108)" fill-rule="evenodd"/>
<path d="M93.0,782.3L93.2,782.3L93.8,782.3L94.3,782.3L94.3,782.3L94.9,782.1L95.4,782.0L96.0,781.8L96.2,781.7L96.6,781.5L97.1,781.3L97.4,781.1L97.7,780.9L98.3,780.6L98.3,780.5L98.8,780.2L99.2,780.0L99.4,779.8L99.9,779.4L100.0,779.3L100.5,778.8L100.6,778.8L101.1,778.3L101.2,778.2L101.7,777.8L101.7,777.7L102.2,777.1L102.3,777.1L102.8,776.5L102.8,776.5L103.2,775.9L103.3,775.8L103.7,775.3L103.9,775.0L104.1,774.8L104.5,774.2L104.5,774.2L104.8,773.6L105.0,773.3L105.2,773.0L105.5,772.5L105.6,772.2L105.8,771.9L106.0,771.3L106.2,771.0L106.3,770.7L106.5,770.2L106.7,769.6L106.7,769.3L106.8,769.0L106.9,768.4L107.0,767.8L107.1,767.3L107.1,766.7L107.0,766.1L106.9,765.5L106.7,765.2L106.6,765.0L106.2,764.4L106.2,764.4L105.6,764.0L105.0,763.8L104.9,763.8L104.5,763.8L103.9,763.8L103.8,763.8L103.3,763.9L102.8,764.1L102.2,764.3L102.0,764.4L101.7,764.5L101.1,764.8L100.9,765.0L100.5,765.2L100.0,765.5L100.0,765.6L99.4,766.0L99.2,766.1L98.8,766.4L98.5,766.7L98.3,766.9L97.9,767.3L97.7,767.5L97.3,767.8L97.1,768.1L96.8,768.4L96.6,768.7L96.3,769.0L96.0,769.4L95.8,769.6L95.4,770.1L95.4,770.2L95.0,770.7L94.9,770.9L94.6,771.3L94.3,771.7L94.2,771.9L93.9,772.5L93.8,772.6L93.5,773.0L93.2,773.6L93.2,773.7L92.9,774.2L92.7,774.8L92.6,774.8L92.4,775.3L92.2,775.9L92.1,776.3L92.0,776.5L91.8,777.1L91.6,777.7L91.5,778.2L91.5,778.3L91.4,778.8L91.4,779.4L91.4,780.0L91.4,780.5L91.5,780.9L91.6,781.1L91.9,781.7L92.1,781.8L92.6,782.2Z" fill="rgb(72,72,72)" fill-rule="evenodd"/>
<path d="M94.5,778.8L94.9,779.1L95.4,779.2L96.0,779.2L96.6,779.1L97.1,778.9L97.4,778.8L97.7,778.7L98.3,778.4L98.5,778.2L98.8,778.0L99.4,777.7L99.4,777.6L100.0,777.2L100.1,777.1L100.5,776.6L100.7,776.5L101.1,776.1L101.2,775.9L101.7,775.4L101.7,775.3L102.2,774.8L102.2,774.7L102.6,774.2L102.8,773.9L103.0,773.6L103.3,773.0L103.3,773.0L103.6,772.5L103.9,771.9L103.9,771.9L104.2,771.3L104.4,770.7L104.5,770.3L104.5,770.2L104.6,769.6L104.7,769.0L104.7,768.4L104.6,767.8L104.5,767.6L104.3,767.3L103.9,766.9L103.4,766.7L103.3,766.7L102.8,766.6L102.2,766.7L102.2,766.7L101.7,766.8L101.1,767.1L100.7,767.3L100.5,767.4L100.0,767.7L99.8,767.8L99.4,768.2L99.1,768.4L98.8,768.6L98.4,769.0L98.3,769.2L97.9,769.6L97.7,769.7L97.3,770.2L97.1,770.4L96.9,770.7L96.6,771.1L96.4,771.3L96.0,771.9L96.0,771.9L95.7,772.5L95.4,772.9L95.3,773.0L95.1,773.6L94.9,774.0L94.8,774.2L94.5,774.8L94.3,775.3L94.3,775.4L94.2,775.9L94.1,776.5L94.0,777.1L94.0,777.7L94.1,778.2L94.3,778.6Z" fill="rgb(22,22,22)" fill-rule="evenodd"/>
</g>
<line x1="38.50" y1="672.60" x2="38.50" y2="837.00" stroke="#c8c8c8" stroke-width="1.1"/>
<line x1="38.50" y1="837.00" x2="198.30" y2="837.00" stroke="#c8c8c8" stroke-width="1.1"/>
<text x="34.60" y="840.00" font-size="8.93" text-anchor="end" fill="#000" textLength="5.41" lengthAdjust="spacingAndGlyphs" stroke="#000" stroke-width="0.3">0</text>
<text x="34.60" y="816.70" font-size="8.93" text-anchor="end" fill="#000" textLength="10.82" lengthAdjust="spacingAndGlyphs" stroke="#000" stroke-width="0.3">10</text>
<text x="34.60" y="793.40" font-size="8.93" text-anchor="end" fill="#000" textLength="10.82" lengthAdjust="spacingAndGlyphs" stroke="#000" stroke-width="0.3">20</text>
<text x="34.60" y="770.10" font-size="8.93" text-anchor="end" fill="#000" textLength="10.82" lengthAdjust="spacingAndGlyphs" stroke="#000" stroke-width="0.3">30</text>
<text x="34.60" y="746.80" font-size="8.93" text-anchor="end" fill="#000" textLength="10.82" lengthAdjust="spacingAndGlyphs" stroke="#000" stroke-width="0.3">40</text>
<text x="34.60" y="723.50" font-size="8.93" text-anchor="end" fill="#000" textLength="10.82" lengthAdjust="spacingAndGlyphs" stroke="#000" stroke-width="0.3">50</text>
<text x="34.60" y="700.20" font-size="8.93" text-anchor="end" fill="#000" textLength="10.82" lengthAdjust="spacingAndGlyphs" stroke="#000" stroke-width="0.3">60</text>
<text x="34.60" y="676.90" font-size="8.93" text-anchor="end" fill="#000" textLength="10.82" lengthAdjust="spacingAndGlyphs" stroke="#000" stroke-width="0.3">70</text>
<text x="38.50" y="846.90" font-size="8.93" text-anchor="middle" fill="#000" textLength="5.41" lengthAdjust="spacingAndGlyphs" stroke="#000" stroke-width="0.3">0</text>
<text x="84.10" y="846.90" font-size="8.93" text-anchor="middle" fill="#000" textLength="10.82" lengthAdjust="spacingAndGlyphs" stroke="#000" stroke-width="0.3">20</text>
<text x="129.70" y="846.90" font-size="8.93" text-anchor="middle" fill="#000" textLength="10.82" lengthAdjust="spacingAndGlyphs" stroke="#000" stroke-width="0.3">40</text>
<text x="175.30" y="846.90" font-size="8.93" text-anchor="middle" fill="#000" textLength="10.82" lengthAdjust="spacingAndGlyphs" stroke="#000" stroke-width="0.3">60</text>
<text x="116.80" y="858.40" font-size="10.40" text-anchor="middle" fill="#000" textLength="23.77" lengthAdjust="spacingAndGlyphs" stroke="#000" stroke-width="0.3">Birth</text>
<text x="119.80" y="868.00" font-size="10.50" text-anchor="middle" fill="#000" textLength="104.09" lengthAdjust="spacingAndGlyphs" stroke="#000" stroke-width="0.3">[radial distance, µm]</text>
<clipPath id="cg244"><rect x="244.7" y="660" width="170" height="177.0"/></clipPath><g clip-path="url(#cg244)">
<path d="M253.0,831.9L253.1,831.9L253.7,832.1L254.2,832.3L254.8,832.4L255.4,832.4L255.9,832.4L256.5,832.3L257.1,832.3L257.6,832.2L258.2,832.0L258.8,831.9L258.8,831.9L259.3,831.7L259.9,831.5L260.5,831.3L260.6,831.3L261.0,831.1L261.6,830.9L262.0,830.7L262.1,830.7L262.7,830.4L263.3,830.1L263.3,830.1L263.8,829.9L264.4,829.6L264.5,829.6L265.0,829.3L265.5,829.0L265.5,829.0L266.1,828.7L266.6,828.4L266.7,828.3L267.2,828.0L267.5,827.8L267.8,827.7L268.4,827.3L268.5,827.2L268.9,827.0L269.4,826.7L269.5,826.6L270.0,826.2L270.3,826.1L270.6,825.9L271.1,825.5L271.2,825.5L271.7,825.1L272.0,824.9L272.3,824.7L272.8,824.4L272.9,824.3L273.4,823.9L273.6,823.8L274.0,823.5L274.3,823.2L274.6,823.0L275.1,822.6L275.1,822.6L275.7,822.2L275.8,822.1L276.3,821.7L276.6,821.5L276.8,821.3L277.3,820.9L277.4,820.8L277.9,820.4L278.0,820.3L278.5,819.9L278.7,819.7L279.1,819.4L279.4,819.2L279.6,819.0L280.1,818.6L280.2,818.5L280.7,818.0L280.8,818.0L281.3,817.5L281.4,817.4L281.9,817.0L282.1,816.9L282.5,816.5L282.7,816.3L283.0,816.0L283.3,815.7L283.6,815.5L284.0,815.1L284.2,815.0L284.6,814.6L284.7,814.4L285.2,814.0L285.3,813.9L285.8,813.4L285.8,813.3L286.4,812.8L286.4,812.8L287.0,812.3L287.0,812.2L287.5,811.7L287.6,811.7L288.1,811.1L288.1,811.1L288.7,810.5L288.7,810.5L289.2,810.0L289.3,809.9L289.8,809.4L289.8,809.4L290.4,808.8L290.4,808.8L290.9,808.2L290.9,808.2L291.4,807.6L291.5,807.6L292.0,807.1L292.1,807.0L292.5,806.5L292.6,806.4L293.0,805.9L293.2,805.7L293.5,805.3L293.7,805.1L294.1,804.8L294.3,804.5L294.6,804.2L294.9,803.8L295.1,803.6L295.4,803.2L295.6,803.0L296.0,802.5L296.0,802.4L296.5,801.9L296.6,801.8L297.0,801.3L297.1,801.1L297.5,800.7L297.7,800.4L297.9,800.1L298.3,799.7L298.4,799.6L298.8,799.0L298.8,799.0L299.3,798.4L299.4,798.3L299.7,797.8L300.0,797.5L300.2,797.3L300.5,796.8L300.6,796.7L301.0,796.1L301.1,796.0L301.4,795.5L301.6,795.2L301.9,795.0L302.2,794.5L302.3,794.4L302.7,793.8L302.8,793.7L303.1,793.2L303.3,792.8L303.5,792.6L303.9,792.1L303.9,792.0L304.2,791.5L304.5,791.1L304.6,790.9L305.0,790.3L305.0,790.3L305.4,789.8L305.6,789.4L305.7,789.2L306.1,788.6L306.2,788.5L306.5,788.0L306.7,787.6L306.8,787.5L307.2,786.9L307.3,786.7L307.5,786.3L307.9,785.7L307.9,785.7L308.2,785.1L308.4,784.8L308.6,784.6L308.9,784.0L309.0,783.9L309.3,783.4L309.5,783.0L309.6,782.8L310.0,782.3L310.1,782.1L310.4,781.7L310.7,781.2L310.8,781.1L311.2,780.5L311.2,780.4L311.6,780.0L311.8,779.6L312.0,779.4L312.4,778.8L312.4,778.8L312.8,778.2L312.9,778.1L313.3,777.7L313.5,777.4L313.7,777.1L314.1,776.7L314.2,776.5L314.6,776.1L314.7,775.9L315.2,775.4L315.3,775.3L315.8,774.9L315.8,774.8L316.3,774.3L316.4,774.2L316.9,773.8L317.0,773.6L317.4,773.2L317.7,773.0L318.0,772.7L318.3,772.5L318.6,772.3L319.0,771.9L319.1,771.8L319.7,771.4L319.8,771.3L320.3,770.9L320.6,770.7L320.8,770.5L321.4,770.2L321.4,770.1L322.0,769.8L322.2,769.6L322.5,769.4L323.1,769.0L323.1,769.0L323.7,768.6L324.0,768.4L324.2,768.3L324.8,767.9L324.9,767.8L325.3,767.6L325.9,767.3L325.9,767.2L326.5,766.9L326.8,766.7L327.0,766.6L327.6,766.2L327.8,766.1L328.2,765.9L328.7,765.5L328.7,765.5L329.3,765.2L329.6,765.0L329.9,764.8L330.4,764.5L330.6,764.4L331.0,764.1L331.5,763.8L331.6,763.8L332.1,763.4L332.4,763.2L332.7,763.0L333.2,762.7L333.2,762.6L333.8,762.3L334.1,762.1L334.4,761.9L334.9,761.5L334.9,761.5L335.5,761.1L335.8,760.9L336.1,760.7L336.6,760.4L336.6,760.3L337.2,759.9L337.4,759.8L337.8,759.5L338.2,759.2L338.3,759.1L338.9,758.7L338.9,758.6L339.5,758.2L339.7,758.0L340.0,757.8L340.5,757.5L340.6,757.4L341.1,756.9L341.2,756.9L341.7,756.5L341.9,756.3L342.3,756.0L342.6,755.7L342.8,755.6L343.3,755.2L343.4,755.1L344.0,754.6L344.0,754.6L344.5,754.2L344.7,754.0L345.1,753.7L345.4,753.4L345.7,753.2L346.1,752.9L346.2,752.7L346.7,752.3L346.8,752.2L347.4,751.7L347.4,751.7L347.9,751.2L348.0,751.1L348.5,750.7L348.7,750.5L349.0,750.2L349.3,750.0L349.6,749.7L349.9,749.4L350.2,749.2L350.6,748.8L350.7,748.6L351.2,748.2L351.3,748.1L351.8,747.7L351.9,747.6L352.4,747.1L352.4,747.0L353.0,746.5L353.0,746.5L353.5,745.9L353.6,745.9L354.1,745.4L354.1,745.4L354.7,744.8L354.7,744.8L355.3,744.2L355.3,744.2L355.8,743.6L355.8,743.6L356.4,743.1L356.4,743.0L356.9,742.5L356.9,742.5L357.5,741.9L357.5,741.9L358.0,741.3L358.1,741.3L358.5,740.7L358.6,740.6L359.1,740.2L359.2,740.0L359.6,739.6L359.8,739.4L360.1,739.0L360.3,738.8L360.6,738.4L360.9,738.1L361.1,737.9L361.5,737.5L361.6,737.3L362.0,736.8L362.1,736.7L362.6,736.2L362.6,736.1L363.1,735.6L363.2,735.5L363.6,735.0L363.7,734.8L364.1,734.4L364.3,734.1L364.5,733.8L364.8,733.4L365.0,733.2L365.4,732.7L365.5,732.7L365.9,732.1L366.0,732.0L366.4,731.5L366.5,731.3L366.8,730.9L367.1,730.6L367.3,730.4L367.7,729.8L367.7,729.8L368.1,729.2L368.2,729.1L368.6,728.6L368.8,728.3L369.0,728.1L369.4,727.5L369.4,727.5L369.8,726.9L369.9,726.7L370.2,726.3L370.5,725.9L370.6,725.8L371.0,725.2L371.1,725.1L371.4,724.6L371.6,724.2L371.8,724.0L372.1,723.4L372.2,723.4L372.5,722.9L372.7,722.5L372.9,722.3L373.2,721.7L373.3,721.6L373.6,721.1L373.9,720.6L373.9,720.6L374.3,720.0L374.4,719.7L374.6,719.4L374.9,718.8L375.0,718.7L375.3,718.3L375.6,717.7L375.6,717.7L375.9,717.1L376.1,716.6L376.2,716.5L376.5,715.9L376.7,715.5L376.7,715.4L377.0,714.8L377.3,714.3L377.3,714.2L377.5,713.6L377.8,713.1L377.8,713.0L378.0,712.5L378.3,711.9L378.4,711.6L378.5,711.3L378.7,710.8L378.9,710.2L379.0,710.0L379.1,709.6L379.3,709.0L379.4,708.5L379.5,708.0L379.6,707.9L379.7,707.3L379.8,706.7L379.9,706.1L380.0,705.6L380.0,705.0L380.1,704.4L380.1,703.8L380.0,703.3L380.0,702.7L379.9,702.1L379.7,701.5L379.5,701.0L379.5,701.0L379.2,700.4L379.0,700.0L378.8,699.8L378.4,699.4L378.2,699.2L377.8,698.9L377.4,698.6L377.3,698.6L376.7,698.4L376.1,698.2L375.6,698.1L375.5,698.1L375.0,698.0L374.4,698.0L373.9,698.0L373.3,698.0L372.7,698.0L372.5,698.1L372.2,698.1L371.6,698.2L371.1,698.3L370.5,698.4L369.9,698.6L369.8,698.6L369.4,698.8L368.8,698.9L368.2,699.1L367.9,699.2L367.7,699.3L367.1,699.5L366.5,699.8L366.4,699.8L366.0,700.0L365.4,700.2L365.1,700.4L364.8,700.5L364.3,700.7L363.9,701.0L363.7,701.0L363.2,701.3L362.7,701.5L362.6,701.6L362.0,701.9L361.6,702.1L361.5,702.2L360.9,702.5L360.6,702.7L360.3,702.8L359.8,703.1L359.6,703.3L359.2,703.5L358.6,703.8L358.6,703.8L358.1,704.2L357.7,704.4L357.5,704.5L356.9,704.9L356.8,705.0L356.4,705.2L355.9,705.6L355.8,705.6L355.3,706.0L355.0,706.1L354.7,706.4L354.2,706.7L354.1,706.8L353.6,707.2L353.4,707.3L353.0,707.6L352.6,707.9L352.4,708.0L351.9,708.4L351.8,708.5L351.3,708.8L351.0,709.0L350.7,709.2L350.2,709.6L350.2,709.6L349.6,710.1L349.5,710.2L349.0,710.5L348.7,710.8L348.5,711.0L348.0,711.3L347.9,711.4L347.4,711.9L347.3,711.9L346.8,712.3L346.6,712.5L346.2,712.8L345.9,713.1L345.7,713.3L345.2,713.6L345.1,713.7L344.5,714.2L344.5,714.2L344.0,714.7L343.9,714.8L343.4,715.2L343.2,715.4L342.8,715.7L342.5,715.9L342.3,716.2L341.9,716.5L341.7,716.7L341.3,717.1L341.1,717.2L340.6,717.7L340.6,717.7L340.0,718.3L340.0,718.3L339.5,718.8L339.4,718.8L338.9,719.3L338.8,719.4L338.3,719.8L338.2,720.0L337.8,720.4L337.6,720.6L337.2,720.9L337.0,721.1L336.6,721.5L336.4,721.7L336.1,722.1L335.8,722.3L335.5,722.6L335.3,722.9L334.9,723.2L334.7,723.4L334.4,723.8L334.1,724.0L333.8,724.4L333.6,724.6L333.2,724.9L333.0,725.2L332.7,725.5L332.5,725.8L332.1,726.1L331.9,726.3L331.6,726.8L331.4,726.9L331.0,727.4L330.9,727.5L330.4,728.0L330.4,728.1L329.9,728.6L329.9,728.6L329.3,729.2L329.3,729.3L328.8,729.8L328.7,729.9L328.3,730.4L328.2,730.6L327.8,730.9L327.6,731.2L327.3,731.5L327.0,731.9L326.9,732.1L326.5,732.6L326.4,732.7L325.9,733.2L325.9,733.2L325.4,733.8L325.3,733.9L325.0,734.4L324.8,734.6L324.5,735.0L324.2,735.3L324.0,735.6L323.7,736.1L323.6,736.1L323.2,736.7L323.1,736.8L322.7,737.3L322.5,737.5L322.3,737.9L322.0,738.3L321.8,738.4L321.4,739.0L321.4,739.1L321.0,739.6L320.8,739.8L320.6,740.2L320.3,740.6L320.2,740.7L319.8,741.3L319.7,741.4L319.4,741.9L319.1,742.2L319.0,742.5L318.6,743.1L318.6,743.1L318.2,743.6L318.0,743.9L317.8,744.2L317.5,744.8L317.4,744.8L317.1,745.4L316.9,745.7L316.7,745.9L316.4,746.5L316.3,746.6L316.0,747.1L315.8,747.5L315.7,747.7L315.3,748.2L315.2,748.5L315.0,748.8L314.7,749.4L314.6,749.5L314.3,750.0L314.1,750.5L314.0,750.5L313.7,751.1L313.5,751.5L313.4,751.7L313.1,752.3L312.9,752.6L312.8,752.9L312.5,753.4L312.4,753.6L312.2,754.0L311.9,754.6L311.8,754.7L311.6,755.2L311.3,755.7L311.2,755.8L311.0,756.3L310.7,756.9L310.7,756.9L310.4,757.5L310.1,757.9L310.0,758.0L309.7,758.6L309.5,759.0L309.4,759.2L309.1,759.8L309.0,759.9L308.7,760.4L308.4,760.9L308.4,760.9L308.0,761.5L307.9,761.8L307.7,762.1L307.3,762.7L307.3,762.7L306.9,763.2L306.7,763.5L306.5,763.8L306.2,764.2L306.0,764.4L305.6,765.0L305.6,765.0L305.1,765.5L305.0,765.7L304.7,766.1L304.5,766.3L304.2,766.7L303.9,767.0L303.7,767.3L303.3,767.6L303.1,767.8L302.8,768.2L302.6,768.4L302.2,768.8L302.0,769.0L301.6,769.3L301.4,769.6L301.1,769.9L300.8,770.2L300.5,770.4L300.2,770.7L300.0,770.9L299.5,771.3L299.4,771.4L298.8,771.9L298.8,771.9L298.3,772.4L298.1,772.5L297.7,772.8L297.4,773.0L297.1,773.3L296.7,773.6L296.6,773.7L296.0,774.2L296.0,774.2L295.4,774.6L295.2,774.8L294.9,775.0L294.4,775.3L294.3,775.4L293.7,775.9L293.7,775.9L293.2,776.3L292.9,776.5L292.6,776.7L292.1,777.1L292.1,777.1L291.5,777.5L291.3,777.7L290.9,777.9L290.5,778.2L290.4,778.4L289.8,778.8L289.8,778.8L289.2,779.2L289.0,779.4L288.7,779.6L288.2,780.0L288.1,780.0L287.5,780.5L287.5,780.5L287.0,780.9L286.7,781.1L286.4,781.4L286.0,781.7L285.8,781.8L285.3,782.3L285.3,782.3L284.7,782.7L284.5,782.8L284.2,783.2L283.8,783.4L283.6,783.6L283.1,784.0L283.0,784.1L282.5,784.6L282.5,784.6L281.9,785.0L281.8,785.1L281.3,785.5L281.1,785.7L280.8,786.0L280.4,786.3L280.2,786.5L279.8,786.9L279.6,787.0L279.1,787.5L279.1,787.5L278.5,788.0L278.5,788.0L277.9,788.5L277.9,788.6L277.4,789.1L277.3,789.2L276.8,789.6L276.6,789.8L276.3,790.1L276.0,790.3L275.7,790.7L275.4,790.9L275.1,791.2L274.8,791.5L274.6,791.8L274.3,792.1L274.0,792.3L273.7,792.6L273.4,792.9L273.1,793.2L272.9,793.5L272.5,793.8L272.3,794.0L272.0,794.4L271.7,794.6L271.4,795.0L271.2,795.2L270.9,795.5L270.6,795.8L270.3,796.1L270.0,796.4L269.8,796.7L269.5,797.0L269.3,797.3L268.9,797.6L268.7,797.8L268.4,798.3L268.2,798.4L267.8,798.9L267.7,799.0L267.2,799.5L267.2,799.6L266.7,800.1L266.7,800.2L266.2,800.7L266.1,800.8L265.7,801.3L265.5,801.5L265.2,801.9L265.0,802.2L264.7,802.4L264.4,802.9L264.3,803.0L263.8,803.6L263.8,803.6L263.4,804.2L263.3,804.3L262.9,804.8L262.7,805.0L262.4,805.3L262.1,805.7L262.0,805.9L261.6,806.5L261.6,806.5L261.1,807.1L261.0,807.2L260.7,807.6L260.5,808.0L260.3,808.2L259.9,808.8L259.9,808.8L259.5,809.4L259.3,809.6L259.1,809.9L258.8,810.4L258.7,810.5L258.3,811.1L258.2,811.2L257.9,811.7L257.6,812.1L257.5,812.3L257.1,812.8L257.1,812.9L256.8,813.4L256.5,813.8L256.4,814.0L256.1,814.6L255.9,814.8L255.7,815.1L255.4,815.7L255.4,815.8L255.1,816.3L254.8,816.8L254.8,816.9L254.4,817.4L254.2,817.8L254.1,818.0L253.9,818.6L253.7,818.9L253.6,819.2L253.3,819.7L253.1,820.2L253.0,820.3L252.8,820.9L252.6,821.5L252.6,821.5L252.3,822.1L252.1,822.6L252.0,823.0L251.9,823.2L251.7,823.8L251.6,824.4L251.4,824.9L251.4,824.9L251.3,825.5L251.2,826.1L251.1,826.7L251.1,827.2L251.0,827.8L251.1,828.4L251.1,829.0L251.2,829.6L251.4,830.1L251.4,830.1L251.8,830.7L252.0,831.0L252.2,831.3L252.6,831.6Z" fill="rgb(236,236,236)" fill-rule="evenodd"/>
<path d="M263.3,821.5L263.8,821.6L264.4,821.6L265.0,821.6L265.5,821.5L265.8,821.5L266.1,821.4L266.7,821.3L267.2,821.1L267.8,820.9L267.8,820.9L268.4,820.7L268.9,820.4L269.1,820.3L269.5,820.2L270.0,819.9L270.3,819.7L270.6,819.6L271.2,819.3L271.4,819.2L271.7,819.0L272.3,818.6L272.4,818.6L272.9,818.3L273.3,818.0L273.4,817.9L274.0,817.6L274.2,817.4L274.6,817.2L275.0,816.9L275.1,816.8L275.7,816.4L275.8,816.3L276.3,816.0L276.6,815.7L276.8,815.5L277.4,815.1L277.4,815.1L277.9,814.7L278.1,814.6L278.5,814.2L278.8,814.0L279.1,813.8L279.5,813.4L279.6,813.3L280.2,812.8L280.2,812.8L280.8,812.3L280.9,812.3L281.3,811.8L281.5,811.7L281.9,811.3L282.2,811.1L282.5,810.8L282.8,810.5L283.0,810.3L283.4,809.9L283.6,809.8L284.0,809.4L284.2,809.2L284.6,808.8L284.7,808.7L285.2,808.2L285.3,808.1L285.8,807.6L285.8,807.5L286.3,807.1L286.4,807.0L286.9,806.5L287.0,806.4L287.4,805.9L287.5,805.8L288.0,805.3L288.1,805.2L288.5,804.8L288.7,804.5L289.0,804.2L289.2,803.9L289.5,803.6L289.8,803.3L290.0,803.0L290.4,802.6L290.5,802.4L290.9,801.9L291.0,801.9L291.4,801.3L291.5,801.2L291.9,800.7L292.1,800.5L292.4,800.1L292.6,799.8L292.8,799.6L293.2,799.1L293.3,799.0L293.7,798.4L293.7,798.3L294.1,797.8L294.3,797.5L294.5,797.3L294.9,796.7L294.9,796.7L295.3,796.1L295.4,795.9L295.7,795.5L296.0,795.1L296.1,795.0L296.4,794.4L296.6,794.2L296.8,793.8L297.1,793.3L297.2,793.2L297.5,792.6L297.7,792.3L297.8,792.1L298.1,791.5L298.3,791.3L298.5,790.9L298.7,790.3L298.8,790.2L299.0,789.8L299.3,789.2L299.4,789.0L299.6,788.6L299.8,788.0L300.0,787.8L300.1,787.5L300.3,786.9L300.5,786.3L300.5,786.3L300.7,785.7L300.9,785.1L301.1,784.7L301.1,784.6L301.3,784.0L301.4,783.4L301.5,782.8L301.6,782.3L301.6,781.7L301.6,781.1L301.3,780.5L301.1,780.3L300.5,780.1L300.0,780.1L299.4,780.2L298.8,780.3L298.3,780.5L298.2,780.5L297.7,780.7L297.1,780.9L296.7,781.1L296.6,781.2L296.0,781.4L295.5,781.7L295.4,781.7L294.9,782.0L294.3,782.3L294.3,782.3L293.7,782.6L293.2,782.8L293.2,782.9L292.6,783.2L292.2,783.4L292.1,783.5L291.5,783.8L291.2,784.0L290.9,784.2L290.4,784.5L290.3,784.6L289.8,784.9L289.4,785.1L289.2,785.2L288.7,785.6L288.5,785.7L288.1,786.0L287.7,786.3L287.5,786.4L287.0,786.8L286.8,786.9L286.4,787.2L286.0,787.5L285.8,787.6L285.3,788.0L285.3,788.0L284.7,788.4L284.5,788.6L284.2,788.9L283.8,789.2L283.6,789.3L283.1,789.8L283.0,789.8L282.5,790.2L282.4,790.3L281.9,790.7L281.7,790.9L281.3,791.2L281.0,791.5L280.8,791.7L280.3,792.1L280.2,792.2L279.7,792.6L279.6,792.7L279.1,793.2L279.0,793.2L278.5,793.7L278.4,793.8L277.9,794.2L277.8,794.4L277.4,794.8L277.2,795.0L276.8,795.3L276.6,795.5L276.3,795.9L276.0,796.1L275.7,796.5L275.5,796.7L275.1,797.0L274.9,797.3L274.6,797.6L274.4,797.8L274.0,798.2L273.8,798.4L273.4,798.8L273.3,799.0L272.9,799.5L272.8,799.6L272.3,800.1L272.3,800.1L271.8,800.7L271.7,800.7L271.3,801.3L271.2,801.4L270.8,801.9L270.6,802.1L270.3,802.4L270.0,802.8L269.8,803.0L269.5,803.5L269.4,803.6L268.9,804.2L268.9,804.2L268.5,804.8L268.4,804.9L268.0,805.3L267.8,805.7L267.6,805.9L267.2,806.5L267.2,806.5L266.8,807.1L266.7,807.3L266.4,807.6L266.1,808.1L266.0,808.2L265.6,808.8L265.5,809.0L265.3,809.4L265.0,809.9L264.9,809.9L264.6,810.5L264.4,810.8L264.2,811.1L263.9,811.7L263.8,811.8L263.6,812.3L263.3,812.8L263.3,812.9L263.1,813.4L262.8,814.0L262.7,814.2L262.6,814.6L262.3,815.1L262.1,815.7L262.1,815.7L262.0,816.3L261.8,816.9L261.7,817.4L261.6,818.0L261.6,818.3L261.6,818.6L261.6,819.2L261.6,819.2L261.7,819.7L261.9,820.3L262.1,820.7L262.3,820.9L262.7,821.2L263.3,821.5ZM315.9,765.0L316.3,765.0L316.9,765.0L317.3,765.0L317.4,764.9L318.0,764.8L318.6,764.7L319.1,764.5L319.5,764.4L319.7,764.3L320.3,764.1L320.8,763.9L321.2,763.8L321.4,763.7L322.0,763.5L322.5,763.3L322.7,763.2L323.1,763.1L323.7,762.8L324.1,762.7L324.2,762.6L324.8,762.4L325.3,762.1L325.5,762.1L325.9,761.9L326.5,761.6L326.7,761.5L327.0,761.4L327.6,761.1L328.0,760.9L328.2,760.8L328.7,760.6L329.1,760.4L329.3,760.3L329.9,760.0L330.2,759.8L330.4,759.7L331.0,759.4L331.3,759.2L331.6,759.1L332.1,758.7L332.3,758.6L332.7,758.4L333.2,758.1L333.3,758.0L333.8,757.7L334.2,757.5L334.4,757.4L334.9,757.0L335.2,756.9L335.5,756.7L336.0,756.3L336.1,756.3L336.6,755.9L336.9,755.7L337.2,755.5L337.7,755.2L337.8,755.1L338.3,754.8L338.6,754.6L338.9,754.4L339.4,754.0L339.5,753.9L340.0,753.5L340.1,753.4L340.6,753.1L340.9,752.9L341.1,752.7L341.6,752.3L341.7,752.2L342.3,751.8L342.4,751.7L342.8,751.3L343.1,751.1L343.4,750.9L343.8,750.5L344.0,750.4L344.5,750.0L344.5,749.9L345.1,749.5L345.2,749.4L345.7,749.0L345.9,748.8L346.2,748.5L346.5,748.2L346.8,748.0L347.2,747.7L347.4,747.5L347.8,747.1L347.9,747.0L348.4,746.5L348.5,746.5L349.0,745.9L349.1,745.9L349.6,745.4L349.7,745.4L350.2,744.9L350.3,744.8L350.7,744.3L350.9,744.2L351.3,743.8L351.5,743.6L351.9,743.2L352.0,743.1L352.4,742.7L352.6,742.5L353.0,742.1L353.2,741.9L353.6,741.5L353.7,741.3L354.1,740.9L354.3,740.7L354.7,740.3L354.8,740.2L355.3,739.7L355.4,739.6L355.8,739.1L355.9,739.0L356.4,738.5L356.4,738.4L356.9,737.9L357.0,737.9L357.5,737.3L357.5,737.2L358.0,736.7L358.1,736.6L358.5,736.1L358.6,735.9L359.0,735.6L359.2,735.3L359.4,735.0L359.8,734.6L359.9,734.4L360.3,733.9L360.4,733.8L360.9,733.2L360.9,733.2L361.3,732.7L361.5,732.5L361.8,732.1L362.0,731.8L362.2,731.5L362.6,731.0L362.7,730.9L363.1,730.4L363.2,730.3L363.5,729.8L363.7,729.5L363.9,729.2L364.3,728.7L364.4,728.6L364.8,728.1L364.8,727.9L365.2,727.5L365.4,727.1L365.6,726.9L365.9,726.3L366.0,726.3L366.3,725.8L366.5,725.4L366.7,725.2L367.0,724.6L367.1,724.5L367.4,724.0L367.7,723.6L367.8,723.4L368.1,722.9L368.2,722.6L368.4,722.3L368.7,721.7L368.8,721.6L369.1,721.1L369.4,720.6L369.4,720.6L369.7,720.0L369.9,719.5L370.0,719.4L370.2,718.8L370.5,718.3L370.5,718.3L370.8,717.7L371.0,717.1L371.1,717.0L371.2,716.5L371.4,715.9L371.6,715.5L371.7,715.4L371.8,714.8L372.0,714.2L372.2,713.6L372.2,713.6L372.3,713.1L372.4,712.5L372.5,711.9L372.6,711.3L372.6,710.8L372.6,710.2L372.6,709.6L372.5,709.0L372.4,708.5L372.2,707.9L372.2,707.9L371.9,707.3L371.6,707.0L371.4,706.7L371.1,706.4L370.6,706.1L370.5,706.1L369.9,705.8L369.4,705.7L368.8,705.6L368.4,705.6L368.2,705.6L367.7,705.6L367.5,705.6L367.1,705.6L366.5,705.7L366.0,705.7L365.4,705.9L364.8,706.0L364.3,706.1L364.3,706.2L363.7,706.3L363.2,706.5L362.6,706.7L362.6,706.7L362.0,706.9L361.5,707.2L361.2,707.3L360.9,707.4L360.3,707.7L359.9,707.9L359.8,708.0L359.2,708.2L358.8,708.5L358.6,708.5L358.1,708.8L357.7,709.0L357.5,709.1L356.9,709.5L356.7,709.6L356.4,709.8L355.8,710.1L355.7,710.2L355.3,710.5L354.8,710.8L354.7,710.8L354.1,711.2L353.9,711.3L353.6,711.6L353.0,711.9L353.0,711.9L352.4,712.3L352.2,712.5L351.9,712.7L351.4,713.1L351.3,713.1L350.7,713.5L350.6,713.6L350.2,713.9L349.8,714.2L349.6,714.4L349.0,714.8L349.0,714.8L348.5,715.2L348.3,715.4L347.9,715.7L347.6,715.9L347.4,716.1L346.8,716.5L346.8,716.6L346.2,717.0L346.1,717.1L345.7,717.5L345.4,717.7L345.1,718.0L344.8,718.3L344.5,718.4L344.1,718.8L344.0,718.9L343.4,719.4L343.4,719.4L342.8,719.9L342.8,720.0L342.3,720.4L342.1,720.6L341.7,721.0L341.5,721.1L341.1,721.5L340.9,721.7L340.6,722.0L340.3,722.3L340.0,722.5L339.7,722.9L339.5,723.1L339.1,723.4L338.9,723.6L338.5,724.0L338.3,724.2L337.9,724.6L337.8,724.7L337.3,725.2L337.2,725.3L336.8,725.8L336.6,725.9L336.2,726.3L336.1,726.5L335.7,726.9L335.5,727.1L335.1,727.5L334.9,727.7L334.6,728.1L334.4,728.3L334.0,728.6L333.8,728.9L333.5,729.2L333.2,729.5L333.0,729.8L332.7,730.2L332.5,730.4L332.1,730.8L332.0,730.9L331.6,731.5L331.5,731.5L331.0,732.1L331.0,732.1L330.5,732.7L330.4,732.8L330.0,733.2L329.9,733.5L329.6,733.8L329.3,734.2L329.1,734.4L328.7,734.9L328.7,735.0L328.2,735.6L328.2,735.6L327.8,736.1L327.6,736.3L327.3,736.7L327.0,737.1L326.9,737.3L326.5,737.8L326.5,737.9L326.0,738.4L325.9,738.6L325.6,739.0L325.3,739.4L325.2,739.6L324.8,740.2L324.8,740.2L324.4,740.7L324.2,741.1L324.0,741.3L323.7,741.9L323.7,741.9L323.3,742.5L323.1,742.8L322.9,743.1L322.6,743.6L322.5,743.7L322.2,744.2L322.0,744.6L321.9,744.8L321.5,745.4L321.4,745.6L321.2,745.9L320.9,746.5L320.8,746.6L320.6,747.1L320.3,747.7L320.3,747.7L320.0,748.2L319.7,748.8L319.7,748.8L319.4,749.4L319.1,749.9L319.1,750.0L318.9,750.5L318.6,751.1L318.6,751.2L318.3,751.7L318.1,752.3L318.0,752.5L317.9,752.9L317.6,753.4L317.4,753.9L317.4,754.0L317.2,754.6L317.0,755.2L316.9,755.5L316.8,755.7L316.6,756.3L316.4,756.9L316.3,757.2L316.2,757.5L316.0,758.0L315.9,758.6L315.8,759.1L315.7,759.2L315.6,759.8L315.4,760.4L315.3,760.9L315.2,761.3L315.1,761.5L315.0,762.1L315.0,762.7L314.9,763.2L315.0,763.8L315.1,764.4L315.2,764.5L315.8,764.9Z" fill="rgb(222,222,222)" fill-rule="evenodd"/>
<path d="M269.7,813.4L270.0,813.6L270.6,813.8L271.2,813.8L271.7,813.7L272.3,813.6L272.9,813.4L272.9,813.4L273.4,813.2L274.0,812.9L274.2,812.8L274.6,812.6L275.1,812.3L275.3,812.3L275.7,812.0L276.2,811.7L276.3,811.6L276.8,811.3L277.1,811.1L277.4,810.9L277.9,810.5L277.9,810.5L278.5,810.1L278.7,809.9L279.1,809.6L279.4,809.4L279.6,809.2L280.1,808.8L280.2,808.7L280.8,808.2L280.8,808.2L281.3,807.7L281.4,807.6L281.9,807.2L282.0,807.1L282.5,806.7L282.7,806.5L283.0,806.1L283.2,805.9L283.6,805.6L283.8,805.3L284.2,805.0L284.4,804.8L284.7,804.4L284.9,804.2L285.3,803.8L285.5,803.6L285.8,803.2L286.0,803.0L286.4,802.5L286.5,802.4L286.9,801.9L287.0,801.8L287.4,801.3L287.5,801.1L287.9,800.7L288.1,800.4L288.3,800.1L288.7,799.7L288.7,799.6L289.1,799.0L289.2,798.9L289.5,798.4L289.8,798.0L289.9,797.8L290.3,797.3L290.4,797.1L290.6,796.7L290.9,796.2L291.0,796.1L291.3,795.5L291.5,795.1L291.5,795.0L291.8,794.4L292.0,793.8L292.1,793.7L292.2,793.2L292.4,792.6L292.5,792.1L292.5,791.5L292.4,790.9L292.1,790.3L292.1,790.3L291.5,790.0L290.9,790.0L290.4,790.0L289.8,790.1L289.2,790.3L289.1,790.3L288.7,790.5L288.1,790.8L287.8,790.9L287.5,791.0L287.0,791.3L286.7,791.5L286.4,791.6L285.8,792.0L285.7,792.1L285.3,792.3L284.8,792.6L284.7,792.7L284.2,793.1L284.0,793.2L283.6,793.5L283.2,793.8L283.0,794.0L282.5,794.4L282.5,794.4L281.9,794.8L281.8,795.0L281.3,795.3L281.1,795.5L280.8,795.8L280.4,796.1L280.2,796.3L279.8,796.7L279.6,796.8L279.2,797.3L279.1,797.3L278.6,797.8L278.5,797.9L278.0,798.4L277.9,798.4L277.4,799.0L277.4,799.0L276.9,799.6L276.8,799.6L276.3,800.1L276.3,800.2L275.8,800.7L275.7,800.8L275.3,801.3L275.1,801.5L274.8,801.9L274.6,802.2L274.3,802.4L274.0,802.9L273.9,803.0L273.4,803.6L273.4,803.6L273.0,804.2L272.9,804.3L272.6,804.8L272.3,805.1L272.2,805.3L271.8,805.9L271.7,806.0L271.4,806.5L271.2,806.9L271.1,807.1L270.7,807.6L270.6,807.9L270.4,808.2L270.1,808.8L270.0,809.0L269.9,809.4L269.7,809.9L269.5,810.5L269.5,810.5L269.3,811.1L269.2,811.7L269.2,812.3L269.3,812.8L269.5,813.1ZM322.0,758.0L322.5,758.3L323.1,758.5L323.7,758.5L324.2,758.5L324.8,758.5L325.3,758.4L325.9,758.3L326.5,758.2L327.0,758.0L327.0,758.0L327.6,757.9L328.2,757.7L328.7,757.5L328.7,757.5L329.3,757.3L329.9,757.0L330.2,756.9L330.4,756.8L331.0,756.5L331.4,756.3L331.6,756.3L332.1,756.0L332.6,755.7L332.7,755.7L333.2,755.4L333.7,755.2L333.8,755.1L334.4,754.8L334.7,754.6L334.9,754.4L335.5,754.1L335.7,754.0L336.1,753.8L336.6,753.4L336.6,753.4L337.2,753.0L337.5,752.9L337.8,752.7L338.3,752.3L338.3,752.3L338.9,751.9L339.2,751.7L339.5,751.5L340.0,751.1L340.0,751.1L340.6,750.7L340.8,750.5L341.1,750.3L341.5,750.0L341.7,749.8L342.3,749.4L342.3,749.4L342.8,749.0L343.0,748.8L343.4,748.5L343.7,748.2L344.0,748.0L344.4,747.7L344.5,747.6L345.1,747.1L345.1,747.1L345.7,746.6L345.8,746.5L346.2,746.1L346.4,745.9L346.8,745.6L347.1,745.4L347.4,745.1L347.7,744.8L347.9,744.6L348.3,744.2L348.5,744.1L349.0,743.6L349.0,743.5L349.6,743.1L349.6,743.0L350.2,742.5L350.2,742.5L350.7,741.9L350.7,741.9L351.3,741.3L351.3,741.3L351.9,740.8L351.9,740.7L352.4,740.2L352.4,740.2L353.0,739.6L353.0,739.6L353.5,739.0L353.6,739.0L354.1,738.4L354.1,738.4L354.6,737.9L354.7,737.8L355.1,737.3L355.3,737.1L355.6,736.7L355.8,736.5L356.1,736.1L356.4,735.9L356.6,735.6L356.9,735.2L357.1,735.0L357.5,734.5L357.6,734.4L358.1,733.8L358.1,733.8L358.5,733.2L358.6,733.1L359.0,732.7L359.2,732.4L359.4,732.1L359.8,731.7L359.9,731.5L360.3,730.9L360.3,730.9L360.8,730.4L360.9,730.2L361.2,729.8L361.5,729.4L361.6,729.2L362.0,728.6L362.0,728.6L362.4,728.1L362.6,727.7L362.8,727.5L363.1,726.9L363.2,726.9L363.5,726.3L363.7,726.0L363.9,725.8L364.2,725.2L364.3,725.1L364.6,724.6L364.8,724.1L364.9,724.0L365.2,723.4L365.4,723.1L365.5,722.9L365.8,722.3L366.0,722.0L366.1,721.7L366.4,721.1L366.5,720.9L366.7,720.6L366.9,720.0L367.1,719.6L367.2,719.4L367.4,718.8L367.6,718.3L367.7,718.1L367.8,717.7L368.0,717.1L368.1,716.5L368.2,716.0L368.3,715.9L368.4,715.4L368.4,714.8L368.5,714.2L368.5,713.6L368.4,713.1L368.3,712.5L368.2,712.2L368.1,711.9L367.9,711.3L367.7,711.1L367.4,710.8L367.1,710.5L366.5,710.2L366.5,710.2L366.0,710.0L365.4,709.9L364.8,709.8L364.3,709.8L363.7,709.8L363.2,709.9L362.6,710.0L362.0,710.1L361.9,710.2L361.5,710.3L360.9,710.5L360.3,710.7L360.1,710.8L359.8,710.9L359.2,711.1L358.6,711.3L358.6,711.3L358.1,711.6L357.5,711.9L357.4,711.9L356.9,712.1L356.4,712.4L356.3,712.5L355.8,712.7L355.3,713.1L355.3,713.1L354.7,713.4L354.3,713.6L354.1,713.7L353.6,714.1L353.3,714.2L353.0,714.4L352.4,714.8L352.4,714.8L351.9,715.2L351.6,715.4L351.3,715.6L350.8,715.9L350.7,716.0L350.2,716.4L349.9,716.5L349.6,716.8L349.2,717.1L349.0,717.2L348.5,717.6L348.4,717.7L347.9,718.0L347.7,718.3L347.4,718.5L346.9,718.8L346.8,718.9L346.2,719.4L346.2,719.4L345.7,719.9L345.5,720.0L345.1,720.3L344.8,720.6L344.5,720.8L344.2,721.1L344.0,721.3L343.5,721.7L343.4,721.8L342.9,722.3L342.8,722.3L342.3,722.8L342.2,722.9L341.7,723.3L341.6,723.4L341.1,723.9L341.0,724.0L340.6,724.4L340.4,724.6L340.0,725.0L339.8,725.2L339.5,725.5L339.2,725.8L338.9,726.1L338.6,726.3L338.3,726.6L338.1,726.9L337.8,727.2L337.5,727.5L337.2,727.8L337.0,728.1L336.6,728.4L336.4,728.6L336.1,729.0L335.9,729.2L335.5,729.6L335.4,729.8L334.9,730.3L334.8,730.4L334.4,730.9L334.3,730.9L333.8,731.5L333.8,731.5L333.3,732.1L333.2,732.2L332.8,732.7L332.7,732.9L332.4,733.2L332.1,733.5L331.9,733.8L331.6,734.2L331.4,734.4L331.0,735.0L331.0,735.0L330.5,735.6L330.4,735.7L330.1,736.1L329.9,736.4L329.6,736.7L329.3,737.2L329.2,737.3L328.8,737.9L328.7,738.0L328.4,738.4L328.2,738.8L328.0,739.0L327.6,739.6L327.6,739.6L327.2,740.2L327.0,740.4L326.8,740.7L326.5,741.3L326.5,741.3L326.1,741.9L325.9,742.2L325.7,742.5L325.4,743.1L325.3,743.2L325.1,743.6L324.8,744.1L324.7,744.2L324.4,744.8L324.2,745.2L324.1,745.4L323.8,745.9L323.7,746.3L323.5,746.5L323.3,747.1L323.1,747.5L323.0,747.7L322.7,748.2L322.5,748.8L322.5,748.8L322.3,749.4L322.1,750.0L322.0,750.3L321.9,750.5L321.7,751.1L321.5,751.7L321.4,752.1L321.4,752.3L321.2,752.9L321.1,753.4L321.0,754.0L321.0,754.6L320.9,755.2L320.9,755.7L321.0,756.3L321.2,756.9L321.4,757.4L321.5,757.5L322.0,758.0Z" fill="rgb(204,204,204)" fill-rule="evenodd"/>
<path d="M326.1,754.6L326.5,754.7L327.0,754.8L327.6,754.8L328.2,754.8L328.7,754.7L329.3,754.6L329.5,754.6L329.9,754.5L330.4,754.3L331.0,754.2L331.4,754.0L331.6,754.0L332.1,753.7L332.7,753.5L332.8,753.4L333.2,753.2L333.8,753.0L334.1,752.9L334.4,752.7L334.9,752.4L335.2,752.3L335.5,752.1L336.1,751.8L336.2,751.7L336.6,751.4L337.2,751.1L337.2,751.1L337.8,750.8L338.1,750.5L338.3,750.4L338.9,750.0L338.9,750.0L339.5,749.6L339.8,749.4L340.0,749.2L340.6,748.8L340.6,748.8L341.1,748.4L341.4,748.2L341.7,748.0L342.1,747.7L342.3,747.6L342.8,747.1L342.9,747.1L343.4,746.7L343.6,746.5L344.0,746.2L344.3,745.9L344.5,745.8L345.0,745.4L345.1,745.3L345.7,744.8L345.7,744.8L346.2,744.3L346.3,744.2L346.8,743.8L347.0,743.6L347.4,743.3L347.6,743.1L347.9,742.8L348.2,742.5L348.5,742.2L348.8,741.9L349.0,741.7L349.4,741.3L349.6,741.2L350.0,740.7L350.2,740.6L350.6,740.2L350.7,740.0L351.2,739.6L351.3,739.4L351.7,739.0L351.9,738.9L352.3,738.4L352.4,738.3L352.8,737.9L353.0,737.6L353.3,737.3L353.6,737.0L353.8,736.7L354.1,736.4L354.4,736.1L354.7,735.7L354.9,735.6L355.3,735.1L355.3,735.0L355.8,734.4L355.8,734.4L356.3,733.8L356.4,733.7L356.8,733.2L356.9,733.0L357.2,732.7L357.5,732.3L357.7,732.1L358.1,731.6L358.1,731.5L358.5,730.9L358.6,730.8L359.0,730.4L359.2,730.0L359.4,729.8L359.8,729.2L359.8,729.2L360.2,728.6L360.3,728.4L360.5,728.1L360.9,727.5L360.9,727.5L361.3,726.9L361.5,726.6L361.6,726.3L362.0,725.8L362.0,725.7L362.3,725.2L362.6,724.7L362.6,724.6L362.9,724.0L363.2,723.6L363.2,723.4L363.5,722.9L363.7,722.4L363.8,722.3L364.0,721.7L364.3,721.1L364.3,721.1L364.5,720.6L364.7,720.0L364.8,719.4L364.8,719.4L365.0,718.8L365.1,718.3L365.2,717.7L365.3,717.1L365.3,716.5L365.3,715.9L365.2,715.4L365.0,714.8L364.8,714.5L364.6,714.2L364.3,713.8L364.0,713.6L363.7,713.4L363.2,713.2L362.6,713.1L362.2,713.1L362.0,713.1L361.5,713.1L361.5,713.1L360.9,713.1L360.3,713.2L359.8,713.3L359.2,713.5L358.7,713.6L358.6,713.7L358.1,713.9L357.5,714.1L357.2,714.2L356.9,714.3L356.4,714.6L355.9,714.8L355.8,714.8L355.3,715.1L354.8,715.4L354.7,715.4L354.1,715.7L353.7,715.9L353.6,716.0L353.0,716.4L352.8,716.5L352.4,716.7L351.9,717.1L351.8,717.1L351.3,717.5L351.0,717.7L350.7,717.8L350.2,718.2L350.1,718.3L349.6,718.6L349.3,718.8L349.0,719.0L348.5,719.4L348.5,719.5L347.9,719.9L347.8,720.0L347.4,720.3L347.0,720.6L346.8,720.8L346.3,721.1L346.2,721.2L345.7,721.7L345.6,721.7L345.1,722.2L344.9,722.3L344.5,722.6L344.3,722.9L344.0,723.1L343.6,723.4L343.4,723.6L343.0,724.0L342.8,724.1L342.3,724.6L342.3,724.7L341.7,725.2L341.7,725.2L341.1,725.7L341.1,725.8L340.6,726.3L340.5,726.3L340.0,726.8L339.9,726.9L339.5,727.4L339.4,727.5L338.9,728.0L338.8,728.1L338.3,728.5L338.2,728.6L337.8,729.1L337.7,729.2L337.2,729.7L337.2,729.8L336.6,730.4L336.6,730.4L336.1,730.9L336.1,731.0L335.6,731.5L335.5,731.6L335.1,732.1L334.9,732.3L334.6,732.7L334.4,733.0L334.1,733.2L333.8,733.7L333.7,733.8L333.2,734.4L333.2,734.4L332.8,735.0L332.7,735.1L332.3,735.6L332.1,735.8L331.9,736.1L331.6,736.6L331.4,736.7L331.0,737.3L331.0,737.3L330.6,737.9L330.4,738.1L330.2,738.4L329.9,739.0L329.8,739.0L329.4,739.6L329.3,739.8L329.1,740.2L328.7,740.7L328.7,740.7L328.3,741.3L328.2,741.6L328.0,741.9L327.7,742.5L327.6,742.6L327.4,743.1L327.0,743.6L327.0,743.6L326.7,744.2L326.5,744.8L326.5,744.8L326.2,745.4L325.9,745.9L325.9,746.0L325.7,746.5L325.5,747.1L325.3,747.4L325.3,747.7L325.1,748.2L324.9,748.8L324.8,749.3L324.8,749.4L324.6,750.0L324.5,750.5L324.5,751.1L324.5,751.7L324.5,752.3L324.6,752.9L324.8,753.4L324.8,753.4L325.2,754.0L325.3,754.1L325.9,754.5Z" fill="rgb(184,184,184)" fill-rule="evenodd"/>
<path d="M329.0,751.7L329.3,751.8L329.9,751.9L330.4,751.9L331.0,751.8L331.6,751.7L331.6,751.7L332.1,751.6L332.7,751.4L333.2,751.2L333.6,751.1L333.8,751.0L334.4,750.8L334.9,750.5L334.9,750.5L335.5,750.3L336.1,750.0L336.1,750.0L336.6,749.7L337.2,749.4L337.2,749.4L337.8,749.1L338.1,748.8L338.3,748.7L338.9,748.4L339.1,748.2L339.5,748.0L339.9,747.7L340.0,747.6L340.6,747.2L340.8,747.1L341.1,746.8L341.6,746.5L341.7,746.4L342.3,746.0L342.3,745.9L342.8,745.6L343.1,745.4L343.4,745.1L343.8,744.8L344.0,744.7L344.5,744.2L344.5,744.2L345.1,743.7L345.2,743.6L345.7,743.2L345.9,743.1L346.2,742.7L346.5,742.5L346.8,742.2L347.2,741.9L347.4,741.7L347.8,741.3L347.9,741.2L348.4,740.7L348.5,740.6L349.0,740.2L349.0,740.1L349.6,739.6L349.6,739.5L350.1,739.0L350.2,739.0L350.7,738.4L350.7,738.4L351.2,737.9L351.3,737.8L351.8,737.3L351.9,737.2L352.3,736.7L352.4,736.6L352.8,736.1L353.0,735.9L353.3,735.6L353.6,735.3L353.8,735.0L354.1,734.6L354.3,734.4L354.7,733.9L354.8,733.8L355.2,733.2L355.3,733.2L355.7,732.7L355.8,732.5L356.1,732.1L356.4,731.8L356.6,731.5L356.9,731.0L357.0,730.9L357.4,730.4L357.5,730.2L357.8,729.8L358.1,729.4L358.2,729.2L358.6,728.6L358.6,728.5L358.9,728.1L359.2,727.6L359.3,727.5L359.6,726.9L359.8,726.7L360.0,726.3L360.3,725.8L360.3,725.7L360.6,725.2L360.9,724.6L360.9,724.6L361.2,724.0L361.4,723.4L361.5,723.3L361.6,722.9L361.9,722.3L362.0,721.8L362.1,721.7L362.2,721.1L362.4,720.6L362.5,720.0L362.5,719.4L362.6,718.8L362.5,718.3L362.4,717.7L362.1,717.1L362.0,716.9L361.7,716.5L361.5,716.4L360.9,716.1L360.5,715.9L360.3,715.9L359.8,715.9L359.2,715.9L358.6,715.9L358.5,715.9L358.1,716.0L357.5,716.2L356.9,716.3L356.4,716.5L356.4,716.5L355.8,716.7L355.3,717.0L355.0,717.1L354.7,717.2L354.1,717.5L353.8,717.7L353.6,717.8L353.0,718.1L352.7,718.3L352.4,718.4L351.9,718.8L351.8,718.8L351.3,719.1L350.8,719.4L350.7,719.5L350.2,719.9L350.0,720.0L349.6,720.2L349.1,720.6L349.0,720.6L348.5,721.0L348.4,721.1L347.9,721.5L347.6,721.7L347.4,721.9L346.8,722.3L346.8,722.3L346.2,722.8L346.1,722.9L345.7,723.2L345.4,723.4L345.1,723.7L344.7,724.0L344.5,724.2L344.1,724.6L344.0,724.7L343.4,725.2L343.4,725.2L342.8,725.7L342.8,725.8L342.3,726.2L342.2,726.3L341.7,726.8L341.6,726.9L341.1,727.3L341.0,727.5L340.6,727.9L340.4,728.1L340.0,728.4L339.8,728.6L339.5,729.0L339.3,729.2L338.9,729.6L338.7,729.8L338.3,730.2L338.2,730.4L337.8,730.8L337.7,730.9L337.2,731.5L337.2,731.5L336.6,732.1L336.6,732.1L336.2,732.7L336.1,732.8L335.7,733.2L335.5,733.5L335.2,733.8L334.9,734.1L334.7,734.4L334.4,734.9L334.3,735.0L333.8,735.6L333.8,735.6L333.4,736.1L333.2,736.4L333.0,736.7L332.7,737.1L332.6,737.3L332.2,737.9L332.1,737.9L331.8,738.4L331.6,738.8L331.4,739.0L331.0,739.6L331.0,739.7L330.7,740.2L330.4,740.6L330.3,740.7L330.0,741.3L329.9,741.6L329.7,741.9L329.4,742.5L329.3,742.7L329.1,743.1L328.8,743.6L328.7,743.8L328.6,744.2L328.3,744.8L328.2,745.2L328.1,745.4L327.9,745.9L327.7,746.5L327.6,747.0L327.6,747.1L327.5,747.7L327.4,748.2L327.3,748.8L327.4,749.4L327.5,750.0L327.6,750.4L327.7,750.5L328.1,751.1L328.2,751.2L328.7,751.6Z" fill="rgb(162,162,162)" fill-rule="evenodd"/>
<path d="M330.9,748.8L331.0,748.9L331.6,749.1L332.1,749.2L332.7,749.2L333.2,749.1L333.8,749.0L334.4,748.9L334.6,748.8L334.9,748.7L335.5,748.5L336.1,748.3L336.1,748.2L336.6,748.0L337.2,747.7L337.3,747.7L337.8,747.4L338.3,747.1L338.4,747.1L338.9,746.8L339.3,746.5L339.5,746.4L340.0,746.1L340.3,745.9L340.6,745.7L341.1,745.4L341.1,745.3L341.7,744.9L341.9,744.8L342.3,744.5L342.7,744.2L342.8,744.1L343.4,743.7L343.4,743.6L344.0,743.2L344.2,743.1L344.5,742.7L344.8,742.5L345.1,742.3L345.5,741.9L345.7,741.8L346.2,741.3L346.2,741.3L346.8,740.8L346.8,740.7L347.4,740.2L347.4,740.2L347.9,739.7L348.0,739.6L348.5,739.2L348.6,739.0L349.0,738.6L349.2,738.4L349.6,738.0L349.8,737.9L350.2,737.4L350.3,737.3L350.7,736.8L350.9,736.7L351.3,736.2L351.4,736.1L351.9,735.6L351.9,735.6L352.4,735.0L352.4,734.9L352.9,734.4L353.0,734.3L353.4,733.8L353.6,733.6L353.8,733.2L354.1,732.9L354.3,732.7L354.7,732.1L354.7,732.1L355.1,731.5L355.3,731.3L355.5,730.9L355.8,730.6L355.9,730.4L356.3,729.8L356.4,729.7L356.7,729.2L356.9,728.8L357.1,728.6L357.4,728.1L357.5,727.9L357.8,727.5L358.1,726.9L358.1,726.9L358.4,726.3L358.6,725.8L358.7,725.8L358.9,725.2L359.2,724.6L359.2,724.5L359.4,724.0L359.6,723.4L359.8,722.9L359.8,722.8L359.9,722.3L360.0,721.7L360.0,721.1L360.0,720.6L359.9,720.0L359.8,719.7L359.6,719.4L359.2,719.0L359.0,718.8L358.6,718.7L358.1,718.5L357.5,718.5L356.9,718.5L356.4,718.6L355.8,718.7L355.3,718.8L355.3,718.9L354.7,719.0L354.1,719.3L353.8,719.4L353.6,719.5L353.0,719.8L352.6,720.0L352.4,720.1L351.9,720.4L351.5,720.6L351.3,720.7L350.7,721.0L350.6,721.1L350.2,721.4L349.7,721.7L349.6,721.7L349.0,722.1L348.8,722.3L348.5,722.5L348.0,722.9L347.9,722.9L347.4,723.4L347.2,723.4L346.8,723.8L346.5,724.0L346.2,724.2L345.8,724.6L345.7,724.7L345.1,725.2L345.1,725.2L344.5,725.6L344.4,725.8L344.0,726.1L343.8,726.3L343.4,726.7L343.1,726.9L342.8,727.2L342.5,727.5L342.3,727.7L341.9,728.1L341.7,728.2L341.3,728.6L341.1,728.8L340.7,729.2L340.6,729.4L340.2,729.8L340.0,730.0L339.6,730.4L339.5,730.6L339.1,730.9L338.9,731.2L338.6,731.5L338.3,731.8L338.1,732.1L337.8,732.5L337.6,732.7L337.2,733.1L337.1,733.2L336.6,733.8L336.6,733.8L336.2,734.4L336.1,734.5L335.7,735.0L335.5,735.2L335.3,735.6L334.9,736.0L334.8,736.1L334.4,736.7L334.4,736.8L334.0,737.3L333.8,737.6L333.6,737.9L333.3,738.4L333.2,738.5L332.9,739.0L332.7,739.4L332.6,739.6L332.2,740.2L332.1,740.4L331.9,740.7L331.6,741.3L331.6,741.4L331.3,741.9L331.1,742.5L331.0,742.6L330.8,743.1L330.6,743.6L330.4,744.1L330.4,744.2L330.2,744.8L330.1,745.4L330.0,745.9L330.0,746.5L330.0,747.1L330.1,747.7L330.3,748.2L330.4,748.4Z" fill="rgb(138,138,138)" fill-rule="evenodd"/>
<path d="M333.9,746.5L334.4,746.6L334.9,746.6L335.4,746.5L335.5,746.5L336.1,746.4L336.6,746.2L337.2,746.0L337.3,745.9L337.8,745.7L338.3,745.5L338.6,745.4L338.9,745.2L339.5,744.9L339.6,744.8L340.0,744.6L340.6,744.2L340.6,744.2L341.1,743.8L341.5,743.6L341.7,743.5L342.3,743.1L342.3,743.1L342.8,742.6L343.1,742.5L343.4,742.2L343.8,741.9L344.0,741.8L344.5,741.3L344.5,741.3L345.1,740.8L345.2,740.7L345.7,740.4L345.9,740.2L346.2,739.8L346.5,739.6L346.8,739.3L347.1,739.0L347.4,738.8L347.7,738.4L347.9,738.3L348.3,737.9L348.5,737.7L348.9,737.3L349.0,737.1L349.4,736.7L349.6,736.5L350.0,736.1L350.2,735.9L350.5,735.6L350.7,735.3L351.0,735.0L351.3,734.6L351.5,734.4L351.9,733.9L352.0,733.8L352.4,733.2L352.4,733.2L352.9,732.7L353.0,732.5L353.3,732.1L353.6,731.7L353.7,731.5L354.1,730.9L354.1,730.9L354.5,730.4L354.7,730.1L354.9,729.8L355.2,729.2L355.3,729.2L355.6,728.6L355.8,728.2L355.9,728.1L356.2,727.5L356.4,727.1L356.5,726.9L356.7,726.3L356.9,725.8L357.0,725.8L357.2,725.2L357.3,724.6L357.4,724.0L357.5,723.4L357.5,722.9L357.4,722.3L357.1,721.7L356.9,721.6L356.4,721.2L356.2,721.1L355.8,721.0L355.3,721.0L354.7,721.1L354.3,721.1L354.1,721.2L353.6,721.3L353.0,721.5L352.5,721.7L352.4,721.8L351.9,722.0L351.3,722.3L351.3,722.3L350.7,722.6L350.3,722.9L350.2,722.9L349.6,723.3L349.3,723.4L349.0,723.6L348.5,724.0L348.5,724.0L347.9,724.4L347.6,724.6L347.4,724.8L346.9,725.2L346.8,725.2L346.2,725.7L346.1,725.8L345.7,726.1L345.4,726.3L345.1,726.6L344.7,726.9L344.5,727.1L344.1,727.5L344.0,727.6L343.4,728.1L343.4,728.1L342.8,728.6L342.8,728.6L342.3,729.2L342.2,729.2L341.7,729.7L341.6,729.8L341.1,730.3L341.1,730.4L340.6,730.9L340.5,730.9L340.0,731.5L340.0,731.5L339.5,732.1L339.5,732.1L339.0,732.7L338.9,732.8L338.5,733.2L338.3,733.4L338.0,733.8L337.8,734.1L337.6,734.4L337.2,734.9L337.1,735.0L336.7,735.6L336.6,735.6L336.3,736.1L336.1,736.4L335.9,736.7L335.5,737.2L335.5,737.3L335.1,737.9L334.9,738.1L334.7,738.4L334.4,739.0L334.4,739.1L334.1,739.6L333.8,740.1L333.8,740.2L333.5,740.7L333.3,741.3L333.2,741.4L333.0,741.9L332.8,742.5L332.7,743.0L332.7,743.1L332.6,743.6L332.5,744.2L332.5,744.8L332.6,745.4L332.7,745.5L332.9,745.9L333.2,746.2L333.8,746.5Z" fill="rgb(108,108,108)" fill-rule="evenodd"/>
<path d="M335.8,743.6L336.1,743.8L336.6,743.9L337.2,743.9L337.8,743.8L338.2,743.6L338.3,743.6L338.9,743.4L339.5,743.1L339.6,743.1L340.0,742.9L340.6,742.6L340.7,742.5L341.1,742.2L341.7,741.9L341.7,741.9L342.3,741.5L342.5,741.3L342.8,741.1L343.3,740.7L343.4,740.7L344.0,740.3L344.1,740.2L344.5,739.8L344.8,739.6L345.1,739.3L345.5,739.0L345.7,738.8L346.1,738.4L346.2,738.3L346.7,737.9L346.8,737.8L347.3,737.3L347.4,737.3L347.9,736.7L347.9,736.7L348.5,736.1L348.5,736.1L349.0,735.6L349.0,735.5L349.5,735.0L349.6,734.9L350.0,734.4L350.2,734.2L350.5,733.8L350.7,733.5L350.9,733.2L351.3,732.8L351.4,732.7L351.8,732.1L351.9,732.0L352.2,731.5L352.4,731.2L352.6,730.9L353.0,730.4L353.0,730.3L353.3,729.8L353.6,729.3L353.6,729.2L353.9,728.6L354.1,728.2L354.2,728.1L354.4,727.5L354.6,726.9L354.7,726.6L354.8,726.3L354.9,725.8L354.9,725.2L354.7,724.6L354.7,724.5L354.3,724.0L354.1,723.9L353.6,723.7L353.0,723.7L352.4,723.8L351.9,723.9L351.6,724.0L351.3,724.1L350.7,724.4L350.2,724.6L350.2,724.6L349.6,724.9L349.2,725.2L349.0,725.2L348.5,725.6L348.2,725.8L347.9,726.0L347.4,726.3L347.4,726.3L346.8,726.8L346.6,726.9L346.2,727.2L345.8,727.5L345.7,727.6L345.1,728.1L345.1,728.1L344.5,728.6L344.5,728.6L344.0,729.1L343.8,729.2L343.4,729.6L343.2,729.8L342.8,730.2L342.6,730.4L342.3,730.7L342.1,730.9L341.7,731.3L341.5,731.5L341.1,731.9L341.0,732.1L340.6,732.5L340.5,732.7L340.0,733.2L340.0,733.2L339.5,733.8L339.5,733.9L339.0,734.4L338.9,734.6L338.6,735.0L338.3,735.3L338.2,735.6L337.8,736.1L337.8,736.1L337.4,736.7L337.2,737.0L337.0,737.3L336.7,737.9L336.6,737.9L336.4,738.4L336.1,739.0L336.1,739.0L335.8,739.6L335.6,740.2L335.5,740.4L335.4,740.7L335.2,741.3L335.2,741.9L335.2,742.5L335.3,743.1L335.5,743.4Z" fill="rgb(72,72,72)" fill-rule="evenodd"/>
<path d="M338.4,740.2L338.9,740.6L339.5,740.7L340.0,740.6L340.6,740.4L341.1,740.2L341.3,740.2L341.7,739.9L342.3,739.6L342.3,739.6L342.8,739.3L343.2,739.0L343.4,738.9L344.0,738.5L344.0,738.4L344.5,738.0L344.7,737.9L345.1,737.6L345.4,737.3L345.7,737.1L346.1,736.7L346.2,736.5L346.7,736.1L346.8,736.0L347.2,735.6L347.4,735.4L347.8,735.0L347.9,734.8L348.3,734.4L348.5,734.1L348.7,733.8L349.0,733.5L349.2,733.2L349.6,732.7L349.6,732.7L350.0,732.1L350.2,731.9L350.4,731.5L350.7,731.0L350.8,730.9L351.1,730.4L351.3,729.9L351.3,729.8L351.6,729.2L351.7,728.6L351.8,728.1L351.7,727.5L351.3,727.0L350.9,726.9L350.7,726.9L350.3,726.9L350.2,726.9L349.6,727.1L349.0,727.3L348.6,727.5L348.5,727.5L347.9,727.8L347.6,728.1L347.4,728.2L346.8,728.6L346.7,728.6L346.2,729.0L345.9,729.2L345.7,729.4L345.2,729.8L345.1,729.9L344.5,730.3L344.5,730.4L344.0,730.9L343.9,730.9L343.4,731.4L343.3,731.5L342.8,732.0L342.7,732.1L342.3,732.6L342.2,732.7L341.7,733.2L341.7,733.2L341.2,733.8L341.1,733.9L340.8,734.4L340.6,734.6L340.3,735.0L340.0,735.4L339.9,735.6L339.6,736.1L339.5,736.3L339.2,736.7L338.9,737.3L338.9,737.4L338.7,737.9L338.5,738.4L338.3,738.9L338.3,739.0L338.3,739.6L338.3,740.0Z" fill="rgb(22,22,22)" fill-rule="evenodd"/>
</g>
<line x1="244.70" y1="672.60" x2="244.70" y2="837.00" stroke="#c8c8c8" stroke-width="1.1"/>
<line x1="244.70" y1="837.00" x2="404.50" y2="837.00" stroke="#c8c8c8" stroke-width="1.1"/>
<text x="240.80" y="840.00" font-size="8.93" text-anchor="end" fill="#000" textLength="5.41" lengthAdjust="spacingAndGlyphs" stroke="#000" stroke-width="0.3">0</text>
<text x="240.80" y="816.70" font-size="8.93" text-anchor="end" fill="#000" textLength="10.82" lengthAdjust="spacingAndGlyphs" stroke="#000" stroke-width="0.3">10</text>
<text x="240.80" y="793.40" font-size="8.93" text-anchor="end" fill="#000" textLength="10.82" lengthAdjust="spacingAndGlyphs" stroke="#000" stroke-width="0.3">20</text>
<text x="240.80" y="770.10" font-size="8.93" text-anchor="end" fill="#000" textLength="10.82" lengthAdjust="spacingAndGlyphs" stroke="#000" stroke-width="0.3">30</text>
<text x="240.80" y="746.80" font-size="8.93" text-anchor="end" fill="#000" textLength="10.82" lengthAdjust="spacingAndGlyphs" stroke="#000" stroke-width="0.3">40</text>
<text x="240.80" y="723.50" font-size="8.93" text-anchor="end" fill="#000" textLength="10.82" lengthAdjust="spacingAndGlyphs" stroke="#000" stroke-width="0.3">50</text>
<text x="240.80" y="700.20" font-size="8.93" text-anchor="end" fill="#000" textLength="10.82" lengthAdjust="spacingAndGlyphs" stroke="#000" stroke-width="0.3">60</text>
<text x="240.80" y="676.90" font-size="8.93" text-anchor="end" fill="#000" textLength="10.82" lengthAdjust="spacingAndGlyphs" stroke="#000" stroke-width="0.3">70</text>
<text x="244.70" y="846.90" font-size="8.93" text-anchor="middle" fill="#000" textLength="5.41" lengthAdjust="spacingAndGlyphs" stroke="#000" stroke-width="0.3">0</text>
<text x="290.30" y="846.90" font-size="8.93" text-anchor="middle" fill="#000" textLength="10.82" lengthAdjust="spacingAndGlyphs" stroke="#000" stroke-width="0.3">20</text>
<text x="335.90" y="846.90" font-size="8.93" text-anchor="middle" fill="#000" textLength="10.82" lengthAdjust="spacingAndGlyphs" stroke="#000" stroke-width="0.3">40</text>
<text x="381.50" y="846.90" font-size="8.93" text-anchor="middle" fill="#000" textLength="10.82" lengthAdjust="spacingAndGlyphs" stroke="#000" stroke-width="0.3">60</text>
<text x="323.00" y="858.40" font-size="10.40" text-anchor="middle" fill="#000" textLength="23.77" lengthAdjust="spacingAndGlyphs" stroke="#000" stroke-width="0.3">Birth</text>
<text x="326.00" y="868.00" font-size="10.50" text-anchor="middle" fill="#000" textLength="104.09" lengthAdjust="spacingAndGlyphs" stroke="#000" stroke-width="0.3">[radial distance, µm]</text>
<text x="8.20" y="756.50" font-size="10.40" text-anchor="middle" fill="#000" textLength="29.94" lengthAdjust="spacingAndGlyphs" transform="rotate(-90 8.20 756.50)" stroke="#000" stroke-width="0.3">Death</text>
<text x="18.60" y="753.50" font-size="10.08" text-anchor="middle" fill="#000" textLength="99.92" lengthAdjust="spacingAndGlyphs" transform="rotate(-90 18.60 753.50)" stroke="#000" stroke-width="0.3">[radial distance, µm]</text>
</svg></body></html>
